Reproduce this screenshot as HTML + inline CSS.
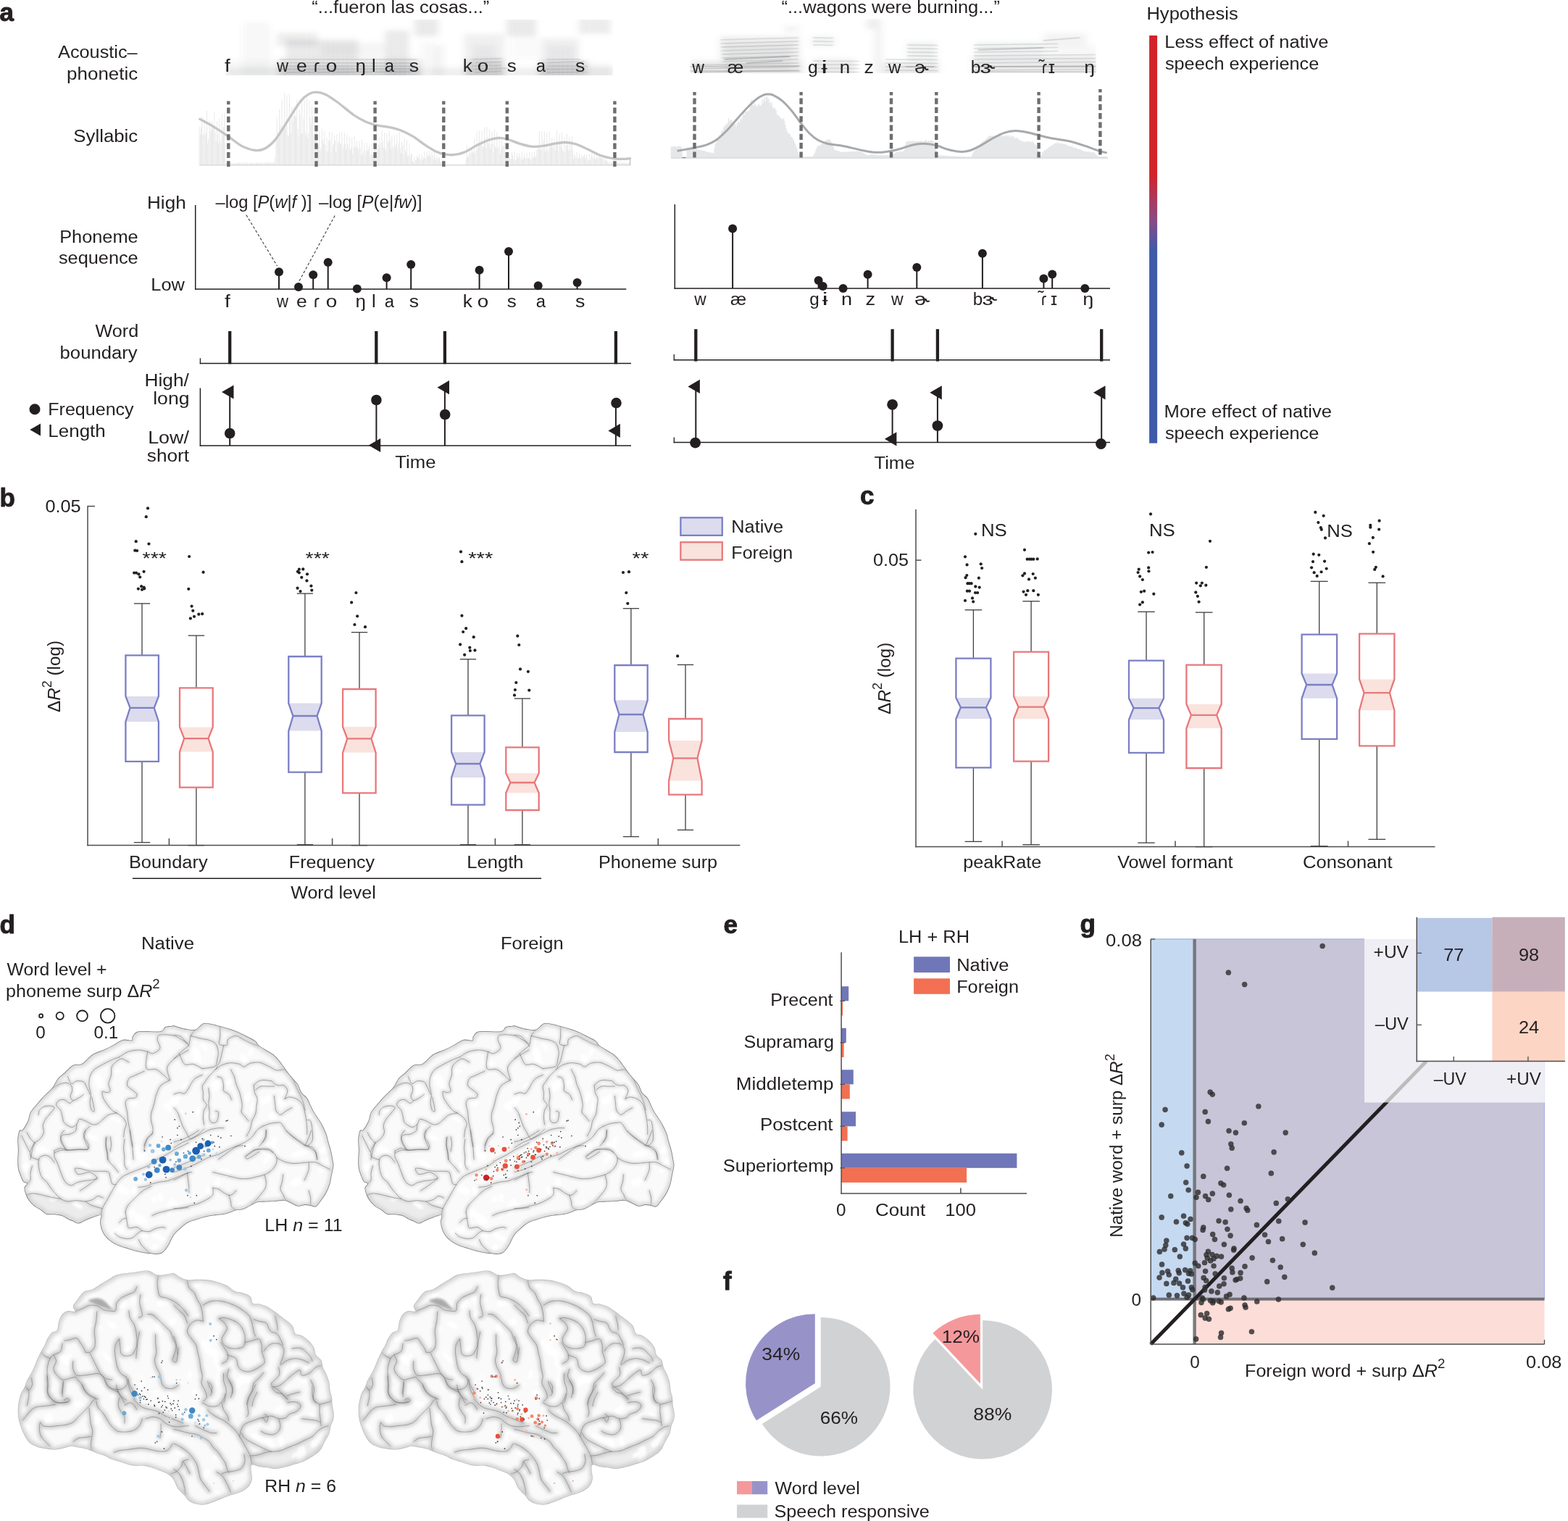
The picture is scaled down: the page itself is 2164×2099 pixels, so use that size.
<!DOCTYPE html>
<html lang="en"><head><meta charset="utf-8"><title>Figure</title>
<style>
html,body{margin:0;padding:0;background:#fff}
svg{display:block}
</style></head>
<body>
<svg width="2164" height="2099" viewBox="0 0 2164 2099" font-family="'Liberation Sans', sans-serif" font-size="24.25" fill="#231f20">
<defs>
<filter id="bl4" x="-20%" y="-20%" width="140%" height="140%"><feGaussianBlur stdDeviation="4.5 3"/></filter>
<filter id="bl1" x="-5%" y="-50%" width="110%" height="200%"><feGaussianBlur stdDeviation="1.2 0.7"/></filter>
<clipPath id="sp1"><rect x="311.4" y="27.5" width="534.1" height="76.1"/></clipPath>
<clipPath id="sp2"><rect x="952" y="26" width="561" height="75"/></clipPath>
<linearGradient id="hyp" x1="0" y1="0" x2="0" y2="1"><stop offset="0" stop-color="#d2232a"/><stop offset="0.34" stop-color="#d2232a"/><stop offset="0.45" stop-color="#8b4a82"/><stop offset="0.525" stop-color="#3f5aa9"/><stop offset="1" stop-color="#3f5aa9"/></linearGradient>
<filter id="bl05" x="-20%" y="-20%" width="140%" height="140%"><feGaussianBlur stdDeviation="0.5"/></filter>
<filter id="bl3" x="-20%" y="-20%" width="140%" height="140%"><feGaussianBlur stdDeviation="2.2"/></filter>
<filter id="bl2" x="-20%" y="-20%" width="140%" height="140%"><feGaussianBlur stdDeviation="1.6"/></filter>
<filter id="sulH" x="-10%" y="-10%" width="120%" height="120%" color-interpolation-filters="sRGB"><feMorphology in="SourceAlpha" operator="dilate" radius="1.7" result="w"/><feGaussianBlur in="w" stdDeviation="1.8" result="b"/><feColorMatrix in="b" type="matrix" values="0 0 0 0 0.6 0 0 0 0 0.6 0 0 0 0 0.6 0 0 0 0.55 0" result="c"/><feMerge><feMergeNode in="c"/><feMergeNode in="SourceGraphic"/></feMerge></filter>
<filter id="sulS" x="-10%" y="-10%" width="120%" height="120%" color-interpolation-filters="sRGB"><feMorphology in="SourceAlpha" operator="dilate" radius="2.3" result="w"/><feGaussianBlur in="w" stdDeviation="2.6" result="b"/><feColorMatrix in="b" type="matrix" values="0 0 0 0 0.52 0 0 0 0 0.52 0 0 0 0 0.52 0 0 0 0.85 0" result="c"/><feMerge><feMergeNode in="c"/><feMergeNode in="SourceGraphic"/></feMerge></filter>
<filter id="edgH" x="-10%" y="-10%" width="120%" height="120%" color-interpolation-filters="sRGB"><feMorphology in="SourceAlpha" operator="dilate" radius="2.5" result="w"/><feGaussianBlur in="w" stdDeviation="2.3" result="b"/><feColorMatrix in="b" type="matrix" values="0 0 0 0 0.77 0 0 0 0 0.77 0 0 0 0 0.77 0 0 0 0.55 0" result="c"/><feMerge><feMergeNode in="c"/><feMergeNode in="SourceGraphic"/></feMerge></filter>
<filter id="edgS" x="-10%" y="-10%" width="120%" height="120%" color-interpolation-filters="sRGB"><feMorphology in="SourceAlpha" operator="dilate" radius="3.0" result="w"/><feGaussianBlur in="w" stdDeviation="2.4" result="b"/><feColorMatrix in="b" type="matrix" values="0 0 0 0 0.74 0 0 0 0 0.74 0 0 0 0 0.74 0 0 0 0.6 0" result="c"/><feMerge><feMergeNode in="c"/><feMergeNode in="SourceGraphic"/></feMerge></filter>
<clipPath id="lhc"><path d="M240 1415.3C242.8 1416 249.8 1418.7 254.7 1419.6C259.6 1420.5 265.1 1422 269.4 1420.8C273.7 1419.6 276.7 1413.6 280.4 1412.2C284.1 1410.9 287.6 1412.2 291.4 1412.9C295.3 1413.5 299.6 1414.8 303.7 1415.9C307.8 1417 311.6 1418.2 315.9 1419.6C320.2 1421 325.1 1422.7 329.4 1424.5C333.7 1426.3 337.8 1428.6 341.6 1430.6C345.5 1432.7 350 1434.7 352.7 1436.7C355.3 1438.8 355.1 1440.8 357.6 1442.9C360 1444.9 364.1 1446.9 367.3 1449C370.6 1451 374.3 1452.9 377.1 1455.1C380 1457.3 382 1459.6 384.5 1462.4C386.9 1465.3 389.6 1469.2 391.8 1472.2C394.1 1475.3 395.9 1478.2 398 1480.8C400 1483.5 401.8 1485.5 404.1 1488.2C406.3 1490.8 409.4 1493.5 411.4 1496.7C413.5 1500 414.3 1504.7 416.3 1507.8C418.4 1510.8 421.6 1512.2 423.7 1515.1C425.7 1518 426.9 1521.6 428.6 1524.9C430.2 1528.2 431.4 1531.2 433.5 1534.7C435.5 1538.2 438.8 1542.4 440.8 1545.7C442.9 1549 444.1 1551 445.7 1554.3C447.3 1557.6 449.4 1561.8 450.6 1565.3C451.8 1568.8 452 1571.4 453.1 1575.1C454.1 1578.8 455.7 1583.2 456.7 1587.3C457.8 1591.5 458.6 1596.4 459.2 1600C459.8 1603.6 460.6 1605.4 460.4 1609C460.2 1612.5 458.8 1617.1 458 1621.2C457.1 1625.3 456.7 1629.4 455.5 1633.5C454.3 1637.6 452.7 1641.8 450.6 1645.7C448.6 1649.6 445.7 1653.5 443.3 1656.7C440.8 1660 438.4 1664.1 435.9 1665.3C433.5 1666.5 431 1664.5 428.6 1664.1C426.1 1663.7 424.1 1662.8 421.2 1662.9C418.4 1663 414.7 1665.1 411.4 1664.7C408.2 1664.3 404.9 1661.7 401.6 1660.4C398.4 1659.1 395.5 1657.1 391.8 1656.7C388.2 1656.3 383.7 1657.7 379.6 1658C375.5 1658.3 371.4 1658.4 367.3 1658.6C363.3 1658.8 358.8 1658.3 355.1 1659.2C351.4 1660.1 348.6 1662.4 345.3 1664.1C342 1665.7 338.8 1668 335.5 1669C332.2 1670 329 1669.4 325.7 1670.2C322.4 1671 319.2 1672.9 315.9 1673.9C312.7 1674.9 309.8 1675.7 306.1 1676.3C302.4 1676.9 298 1676.9 293.9 1677.6C289.8 1678.2 285.7 1679 281.6 1680C277.6 1681 273.1 1682.4 269.4 1683.7C265.7 1684.9 262.9 1685.5 259.6 1687.3C256.3 1689.2 253.1 1691.8 249.8 1694.7C246.5 1697.6 242.8 1700.6 240 1704.5C237.2 1708.4 235.4 1714.1 233.1 1718C230.7 1721.8 228.2 1725.6 225.7 1727.8C223.3 1729.9 221.2 1730.4 218.4 1730.8C215.5 1731.2 212 1730.5 208.6 1730.2C205.1 1729.9 201.2 1729.6 197.6 1729C193.9 1728.4 190 1727.4 186.5 1726.5C183.1 1725.6 180 1724.5 176.7 1723.5C173.5 1722.4 170 1721.5 166.9 1720.4C163.9 1719.3 161 1718.2 158.4 1716.7C155.7 1715.3 153.3 1713.7 151 1711.8C148.8 1710 146.5 1707.8 144.9 1705.7C143.3 1703.7 142.2 1701.8 141.2 1699.6C140.2 1697.3 139.3 1694.7 138.8 1692.2C138.3 1689.8 138.1 1687.3 138.2 1684.9C138.3 1682.4 140.1 1678.7 139.4 1677.6C138.7 1676.4 136.2 1677.6 133.9 1678.2C131.5 1678.8 128.2 1680.1 125.3 1681.2C122.4 1682.3 119.6 1683.7 116.7 1684.9C113.9 1686.1 110.8 1688.5 108.2 1688.6C105.5 1688.7 103.3 1686.5 100.8 1685.5C98.4 1684.5 95.9 1683.7 93.5 1682.4C91 1681.2 89.2 1679.2 86.1 1678.2C83.1 1677.1 78.8 1676.7 75.1 1676.3C71.4 1675.9 67.1 1676.7 64.1 1675.7C61 1674.7 59.4 1671.9 56.7 1670.2C54.1 1668.5 50.8 1667.3 48.2 1665.3C45.5 1663.3 42.9 1660.6 40.8 1658C38.8 1655.3 37.1 1652.4 35.9 1649.4C34.7 1646.3 33.3 1642.2 33.5 1639.6C33.7 1636.9 37.3 1634.9 37.1 1633.5C36.9 1632 33.7 1632.7 32.2 1631C30.8 1629.4 29.8 1626.7 28.6 1623.7C27.3 1620.6 25.6 1616.5 24.9 1612.7C24.2 1608.8 24.3 1604.7 24.3 1600.4C24.3 1596.1 24.9 1591.6 24.9 1586.9C24.9 1582.2 24 1576.7 24.3 1572.2C24.6 1567.8 25.6 1562.2 26.7 1560C27.9 1557.8 29.1 1561.4 31 1559.2C33 1557 36.5 1551 38.4 1546.9C40.2 1542.9 39.8 1538.8 42 1534.7C44.3 1530.6 48.8 1526.1 51.8 1522.4C54.9 1518.8 56.9 1516.3 60.4 1512.7C63.9 1509 69.4 1504.5 72.7 1500.4C75.9 1496.3 77.3 1491.4 80 1488.2C82.7 1484.9 85.1 1483.9 88.6 1480.8C92 1477.8 96.7 1471.9 100.8 1469.8C104.9 1467.7 108.6 1470.4 113.1 1468C117.6 1465.5 122.9 1458.3 127.8 1455.1C132.7 1451.9 138 1451 142.4 1449C146.9 1446.9 150.2 1445.2 154.7 1442.9C159.2 1440.5 164.9 1436.1 169.4 1434.9C173.9 1433.7 179.4 1436.2 181.6 1435.5C183.9 1434.8 181.2 1432.7 182.9 1430.6C184.5 1428.6 185.1 1424.5 191.4 1423.3C197.8 1422 214.7 1424.3 220.8 1423.3C226.9 1422.2 225.3 1418.4 228.2 1417.1C231 1415.9 236 1416 238 1415.7C239.9 1415.4 237.2 1414.7 240 1415.3Z"/></clipPath>
<clipPath id="rhc"><path d="M240 1757.1C242.4 1758.1 246.5 1761.7 249.8 1763.3C253.1 1764.8 255.9 1765.9 259.6 1766.3C263.3 1766.7 267.3 1765.7 271.8 1765.7C276.3 1765.7 281.6 1765.7 286.5 1766.3C291.4 1766.9 296.7 1768.1 301.2 1769.4C305.7 1770.7 309.8 1772.2 313.5 1774.3C317.1 1776.3 319.8 1780 323.3 1781.6C326.7 1783.3 330.6 1782.9 334.3 1784.1C338 1785.3 342.9 1786.5 345.3 1789C347.8 1791.4 346.9 1797 349 1798.8C351 1800.5 354.5 1798.8 357.6 1799.4C360.6 1800 364.1 1800.9 367.3 1802.4C370.6 1804 373.9 1806.3 377.1 1808.6C380.4 1810.8 383.7 1813.5 386.9 1815.9C390.2 1818.4 393.9 1820.8 396.7 1823.3C399.6 1825.7 402.2 1827.8 404.1 1830.6C405.9 1833.5 405.7 1838.4 407.8 1840.4C409.8 1842.4 413.3 1841.2 416.3 1842.9C419.4 1844.5 423.3 1847.3 426.1 1850.2C429 1853.1 431.8 1856.7 433.5 1860C435.1 1863.3 434.3 1866.9 435.9 1869.8C437.6 1872.7 441.6 1874.3 443.3 1877.1C444.9 1880 444.5 1883.7 445.7 1886.9C446.9 1890.2 449.2 1893.3 450.6 1896.7C452 1900.2 453.5 1904.1 454.3 1907.8C455.1 1911.4 454.9 1915.3 455.5 1918.8C456.1 1922.2 457.4 1925.1 458 1928.6C458.5 1932 458.2 1936.2 458.6 1939.4C459 1942.6 460.1 1944.9 460.4 1948C460.7 1951 461 1954.5 460.4 1957.8C459.8 1961 457.8 1964.1 456.7 1967.6C455.7 1971 455.7 1974.9 454.3 1978.6C452.9 1982.3 450 1986.1 448.2 1989.6C446.3 1993.1 445.3 1996.6 443.3 1999.4C441.2 2002.3 438.8 2004.5 435.9 2006.8C433.1 2009 429.4 2011 426.1 2012.9C422.9 2014.7 420 2016.3 416.3 2017.8C412.7 2019.2 408.2 2020.2 404.1 2021.4C400 2022.7 395.9 2024.2 391.8 2025.1C387.8 2026 383.7 2027 379.6 2027C375.5 2027 371 2025.6 367.3 2025.1C363.7 2024.6 360.8 2024.5 357.6 2023.9C354.3 2023.3 349.6 2020.6 347.8 2021.4C345.9 2022.3 346.5 2025.7 346.5 2028.8C346.5 2031.9 348 2036.6 347.8 2039.8C347.6 2043.1 346.9 2045.7 345.3 2048.4C343.7 2051 340.8 2053.7 338 2055.7C335.1 2057.8 331.8 2059.2 328.2 2060.6C324.5 2062.1 319.6 2063.1 315.9 2064.3C312.2 2065.5 309.8 2066.6 306.1 2068C302.4 2069.4 298 2071.4 293.9 2072.9C289.8 2074.3 285.7 2076.1 281.6 2076.6C277.6 2077 273 2076.3 269.4 2075.3C265.8 2074.3 262.4 2072.3 260 2070.4C257.6 2068.6 256.9 2066.3 255.1 2064.3C253.3 2062.3 250.8 2060.2 249 2058.2C247.1 2056.1 245.5 2054.5 244.1 2052.1C242.7 2049.6 241.8 2045.9 240.4 2043.5C239 2041 237.6 2039.2 235.5 2037.4C233.5 2035.5 231 2033.9 228.2 2032.5C225.3 2031 221.6 2030 218.4 2028.8C215.1 2027.6 211.8 2026.1 208.6 2025.1C205.3 2024.1 202 2023.1 198.8 2022.7C195.5 2022.3 192.4 2022.9 189 2022.7C185.5 2022.5 181.6 2022.3 178 2021.4C174.3 2020.6 170.8 2019 166.9 2017.8C163.1 2016.6 158.4 2015.5 154.7 2014.1C151 2012.7 148.2 2010.5 144.9 2009.2C141.6 2007.9 138.4 2007.4 135.1 2006.1C131.8 2004.9 128.6 2003.1 125.3 2001.9C122 2000.6 118.8 1999.6 115.5 1998.8C112.2 1998 108.6 1997.5 105.7 1997C102.9 1996.4 101.2 1995.5 98.4 1995.7C95.5 1995.9 92.2 1997.4 88.6 1998.2C84.9 1999 80.4 2000.4 76.3 2000.6C72.2 2000.8 68.2 2000 64.1 1999.4C60 1998.8 55.5 1998.2 51.8 1997C48.2 1995.7 44.7 1994.1 42 1992.1C39.4 1990 37.8 1987.6 35.9 1984.7C34.1 1981.9 32.4 1978.2 31 1974.9C29.6 1971.7 28.4 1968.8 27.3 1965.1C26.3 1961.4 25.3 1957 24.9 1952.9C24.5 1948.8 24.7 1943.9 24.9 1940.6C25.1 1937.4 25.5 1936.3 26.1 1933.5C26.7 1930.6 27.3 1926.7 28.6 1923.7C29.8 1920.6 32 1918.2 33.5 1915.1C34.9 1912 35.7 1908.4 37.1 1905.3C38.6 1902.2 40.4 1899.8 42 1896.7C43.7 1893.7 45.3 1890.6 46.9 1886.9C48.6 1883.3 50.2 1878.4 51.8 1874.7C53.5 1871 55.1 1868 56.7 1864.9C58.4 1861.8 60.2 1859.2 61.6 1856.3C63.1 1853.5 63.7 1850.6 65.3 1847.8C66.9 1844.9 69.2 1841.2 71.4 1839.2C73.7 1837.1 77.1 1838.2 78.8 1835.5C80.4 1832.9 80 1826.9 81.2 1823.3C82.4 1819.6 84.1 1815.8 86.1 1813.5C88.2 1811.1 90.6 1809.8 93.5 1809.2C96.3 1808.6 102 1810.9 103.3 1809.8C104.5 1808.7 100.4 1804.9 100.8 1802.4C101.2 1800 103.3 1798.4 105.7 1795.1C108.2 1791.8 111.8 1785.5 115.5 1782.9C119.2 1780.2 124.1 1780.8 127.8 1779.2C131.4 1777.6 133.9 1775.3 137.6 1773.1C141.2 1770.8 145.7 1768.1 149.8 1765.7C153.9 1763.4 156.3 1760.6 162 1759C167.8 1757.3 177.1 1756.8 184.1 1755.9C191 1755 198 1752.9 203.7 1753.5C209.4 1754.1 213.1 1758.9 218.4 1759.6C223.7 1760.2 231.9 1757.8 235.5 1757.4C239.1 1757 237.6 1756.2 240 1757.1Z"/></clipPath>
</defs>
<rect width="2164" height="2099" fill="#fff"/>
<g id="panel-a">
<text x="-0.5" y="29" font-size="35" font-weight="bold" stroke="#231f20" stroke-width="0.9" stroke-linejoin="round">a</text>
<text x="430.38" y="17.9" textLength="244.93" lengthAdjust="spacingAndGlyphs">“...fueron las cosas...”</text>
<text x="1078.48" y="17.9" textLength="301.43" lengthAdjust="spacingAndGlyphs">“...wagons were burning...”</text>
<text x="80.05" y="79.8" textLength="109.56" lengthAdjust="spacingAndGlyphs">Acoustic–</text>
<text x="92.09" y="109.9" textLength="98.17" lengthAdjust="spacingAndGlyphs">phonetic</text>
<text x="101.36" y="196" textLength="88.89" lengthAdjust="spacingAndGlyphs">Syllabic</text>
<text x="82.15" y="334.5" textLength="108.56" lengthAdjust="spacingAndGlyphs">Phoneme</text>
<text x="80.9" y="364.4" textLength="109.81" lengthAdjust="spacingAndGlyphs">sequence</text>
<text x="131.59" y="465.3" textLength="59.62" lengthAdjust="spacingAndGlyphs">Word</text>
<text x="82.59" y="495.3" textLength="107.06" lengthAdjust="spacingAndGlyphs">boundary</text>
<text x="203.05" y="288.4" textLength="53.57" lengthAdjust="spacingAndGlyphs">High</text>
<text x="208.35" y="400.7" textLength="46.59" lengthAdjust="spacingAndGlyphs">Low</text>
<text x="199.55" y="532.9" textLength="61.35" lengthAdjust="spacingAndGlyphs">High/</text>
<text x="211.22" y="557.8" textLength="50.2" lengthAdjust="spacingAndGlyphs">long</text>
<text x="204.15" y="611.9" textLength="56.75" lengthAdjust="spacingAndGlyphs">Low/</text>
<text x="202.8" y="636.8" textLength="58.28" lengthAdjust="spacingAndGlyphs">short</text>
<circle cx="48" cy="564.7" r="7.5" fill="#231f20"/>
<text x="66.25" y="573.3" textLength="118.4" lengthAdjust="spacingAndGlyphs">Frequency</text>
<path d="M41.3 593L56 584.6L56 601.4Z" fill="#231f20"/>
<text x="66.35" y="603.3" textLength="79.37" lengthAdjust="spacingAndGlyphs">Length</text>
<text x="545.34" y="646.4" textLength="56.17" lengthAdjust="spacingAndGlyphs">Time</text>
<text x="1206.44" y="646.5" textLength="55.97" lengthAdjust="spacingAndGlyphs">Time</text>
<g clip-path="url(#sp1)">
<g filter="url(#bl4)" fill="#6b6d71">
<rect x="310.46" y="93.37" width="535.33" height="14.01" opacity="0.11"/>
<rect x="335.36" y="31.12" width="37.35" height="71.58" opacity="0.05"/>
<rect x="310.46" y="84.03" width="71.58" height="21.79" opacity="0.05"/>
<rect x="382.04" y="45.13" width="56.02" height="18.67" opacity="0.12"/>
<rect x="394.49" y="54.47" width="99.6" height="28.01" opacity="0.14"/>
<rect x="444.29" y="59.13" width="87.15" height="18.67" opacity="0.07"/>
<rect x="382.04" y="81.54" width="199.19" height="25.83" opacity="0.18"/>
<rect x="388.27" y="89.64" width="99.6" height="16.18" opacity="0.14"/>
<rect x="487.86" y="91.81" width="93.37" height="15.56" opacity="0.08"/>
<rect x="531.44" y="42.02" width="32.68" height="63.8" opacity="0.14"/>
<rect x="571.9" y="24.9" width="32.68" height="24.9" opacity="0.15"/>
<rect x="596.8" y="62.25" width="15.56" height="43.57" opacity="0.08"/>
<rect x="581.24" y="56.02" width="15.56" height="37.35" opacity="0.04"/>
<rect x="640.37" y="46.69" width="56.02" height="59.13" opacity="0.1"/>
<rect x="643.48" y="82.48" width="51.35" height="24.9" opacity="0.21"/>
<rect x="652.82" y="62.25" width="31.12" height="24.9" opacity="0.07"/>
<rect x="699.51" y="24.9" width="40.46" height="24.9" opacity="0.15"/>
<rect x="705.73" y="49.8" width="37.35" height="31.12" opacity="0.03"/>
<rect x="746.19" y="52.91" width="52.91" height="52.91" opacity="0.1"/>
<rect x="743.08" y="84.03" width="68.47" height="23.34" opacity="0.21"/>
<rect x="755.53" y="62.25" width="37.35" height="21.79" opacity="0.07"/>
<rect x="799.1" y="24.9" width="43.57" height="21.79" opacity="0.13"/>
<rect x="811.55" y="88.7" width="34.24" height="18.67" opacity="0.08"/>
</g>
<g filter="url(#bl1)" stroke="#808285" opacity="0.25">
<line x1="386.86" y1="82" x2="575.47" y2="81.89" stroke-width="1.5"/>
<line x1="391.25" y1="86.5" x2="574.49" y2="87.3" stroke-width="1.5"/>
<line x1="384.16" y1="91" x2="571.95" y2="91.22" stroke-width="1.5"/>
<line x1="386.81" y1="95.5" x2="570.05" y2="95.09" stroke-width="1.5"/>
<line x1="394.04" y1="100" x2="576.28" y2="99.08" stroke-width="1.5"/>
<line x1="651.81" y1="82" x2="692.38" y2="80.4" stroke-width="1.5"/>
<line x1="656.28" y1="86.5" x2="691.1" y2="85.49" stroke-width="1.5"/>
<line x1="650.77" y1="91" x2="690.9" y2="90.23" stroke-width="1.5"/>
<line x1="653.62" y1="95.5" x2="699.63" y2="93.9" stroke-width="1.5"/>
<line x1="655.67" y1="100" x2="691.37" y2="98.36" stroke-width="1.5"/>
<line x1="754.57" y1="82" x2="800.95" y2="81.82" stroke-width="1.5"/>
<line x1="755.61" y1="86.5" x2="806.66" y2="84.69" stroke-width="1.5"/>
<line x1="756.55" y1="91" x2="810.83" y2="91.59" stroke-width="1.5"/>
<line x1="748.6" y1="95.5" x2="800.41" y2="95.19" stroke-width="1.5"/>
<line x1="753.52" y1="100" x2="808.39" y2="99.48" stroke-width="1.5"/>
</g>
<path d="M318 27.5V103.6M324.6 27.5V103.6M331.2 27.5V103.6M337.8 27.5V103.6M344.4 27.5V103.6M351 27.5V103.6M357.6 27.5V103.6M364.2 27.5V103.6M370.8 27.5V103.6M377.4 27.5V103.6M384 27.5V103.6M390.6 27.5V103.6M397.2 27.5V103.6M403.8 27.5V103.6M410.4 27.5V103.6M417 27.5V103.6M423.6 27.5V103.6M430.2 27.5V103.6M436.8 27.5V103.6M443.4 27.5V103.6M450 27.5V103.6M456.6 27.5V103.6M463.2 27.5V103.6M469.8 27.5V103.6M476.4 27.5V103.6M483 27.5V103.6M489.6 27.5V103.6M496.2 27.5V103.6M502.8 27.5V103.6M509.4 27.5V103.6M516 27.5V103.6M522.6 27.5V103.6M529.2 27.5V103.6M535.8 27.5V103.6M542.4 27.5V103.6M549 27.5V103.6M555.6 27.5V103.6M562.2 27.5V103.6M568.8 27.5V103.6M575.4 27.5V103.6M582 27.5V103.6M588.6 27.5V103.6M595.2 27.5V103.6M601.8 27.5V103.6M608.4 27.5V103.6M615 27.5V103.6M621.6 27.5V103.6M628.2 27.5V103.6M634.8 27.5V103.6M641.4 27.5V103.6M648 27.5V103.6M654.6 27.5V103.6M661.2 27.5V103.6M667.8 27.5V103.6M674.4 27.5V103.6M681 27.5V103.6M687.6 27.5V103.6M694.2 27.5V103.6M700.8 27.5V103.6M707.4 27.5V103.6M714 27.5V103.6M720.6 27.5V103.6M727.2 27.5V103.6M733.8 27.5V103.6M740.4 27.5V103.6M747 27.5V103.6M753.6 27.5V103.6M760.2 27.5V103.6M766.8 27.5V103.6M773.4 27.5V103.6M780 27.5V103.6M786.6 27.5V103.6M793.2 27.5V103.6M799.8 27.5V103.6M806.4 27.5V103.6M813 27.5V103.6M819.6 27.5V103.6M826.2 27.5V103.6M832.8 27.5V103.6M839.4 27.5V103.6" stroke="#fff" stroke-width="0.6" opacity="0.2" fill="none"/>
</g>
<g clip-path="url(#sp2)">
<g filter="url(#bl4)" fill="#6f7175">
<rect x="952" y="84" width="156" height="22" opacity="0.16"/>
<rect x="994" y="50" width="110" height="34" opacity="0.12"/>
<rect x="1000" y="60" width="92" height="40" opacity="0.08"/>
<rect x="1082" y="36" width="22" height="8" opacity="0.08"/>
<rect x="1120" y="50" width="32" height="14" opacity="0.1"/>
<rect x="1122" y="82" width="58" height="24" opacity="0.14"/>
<rect x="1196" y="26" width="20" height="14" opacity="0.12"/>
<rect x="1206" y="40" width="12" height="64" opacity="0.08"/>
<rect x="1218" y="86" width="78" height="20" opacity="0.14"/>
<rect x="1252" y="58" width="40" height="28" opacity="0.1"/>
<rect x="1342" y="78" width="171" height="28" opacity="0.14"/>
<rect x="1346" y="58" width="94" height="22" opacity="0.1"/>
<rect x="1440" y="46" width="60" height="18" opacity="0.08"/>
<rect x="1440" y="62" width="73" height="18" opacity="0.06"/>
</g>
<g filter="url(#bl1)" stroke="#77797d" fill="none">
<line x1="994" y1="55" x2="1102" y2="52" stroke-width="1.6" opacity="0.2"/>
<line x1="994.5" y1="60" x2="1102" y2="57" stroke-width="1.6" opacity="0.23"/>
<line x1="995" y1="65" x2="1102" y2="62" stroke-width="1.6" opacity="0.26"/>
<line x1="995.5" y1="70" x2="1102" y2="67" stroke-width="1.6" opacity="0.2"/>
<line x1="996" y1="75" x2="1102" y2="72" stroke-width="1.6" opacity="0.23"/>
<line x1="996.5" y1="80" x2="1102" y2="77" stroke-width="1.6" opacity="0.26"/>
<line x1="997" y1="85" x2="1102" y2="82" stroke-width="1.6" opacity="0.2"/>
<line x1="957.5" y1="90" x2="1102" y2="87" stroke-width="1.6" opacity="0.23"/>
<line x1="958" y1="95" x2="1102" y2="92" stroke-width="1.6" opacity="0.26"/>
<line x1="958.5" y1="100" x2="1102" y2="97" stroke-width="1.6" opacity="0.2"/>
<line x1="1000" y1="82" x2="1090" y2="78" stroke-width="1.8" opacity="0.4"/>
<line x1="1030" y1="87" x2="1080" y2="84" stroke-width="1.8" opacity="0.35"/>
<line x1="953" y1="92" x2="1104" y2="91" stroke-width="2" opacity="0.3"/>
<line x1="953" y1="98" x2="1104" y2="98" stroke-width="2" opacity="0.25"/>
<line x1="1122" y1="52" x2="1150" y2="52.5" stroke-width="1.6" opacity="0.2"/>
<line x1="1122" y1="57" x2="1150" y2="57.5" stroke-width="1.6" opacity="0.2"/>
<line x1="1122" y1="62" x2="1150" y2="62.5" stroke-width="1.6" opacity="0.2"/>
<line x1="1122" y1="84" x2="1186" y2="84.5" stroke-width="1.6" opacity="0.2"/>
<line x1="1122" y1="89" x2="1186" y2="89.5" stroke-width="1.6" opacity="0.2"/>
<line x1="1122" y1="94" x2="1186" y2="94.5" stroke-width="1.6" opacity="0.2"/>
<line x1="1122" y1="99" x2="1186" y2="99.5" stroke-width="1.6" opacity="0.2"/>
<line x1="1252" y1="62" x2="1294" y2="62.5" stroke-width="1.6" opacity="0.22"/>
<line x1="1252" y1="67" x2="1294" y2="67.5" stroke-width="1.6" opacity="0.22"/>
<line x1="1252" y1="72" x2="1294" y2="72.5" stroke-width="1.6" opacity="0.22"/>
<line x1="1252" y1="77" x2="1294" y2="77.5" stroke-width="1.6" opacity="0.22"/>
<line x1="1222" y1="82" x2="1294" y2="82.5" stroke-width="1.6" opacity="0.22"/>
<line x1="1222" y1="87" x2="1294" y2="87.5" stroke-width="1.6" opacity="0.22"/>
<line x1="1222" y1="92" x2="1294" y2="92.5" stroke-width="1.6" opacity="0.22"/>
<line x1="1222" y1="97" x2="1294" y2="97.5" stroke-width="1.6" opacity="0.22"/>
<line x1="1250" y1="92" x2="1290" y2="92" stroke-width="2" opacity="0.35"/>
<line x1="1344" y1="62" x2="1460" y2="60.5" stroke-width="1.6" opacity="0.22"/>
<line x1="1344" y1="67" x2="1460" y2="65.5" stroke-width="1.6" opacity="0.22"/>
<line x1="1344" y1="72" x2="1460" y2="70.5" stroke-width="1.6" opacity="0.22"/>
<line x1="1344" y1="77" x2="1512" y2="75.5" stroke-width="1.6" opacity="0.22"/>
<line x1="1344" y1="82" x2="1512" y2="80.5" stroke-width="1.6" opacity="0.22"/>
<line x1="1344" y1="87" x2="1512" y2="85.5" stroke-width="1.6" opacity="0.22"/>
<line x1="1344" y1="92" x2="1512" y2="90.5" stroke-width="1.6" opacity="0.22"/>
<line x1="1344" y1="97" x2="1512" y2="95.5" stroke-width="1.6" opacity="0.22"/>
<line x1="1350" y1="69" x2="1440" y2="66" stroke-width="1.8" opacity="0.3"/>
<line x1="1440" y1="56" x2="1490" y2="52" stroke-width="1.8" opacity="0.22"/>
<line x1="1344" y1="92" x2="1512" y2="92" stroke-width="2.2" opacity="0.35"/>
<line x1="1344" y1="99" x2="1512" y2="99" stroke-width="1.8" opacity="0.22"/>
</g>
</g>
<text x="309.95" y="98.8" textLength="7.82" lengthAdjust="spacingAndGlyphs" font-family="'Liberation Sans','DejaVu Sans',sans-serif">f</text>
<text x="382.04" y="98.8" textLength="16" lengthAdjust="spacingAndGlyphs" font-family="'Liberation Sans','DejaVu Sans',sans-serif">w</text>
<text x="408.94" y="98.8" textLength="14.77" lengthAdjust="spacingAndGlyphs" font-family="'Liberation Sans','DejaVu Sans',sans-serif">e</text>
<text x="432.77" y="98.8" textLength="8.15" lengthAdjust="spacingAndGlyphs" font-family="'Liberation Sans','DejaVu Sans',sans-serif">ɾ</text>
<text x="449.75" y="98.8" textLength="15.5" lengthAdjust="spacingAndGlyphs" font-family="'Liberation Sans','DejaVu Sans',sans-serif">o</text>
<text x="490.49" y="98.8" textLength="14.38" lengthAdjust="spacingAndGlyphs" font-family="'Liberation Sans','DejaVu Sans',sans-serif">ŋ</text>
<text x="513.02" y="98.8" textLength="5.66" lengthAdjust="spacingAndGlyphs" font-family="'Liberation Sans','DejaVu Sans',sans-serif">l</text>
<text x="530.64" y="98.8" textLength="13.26" lengthAdjust="spacingAndGlyphs" font-family="'Liberation Sans','DejaVu Sans',sans-serif">a</text>
<text x="564.7" y="98.8" textLength="13.3" lengthAdjust="spacingAndGlyphs" font-family="'Liberation Sans','DejaVu Sans',sans-serif">s</text>
<text x="638.72" y="98.8" textLength="13.15" lengthAdjust="spacingAndGlyphs" font-family="'Liberation Sans','DejaVu Sans',sans-serif">k</text>
<text x="658.65" y="98.8" textLength="15.5" lengthAdjust="spacingAndGlyphs" font-family="'Liberation Sans','DejaVu Sans',sans-serif">o</text>
<text x="699.8" y="98.8" textLength="13" lengthAdjust="spacingAndGlyphs" font-family="'Liberation Sans','DejaVu Sans',sans-serif">s</text>
<text x="739.74" y="98.8" textLength="13.26" lengthAdjust="spacingAndGlyphs" font-family="'Liberation Sans','DejaVu Sans',sans-serif">a</text>
<text x="793.9" y="98.8" textLength="13.4" lengthAdjust="spacingAndGlyphs" font-family="'Liberation Sans','DejaVu Sans',sans-serif">s</text>
<text x="309.95" y="424.3" textLength="7.82" lengthAdjust="spacingAndGlyphs" font-family="'Liberation Sans','DejaVu Sans',sans-serif">f</text>
<text x="382.04" y="424.3" textLength="16" lengthAdjust="spacingAndGlyphs" font-family="'Liberation Sans','DejaVu Sans',sans-serif">w</text>
<text x="408.94" y="424.3" textLength="14.77" lengthAdjust="spacingAndGlyphs" font-family="'Liberation Sans','DejaVu Sans',sans-serif">e</text>
<text x="432.77" y="424.3" textLength="8.15" lengthAdjust="spacingAndGlyphs" font-family="'Liberation Sans','DejaVu Sans',sans-serif">ɾ</text>
<text x="449.75" y="424.3" textLength="15.5" lengthAdjust="spacingAndGlyphs" font-family="'Liberation Sans','DejaVu Sans',sans-serif">o</text>
<text x="490.49" y="424.3" textLength="14.38" lengthAdjust="spacingAndGlyphs" font-family="'Liberation Sans','DejaVu Sans',sans-serif">ŋ</text>
<text x="513.02" y="424.3" textLength="5.66" lengthAdjust="spacingAndGlyphs" font-family="'Liberation Sans','DejaVu Sans',sans-serif">l</text>
<text x="530.64" y="424.3" textLength="13.26" lengthAdjust="spacingAndGlyphs" font-family="'Liberation Sans','DejaVu Sans',sans-serif">a</text>
<text x="564.7" y="424.3" textLength="13.3" lengthAdjust="spacingAndGlyphs" font-family="'Liberation Sans','DejaVu Sans',sans-serif">s</text>
<text x="638.72" y="424.3" textLength="13.15" lengthAdjust="spacingAndGlyphs" font-family="'Liberation Sans','DejaVu Sans',sans-serif">k</text>
<text x="658.65" y="424.3" textLength="15.5" lengthAdjust="spacingAndGlyphs" font-family="'Liberation Sans','DejaVu Sans',sans-serif">o</text>
<text x="699.8" y="424.3" textLength="13" lengthAdjust="spacingAndGlyphs" font-family="'Liberation Sans','DejaVu Sans',sans-serif">s</text>
<text x="739.74" y="424.3" textLength="13.26" lengthAdjust="spacingAndGlyphs" font-family="'Liberation Sans','DejaVu Sans',sans-serif">a</text>
<text x="793.9" y="424.3" textLength="13.4" lengthAdjust="spacingAndGlyphs" font-family="'Liberation Sans','DejaVu Sans',sans-serif">s</text>
<text x="955.14" y="101.2" textLength="16.7" lengthAdjust="spacingAndGlyphs" font-family="'Liberation Sans','DejaVu Sans',sans-serif">w</text>
<text x="1003.79" y="101.2" textLength="22.52" lengthAdjust="spacingAndGlyphs" font-family="'Liberation Sans','DejaVu Sans',sans-serif">æ</text>
<text x="1115.05" y="101.2" textLength="13.76" lengthAdjust="spacingAndGlyphs" font-family="'Liberation Sans','DejaVu Sans',sans-serif">g</text>
<text x="1133.21" y="101.2" textLength="8.79" lengthAdjust="spacingAndGlyphs" font-family="'Liberation Sans','DejaVu Sans',sans-serif">ɨ</text>
<text x="1158.74" y="101.2" textLength="14.38" lengthAdjust="spacingAndGlyphs" font-family="'Liberation Sans','DejaVu Sans',sans-serif">n</text>
<text x="1192.59" y="101.2" textLength="13.36" lengthAdjust="spacingAndGlyphs" font-family="'Liberation Sans','DejaVu Sans',sans-serif">z</text>
<text x="1226.04" y="101.2" textLength="17.3" lengthAdjust="spacingAndGlyphs" font-family="'Liberation Sans','DejaVu Sans',sans-serif">w</text>
<text x="1261.94" y="101.2" textLength="19.84" lengthAdjust="spacingAndGlyphs" font-family="'Liberation Sans','DejaVu Sans',sans-serif">ɚ</text>
<text x="1339.89" y="101.2" textLength="13.66" lengthAdjust="spacingAndGlyphs" font-family="'Liberation Sans','DejaVu Sans',sans-serif">b</text>
<text x="1352.65" y="101.2" textLength="20.82" lengthAdjust="spacingAndGlyphs" font-family="'Liberation Sans','DejaVu Sans',sans-serif">ɝ</text>
<text x="1437.77" y="101.2" textLength="7.15" lengthAdjust="spacingAndGlyphs" font-family="'Liberation Sans','DejaVu Sans',sans-serif">ɾ</text>
<text x="1446.87" y="101.2" textLength="9.25" lengthAdjust="spacingAndGlyphs" font-family="'Liberation Sans','DejaVu Sans',sans-serif">ɪ</text>
<text x="1496.29" y="101.2" textLength="14.68" lengthAdjust="spacingAndGlyphs" font-family="'Liberation Sans','DejaVu Sans',sans-serif">ŋ</text>
<text x="1433.5" y="98.7" font-family="'Liberation Sans','DejaVu Sans',sans-serif">˜</text>
<text x="958.24" y="420.8" textLength="16.4" lengthAdjust="spacingAndGlyphs" font-family="'Liberation Sans','DejaVu Sans',sans-serif">w</text>
<text x="1007.99" y="420.8" textLength="22.12" lengthAdjust="spacingAndGlyphs" font-family="'Liberation Sans','DejaVu Sans',sans-serif">æ</text>
<text x="1117.15" y="420.8" textLength="13.46" lengthAdjust="spacingAndGlyphs" font-family="'Liberation Sans','DejaVu Sans',sans-serif">g</text>
<text x="1134.41" y="420.8" textLength="8.29" lengthAdjust="spacingAndGlyphs" font-family="'Liberation Sans','DejaVu Sans',sans-serif">ɨ</text>
<text x="1160.94" y="420.8" textLength="15.08" lengthAdjust="spacingAndGlyphs" font-family="'Liberation Sans','DejaVu Sans',sans-serif">n</text>
<text x="1194.59" y="420.8" textLength="13.66" lengthAdjust="spacingAndGlyphs" font-family="'Liberation Sans','DejaVu Sans',sans-serif">z</text>
<text x="1230.04" y="420.8" textLength="16.7" lengthAdjust="spacingAndGlyphs" font-family="'Liberation Sans','DejaVu Sans',sans-serif">w</text>
<text x="1261.94" y="420.8" textLength="21.34" lengthAdjust="spacingAndGlyphs" font-family="'Liberation Sans','DejaVu Sans',sans-serif">ɚ</text>
<text x="1342.79" y="420.8" textLength="13.46" lengthAdjust="spacingAndGlyphs" font-family="'Liberation Sans','DejaVu Sans',sans-serif">b</text>
<text x="1355.55" y="420.8" textLength="20.92" lengthAdjust="spacingAndGlyphs" font-family="'Liberation Sans','DejaVu Sans',sans-serif">ɝ</text>
<text x="1436.77" y="420.8" textLength="7.45" lengthAdjust="spacingAndGlyphs" font-family="'Liberation Sans','DejaVu Sans',sans-serif">ɾ</text>
<text x="1449.97" y="420.8" textLength="9.05" lengthAdjust="spacingAndGlyphs" font-family="'Liberation Sans','DejaVu Sans',sans-serif">ɪ</text>
<text x="1494.29" y="420.8" textLength="14.98" lengthAdjust="spacingAndGlyphs" font-family="'Liberation Sans','DejaVu Sans',sans-serif">ŋ</text>
<text x="1432.5" y="418.3" font-family="'Liberation Sans','DejaVu Sans',sans-serif">˜</text>
<path d="M275.2 227.9v-53.43M276.35 227.9v-42.55M277.5 227.9v-52.58M278.65 227.9v-67.76M279.8 227.9v-41.35M280.95 227.9v-43.6M282.1 227.9v-62.59M283.25 227.9v-41.67M284.4 227.9v-45M285.55 227.9v-74.93M286.7 227.9v-30.31M287.85 227.9v-36.17M289 227.9v-61.37M290.15 227.9v-50.39M291.3 227.9v-47.24M292.45 227.9v-60.71M293.6 227.9v-55.48M294.75 227.9v-55.09M295.9 227.9v-73.3M297.05 227.9v-45.45M298.2 227.9v-32.62M299.35 227.9v-60.79M300.5 227.9v-43.21M301.65 227.9v-30.01M302.8 227.9v-64.64M303.95 227.9v-35.29M305.1 227.9v-29.32M306.25 227.9v-70.54M307.4 227.9v-41.14M308.55 227.9v-52.7M309.7 227.9v-72.02M310.85 227.9v-28.48M312 227.9v-3.1M313.15 227.9v-5.14M314.3 227.9v-2.72M315.45 227.9v-2.25M316.6 227.9v-4.75M317.75 227.9v-3.12M318.9 227.9v-2.69M320.05 227.9v-3.62M321.2 227.9v-1.8M322.35 227.9v-1.7M323.5 227.9v-3.26M324.65 227.9v-1.49M325.8 227.9v-2.47M326.95 227.9v-3.42M328.1 227.9v-2.61M329.25 227.9v-1.97M330.4 227.9v-4.03M331.55 227.9v-2.65M332.7 227.9v-1.44M333.85 227.9v-3.32M335 227.9v-2.78M336.15 227.9v-2.15M337.3 227.9v-4.17M338.45 227.9v-2.06M339.6 227.9v-1.59M340.75 227.9v-3.86M341.9 227.9v-2.66M343.05 227.9v-1.91M344.2 227.9v-3.33M345.35 227.9v-2.02M346.5 227.9v-2.99M347.65 227.9v-4.1M348.8 227.9v-1.72M349.95 227.9v-1.92M351.1 227.9v-3.43M352.25 227.9v-1.65M353.4 227.9v-2.81M354.55 227.9v-3.56M355.7 227.9v-2.46M356.85 227.9v-2.29M358 227.9v-3.62M359.15 227.9v-2.77M360.3 227.9v-1.81M361.45 227.9v-4.19M362.6 227.9v-1.81M363.75 227.9v-2.31M364.9 227.9v-3.74M366.05 227.9v-2.08M367.2 227.9v-3.24M368.35 227.9v-4.49M369.5 227.9v-2.16M370.65 227.9v-3.14M371.8 227.9v-3.84M372.95 227.9v-2.34M374.1 227.9v-3.13M375.25 227.9v-4.4M376.4 227.9v-1.87M377.55 227.9v-3.39M378.7 227.9v-3.93M379.85 227.9v-11.05M381 227.9v-32.51M382.15 227.9v-66.34M383.3 227.9v-45.33M384.45 227.9v-37.54M385.6 227.9v-77.21M386.75 227.9v-55.38M387.9 227.9v-43.5M389.05 227.9v-90.04M390.2 227.9v-48.03M391.35 227.9v-50.89M392.5 227.9v-99.06M393.65 227.9v-51.98M394.8 227.9v-55.18M395.95 227.9v-96.8M397.1 227.9v-41.47M398.25 227.9v-40.47M399.4 227.9v-97.92M400.55 227.9v-63.77M401.7 227.9v-43.84M402.85 227.9v-79.96M404 227.9v-61.06M405.15 227.9v-68.13M406.3 227.9v-80.19M407.45 227.9v-68.5M408.6 227.9v-66.13M409.75 227.9v-90.45M410.9 227.9v-49.96M412.05 227.9v-38.81M413.2 227.9v-76.32M414.35 227.9v-69.03M415.5 227.9v-43.57M416.65 227.9v-93.11M417.8 227.9v-44.24M418.95 227.9v-64.2M420.1 227.9v-90.45M421.25 227.9v-45.55M422.4 227.9v-41.4M423.55 227.9v-93.63M424.7 227.9v-37.66M425.85 227.9v-43.3M427 227.9v-89.63M428.15 227.9v-65.32M429.3 227.9v-56.94M430.45 227.9v-82.66M431.6 227.9v-67.66M432.75 227.9v-42.49M433.9 227.9v-76.06M435.05 227.9v-44.81M436.2 227.9v-49.82M437.35 227.9v-64.55M438.5 227.9v-28.93M439.65 227.9v-26.92M440.8 227.9v-46.25M441.95 227.9v-20.45M443.1 227.9v-24.55M444.25 227.9v-49.93M445.4 227.9v-35.48M446.55 227.9v-29.59M447.7 227.9v-46.95M448.85 227.9v-28.13M450 227.9v-20.18M451.15 227.9v-38.25M452.3 227.9v-17.91M453.45 227.9v-33.5M454.6 227.9v-46.22M455.75 227.9v-34.21M456.9 227.9v-17.75M458.05 227.9v-44.99M459.2 227.9v-25.6M460.35 227.9v-29.79M461.5 227.9v-40.68M462.65 227.9v-34.21M463.8 227.9v-18.34M464.95 227.9v-43.06M466.1 227.9v-29.44M467.25 227.9v-32.1M468.4 227.9v-44.95M469.55 227.9v-28.6M470.7 227.9v-29.91M471.85 227.9v-46.24M473 227.9v-22.16M474.15 227.9v-27.38M475.3 227.9v-44.87M476.45 227.9v-29.87M477.6 227.9v-22.42M478.75 227.9v-42.44M479.9 227.9v-28.95M481.05 227.9v-24.21M482.2 227.9v-39.48M483.35 227.9v-20.88M484.5 227.9v-23.68M485.65 227.9v-38.2M486.8 227.9v-15.85M487.95 227.9v-23.82M489.1 227.9v-41.04M490.25 227.9v-26.78M491.4 227.9v-24.37M492.55 227.9v-33.78M493.7 227.9v-23.97M494.85 227.9v-21.62M496 227.9v-33.25M497.15 227.9v-24.61M498.3 227.9v-14.35M499.45 227.9v-35.09M500.6 227.9v-13.34M501.75 227.9v-20.52M502.9 227.9v-31.5M504.05 227.9v-15.41M505.2 227.9v-21.03M506.35 227.9v-30.58M507.5 227.9v-19.53M508.65 227.9v-22.96M509.8 227.9v-27.47M510.95 227.9v-11.8M512.1 227.9v-15M513.25 227.9v-29.91M514.4 227.9v-13.52M515.55 227.9v-13.78M516.7 227.9v-36.46M517.85 227.9v-23.83M519 227.9v-22.56M520.15 227.9v-46.63M521.3 227.9v-22.34M522.45 227.9v-28.16M523.6 227.9v-38.76M524.75 227.9v-24.37M525.9 227.9v-30.87M527.05 227.9v-47.98M528.2 227.9v-32.39M529.35 227.9v-23.93M530.5 227.9v-44.41M531.65 227.9v-22.93M532.8 227.9v-19.86M533.95 227.9v-43.82M535.1 227.9v-32.35M536.25 227.9v-32.68M537.4 227.9v-47.02M538.55 227.9v-34.72M539.7 227.9v-22.81M540.85 227.9v-40.59M542 227.9v-26.11M543.15 227.9v-23.03M544.3 227.9v-41.61M545.45 227.9v-25.47M546.6 227.9v-28.66M547.75 227.9v-43.05M548.9 227.9v-22.18M550.05 227.9v-30.31M551.2 227.9v-45.79M552.35 227.9v-22.83M553.5 227.9v-16.48M554.65 227.9v-32.37M555.8 227.9v-27.28M556.95 227.9v-14.77M558.1 227.9v-36.55M559.25 227.9v-21.07M560.4 227.9v-17.06M561.55 227.9v-34.25M562.7 227.9v-12.5M563.85 227.9v-13.5M565 227.9v-28.37M566.15 227.9v-11.16M567.3 227.9v-16.06M568.45 227.9v-15.41M569.6 227.9v-5.19M570.75 227.9v-4.17M571.9 227.9v-11.01M573.05 227.9v-6.52M574.2 227.9v-7.78M575.35 227.9v-13.14M576.5 227.9v-9.57M577.65 227.9v-10.88M578.8 227.9v-15.31M579.95 227.9v-7.29M581.1 227.9v-9.35M582.25 227.9v-14.99M583.4 227.9v-6.94M584.55 227.9v-10.49M585.7 227.9v-19.6M586.85 227.9v-9.02M588 227.9v-10.06M589.15 227.9v-19.53M590.3 227.9v-14.09M591.45 227.9v-12.24M592.6 227.9v-20.13M593.75 227.9v-13.25M594.9 227.9v-10.16M596.05 227.9v-19.07M597.2 227.9v-12.94M598.35 227.9v-7.11M599.5 227.9v-17.66M600.65 227.9v-10.4M601.8 227.9v-6.54M602.95 227.9v-13.65M604.1 227.9v-8.58M605.25 227.9v-9.61M606.4 227.9v-10.64M607.55 227.9v-4.87M608.7 227.9v-3.37M609.85 227.9v-1.32M611 227.9v-0.61M613.3 227.9v-0.82M616.75 227.9v-0.86M620.2 227.9v-0.72M622.5 227.9v-0.62M623.65 227.9v-0.89M627.1 227.9v-0.75M628.25 227.9v-0.6M630.55 227.9v-0.75M634 227.9v-0.8M637.45 227.9v-0.68M640.9 227.9v-0.85M642.05 227.9v-0.67M643.2 227.9v-8.55M644.35 227.9v-28.15M645.5 227.9v-11.64M646.65 227.9v-11.49M647.8 227.9v-24.62M648.95 227.9v-16.54M650.1 227.9v-17.29M651.25 227.9v-24.23M652.4 227.9v-18.82M653.55 227.9v-17.04M654.7 227.9v-37.12M655.85 227.9v-16.19M657 227.9v-20.33M658.15 227.9v-45.79M659.3 227.9v-23.57M660.45 227.9v-31.73M661.6 227.9v-47.94M662.75 227.9v-28.22M663.9 227.9v-34.34M665.05 227.9v-47.58M666.2 227.9v-24.66M667.35 227.9v-26.09M668.5 227.9v-52.14M669.65 227.9v-36.25M670.8 227.9v-23.15M671.95 227.9v-52.95M673.1 227.9v-38.07M674.25 227.9v-29.61M675.4 227.9v-49.81M676.55 227.9v-23.29M677.7 227.9v-29.23M678.85 227.9v-46.71M680 227.9v-29.38M681.15 227.9v-18.44M682.3 227.9v-49.85M683.45 227.9v-26.1M684.6 227.9v-23.61M685.75 227.9v-44.78M686.9 227.9v-25.21M688.05 227.9v-23.51M689.2 227.9v-40.62M690.35 227.9v-16.04M691.5 227.9v-22.59M692.65 227.9v-34.92M693.8 227.9v-27.31M694.95 227.9v-26.15M696.1 227.9v-30.79M697.25 227.9v-18.09M698.4 227.9v-12.82M699.55 227.9v-25.68M700.7 227.9v-17.37M701.85 227.9v-16.46M703 227.9v-19.25M704.15 227.9v-9.17M705.3 227.9v-8.3M706.45 227.9v-18M707.6 227.9v-13.41M708.75 227.9v-7.87M709.9 227.9v-18.8M711.05 227.9v-7.12M712.2 227.9v-8.32M713.35 227.9v-16.06M714.5 227.9v-11.75M715.65 227.9v-9.21M716.8 227.9v-16.69M717.95 227.9v-11.28M719.1 227.9v-7.7M720.25 227.9v-18.56M721.4 227.9v-7.82M722.55 227.9v-10.52M723.7 227.9v-16.17M724.85 227.9v-8.34M726 227.9v-10.66M727.15 227.9v-17.1M728.3 227.9v-9.58M729.45 227.9v-9.84M730.6 227.9v-17.56M731.75 227.9v-8.08M732.9 227.9v-8.39M734.05 227.9v-18.07M735.2 227.9v-11.41M736.35 227.9v-10.65M737.5 227.9v-19.16M738.65 227.9v-11.23M739.8 227.9v-12.93M740.95 227.9v-21.46M742.1 227.9v-21.08M743.25 227.9v-27.03M744.4 227.9v-46.75M745.55 227.9v-22.09M746.7 227.9v-22.1M747.85 227.9v-47.15M749 227.9v-20.52M750.15 227.9v-33.7M751.3 227.9v-46.88M752.45 227.9v-19.16M753.6 227.9v-20.97M754.75 227.9v-45.08M755.9 227.9v-21.35M757.05 227.9v-18.62M758.2 227.9v-46.51M759.35 227.9v-24.18M760.5 227.9v-30.48M761.65 227.9v-38.06M762.8 227.9v-23.94M763.95 227.9v-28.79M765.1 227.9v-36.86M766.25 227.9v-20.56M767.4 227.9v-28.83M768.55 227.9v-47.93M769.7 227.9v-33.8M770.85 227.9v-19.18M772 227.9v-43.1M773.15 227.9v-30.29M774.3 227.9v-25.92M775.45 227.9v-45.45M776.6 227.9v-20.55M777.75 227.9v-18.52M778.9 227.9v-38.43M780.05 227.9v-17.99M781.2 227.9v-26.93M782.35 227.9v-43.62M783.5 227.9v-27.29M784.65 227.9v-19.96M785.8 227.9v-39.65M786.95 227.9v-21.01M788.1 227.9v-31.66M789.25 227.9v-40.43M790.4 227.9v-21.51M791.55 227.9v-8.92M792.7 227.9v-15.18M793.85 227.9v-13.46M795 227.9v-10.02M796.15 227.9v-18.32M797.3 227.9v-8.98M798.45 227.9v-9.87M799.6 227.9v-16.79M800.75 227.9v-9.5M801.9 227.9v-10.57M803.05 227.9v-14.11M804.2 227.9v-11.08M805.35 227.9v-11.94M806.5 227.9v-14.61M807.65 227.9v-9.29M808.8 227.9v-11.04M809.95 227.9v-15.33M811.1 227.9v-7.48M812.25 227.9v-7.25M813.4 227.9v-15.5M814.55 227.9v-6.23M815.7 227.9v-11.53M816.85 227.9v-16.43M818 227.9v-10.24M819.15 227.9v-11.1M820.3 227.9v-15.35M821.45 227.9v-8.26M822.6 227.9v-9.34M823.75 227.9v-14.51M824.9 227.9v-11.41M826.05 227.9v-10.31M827.2 227.9v-13.19M828.35 227.9v-10.75M829.5 227.9v-9.74M830.65 227.9v-14.4M831.8 227.9v-8.96M832.95 227.9v-6.37M834.1 227.9v-11.49M835.25 227.9v-7.01M836.4 227.9v-5.64M837.55 227.9v-7.86M838.7 227.9v-4.45M839.85 227.9v-2.98M841 227.9v-5.43M842.15 227.9v-2.16M843.3 227.9v-2.67M844.45 227.9v-4.86M845.6 227.9v-1.95M846.75 227.9v-2.59M847.9 227.9v-4.89M849.05 227.9v-3.01M850.2 227.9v-2.25M851.35 227.9v-5.07M852.5 227.9v-2.95M853.65 227.9v-2.34M854.8 227.9v-4.5M855.95 227.9v-2.66M857.1 227.9v-2.55M858.25 227.9v-3.97M859.4 227.9v-3.22M860.55 227.9v-2.6M861.7 227.9v-4.12M862.85 227.9v-2.7M864 227.9v-2.98M865.15 227.9v-3.19M866.3 227.9v-2.34M867.45 227.9v-2.48M868.6 227.9v-3.25M869.75 227.9v-1.92" stroke="#e6e7e8" stroke-width="0.9" fill="none"/>
<line x1="275.2" y1="227.9" x2="870.4" y2="227.9" stroke="#d4d5d7" stroke-width="1.4"/>
<path d="M275.8 164.4C278.62 165.95 286.12 169.7 292.7 173.7C299.28 177.7 308.5 183.78 315.3 188.4C322.1 193.02 327.35 198.22 333.5 201.4C339.65 204.58 346.77 206.95 352.2 207.5C357.63 208.05 361.33 207.35 366.1 204.7C370.87 202.05 375.35 198.4 380.8 191.6C386.25 184.8 393.08 172.6 398.8 163.9C404.52 155.2 410.48 145.12 415.1 139.4C419.72 133.68 422.83 131.65 426.5 129.6C430.17 127.55 433.28 126.97 437.1 127.1C440.92 127.23 444.63 128.08 449.4 130.4C454.17 132.72 459.17 136.23 465.7 141C472.23 145.77 482.07 154.5 488.6 159C495.13 163.5 500.07 165.77 504.9 168C509.73 170.23 512.15 171.13 517.6 172.4C523.05 173.67 531.55 174.3 537.6 175.6C543.65 176.9 548.47 178.07 553.9 180.2C559.33 182.33 564.8 185.13 570.2 188.4C575.6 191.67 580.88 196.27 586.3 199.8C591.72 203.33 598.37 207.48 602.7 209.6C607.03 211.72 608.5 211.82 612.3 212.5C616.1 213.18 620.85 214.05 625.5 213.7C630.15 213.35 634.75 212.58 640.2 210.4C645.65 208.22 652.48 203.45 658.2 200.6C663.92 197.75 669.6 194.98 674.5 193.3C679.4 191.62 683.38 190.72 687.6 190.5C691.82 190.28 694.92 190.72 699.8 192C704.68 193.28 711.32 196.5 716.9 198.2C722.48 199.9 727.85 201.67 733.3 202.2C738.75 202.73 744.17 202.07 749.6 201.4C755.03 200.73 760.73 199.02 765.9 198.2C771.07 197.38 775.7 196.37 780.6 196.5C785.5 196.63 790.13 197.37 795.3 199C800.47 200.63 805.62 203.58 811.6 206.3C817.58 209.02 825.07 213.17 831.2 215.3C837.33 217.43 843.5 218.42 848.4 219.1C853.3 219.78 857.07 219.48 860.6 219.4C864.13 219.32 868.1 218.73 869.6 218.6" fill="none" stroke="#c4c5c7" stroke-width="3.3" stroke-linecap="round"/>
<line x1="869.6" y1="218.6" x2="869.6" y2="228" stroke="#c4c5c7" stroke-width="1.5"/>
<line x1="315.3" y1="139.4" x2="315.3" y2="230" stroke="#6d6e70" stroke-width="4.4" stroke-dasharray="8.2 4.1" stroke-dashoffset="3.3"/>
<line x1="436.5" y1="139.4" x2="436.5" y2="230" stroke="#6d6e70" stroke-width="4.4" stroke-dasharray="8.2 4.1" stroke-dashoffset="3.3"/>
<line x1="517.6" y1="139.4" x2="517.6" y2="230" stroke="#6d6e70" stroke-width="4.4" stroke-dasharray="8.2 4.1" stroke-dashoffset="3.3"/>
<line x1="612.3" y1="139.4" x2="612.3" y2="230" stroke="#6d6e70" stroke-width="4.4" stroke-dasharray="8.2 4.1" stroke-dashoffset="3.3"/>
<line x1="699.8" y1="139.4" x2="699.8" y2="230" stroke="#6d6e70" stroke-width="4.4" stroke-dasharray="8.2 4.1" stroke-dashoffset="3.3"/>
<line x1="848.4" y1="139.4" x2="848.4" y2="230" stroke="#6d6e70" stroke-width="4.4" stroke-dasharray="8.2 4.1" stroke-dashoffset="3.3"/>
<path d="M926.3 218.1v-15.51M927.45 218.1v-15.78M928.6 218.1v-15.94M929.75 218.1v-16.26M930.9 218.1v-16M932.05 218.1v-16.38M933.2 218.1v-14.97M934.35 218.1v-15.77M935.5 218.1v-16.64M936.65 218.1v-16.22M937.8 218.1v-16.72M938.95 218.1v-15.46M940.1 218.1v-16.14M941.25 218.1v-8.41M942.4 218.1v-1.05M943.55 218.1v-1.05M944.7 218.1v-0.99M945.85 218.1v-1.01M947 218.1v-1.02M948.15 218.1v-14.87M949.3 218.1v-14.46M950.45 218.1v-13.4M951.6 218.1v-14.15M952.75 218.1v-13.03M953.9 218.1v-13.54M955.05 218.1v-12.68M956.2 218.1v-12.34M957.35 218.1v-13.35M958.5 218.1v-12.29M959.65 218.1v-12.12M960.8 218.1v-12.89M961.95 218.1v-12.47M963.1 218.1v-11.48M964.25 218.1v-12.03M965.4 218.1v-11.26M966.55 218.1v-11.16M967.7 218.1v-10.36M968.85 218.1v-10.91M970 218.1v-10.37M971.15 218.1v-10.39M972.3 218.1v-10.04M973.45 218.1v-9.18M974.6 218.1v-8.98M975.75 218.1v-8.54M976.9 218.1v-8.27M978.05 218.1v-7.95M979.2 218.1v-7.9M980.35 218.1v-7.89M981.5 218.1v-7.15M982.65 218.1v-7.42M983.8 218.1v-6.9M984.95 218.1v-6.62M986.1 218.1v-13.99M987.25 218.1v-19.53M988.4 218.1v-21.33M989.55 218.1v-23.89M990.7 218.1v-26.69M991.85 218.1v-26.99M993 218.1v-32.02M994.15 218.1v-31.04M995.3 218.1v-35.78M996.45 218.1v-38.4M997.6 218.1v-37.24M998.75 218.1v-42.67M999.9 218.1v-42.99M1001.05 218.1v-46.17M1002.2 218.1v-45.41M1003.35 218.1v-47.16M1004.5 218.1v-49.44M1005.65 218.1v-55.33M1006.8 218.1v-50.86M1007.95 218.1v-52.83M1009.1 218.1v-52.63M1010.25 218.1v-51.59M1011.4 218.1v-47.59M1012.55 218.1v-46.75M1013.7 218.1v-46.69M1014.85 218.1v-46.98M1016 218.1v-42.9M1017.15 218.1v-47.6M1018.3 218.1v-49.52M1019.45 218.1v-51.54M1020.6 218.1v-48.8M1021.75 218.1v-55.42M1022.9 218.1v-52.23M1024.05 218.1v-55.26M1025.2 218.1v-58.3M1026.35 218.1v-61.65M1027.5 218.1v-59.45M1028.65 218.1v-64.65M1029.8 218.1v-63.61M1030.95 218.1v-63.45M1032.1 218.1v-64.87M1033.25 218.1v-65.27M1034.4 218.1v-66.66M1035.55 218.1v-70.69M1036.7 218.1v-78.58M1037.85 218.1v-81.34M1039 218.1v-73.65M1040.15 218.1v-71.85M1041.3 218.1v-78.31M1042.45 218.1v-73.82M1043.6 218.1v-71.9M1044.75 218.1v-70.43M1045.9 218.1v-73.37M1047.05 218.1v-75.38M1048.2 218.1v-72.75M1049.35 218.1v-73.17M1050.5 218.1v-71.99M1051.65 218.1v-80.66M1052.8 218.1v-75.13M1053.95 218.1v-80.71M1055.1 218.1v-84M1056.25 218.1v-78.21M1057.4 218.1v-83.64M1058.55 218.1v-85.34M1059.7 218.1v-81.94M1060.85 218.1v-82.6M1062 218.1v-76.22M1063.15 218.1v-78.08M1064.3 218.1v-73.35M1065.45 218.1v-76.38M1066.6 218.1v-69.71M1067.75 218.1v-68.63M1068.9 218.1v-70.3M1070.05 218.1v-67M1071.2 218.1v-65.54M1072.35 218.1v-59.94M1073.5 218.1v-58.62M1074.65 218.1v-59.42M1075.8 218.1v-57.21M1076.95 218.1v-55.4M1078.1 218.1v-55.4M1079.25 218.1v-53.23M1080.4 218.1v-53.89M1081.55 218.1v-55.17M1082.7 218.1v-51.11M1083.85 218.1v-45.64M1085 218.1v-41.32M1086.15 218.1v-37.24M1087.3 218.1v-34.68M1088.45 218.1v-33.77M1089.6 218.1v-33.94M1090.75 218.1v-32.54M1091.9 218.1v-29.25M1093.05 218.1v-28.89M1094.2 218.1v-27.04M1095.35 218.1v-24.36M1096.5 218.1v-21.84M1097.65 218.1v-19.59M1098.8 218.1v-16.42M1099.95 218.1v-13.32M1101.1 218.1v-8.94M1102.25 218.1v-5.26M1103.4 218.1v-1.42M1104.55 218.1v-1.12M1105.7 218.1v-1.13M1106.85 218.1v-1.27M1108 218.1v-1.3M1109.15 218.1v-1.35M1110.3 218.1v-1.32M1111.45 218.1v-1.46M1112.6 218.1v-1.47M1113.75 218.1v-1.6M1114.9 218.1v-1.62M1116.05 218.1v-1.75M1117.2 218.1v-1.78M1118.35 218.1v-1.86M1119.5 218.1v-1.84M1120.65 218.1v-1.95M1121.8 218.1v-2.03M1122.95 218.1v-4.24M1124.1 218.1v-6.55M1125.25 218.1v-9.53M1126.4 218.1v-12.21M1127.55 218.1v-14.58M1128.7 218.1v-16.53M1129.85 218.1v-17.26M1131 218.1v-17.23M1132.15 218.1v-17.98M1133.3 218.1v-18M1134.45 218.1v-20.16M1135.6 218.1v-21.37M1136.75 218.1v-21.33M1137.9 218.1v-22.79M1139.05 218.1v-23.83M1140.2 218.1v-24.84M1141.35 218.1v-24.33M1142.5 218.1v-26.38M1143.65 218.1v-25.57M1144.8 218.1v-25.52M1145.95 218.1v-24.6M1147.1 218.1v-22.65M1148.25 218.1v-20.38M1149.4 218.1v-17.51M1150.55 218.1v-15.05M1151.7 218.1v-11.56M1152.85 218.1v-10.79M1154 218.1v-10.72M1155.15 218.1v-10.54M1156.3 218.1v-9.67M1157.45 218.1v-9.74M1158.6 218.1v-9.27M1159.75 218.1v-8.31M1160.9 218.1v-8.65M1162.05 218.1v-8.46M1163.2 218.1v-8.34M1164.35 218.1v-8.45M1165.5 218.1v-8.66M1166.65 218.1v-8.57M1167.8 218.1v-8.62M1168.95 218.1v-8.51M1170.1 218.1v-8.95M1171.25 218.1v-8.91M1172.4 218.1v-9.17M1173.55 218.1v-9.19M1174.7 218.1v-8.89M1175.85 218.1v-9.57M1177 218.1v-8.74M1178.15 218.1v-9.17M1179.3 218.1v-9.08M1180.45 218.1v-9.25M1181.6 218.1v-9M1182.75 218.1v-9.75M1183.9 218.1v-9.33M1185.05 218.1v-9.03M1186.2 218.1v-9.65M1187.35 218.1v-9.16M1188.5 218.1v-9.28M1189.65 218.1v-8.28M1190.8 218.1v-7.66M1191.95 218.1v-7.11M1193.1 218.1v-6.16M1194.25 218.1v-5.1M1195.4 218.1v-4.46M1196.55 218.1v-4.02M1197.7 218.1v-4.04M1198.85 218.1v-4.07M1200 218.1v-4.41M1201.15 218.1v-4.54M1202.3 218.1v-4.87M1203.45 218.1v-5.02M1204.6 218.1v-4.84M1205.75 218.1v-4.61M1206.9 218.1v-4.76M1208.05 218.1v-4.23M1209.2 218.1v-4.17M1210.35 218.1v-4.27M1211.5 218.1v-4.18M1212.65 218.1v-3.87M1213.8 218.1v-3.97M1214.95 218.1v-4.06M1216.1 218.1v-3.84M1217.25 218.1v-3.87M1218.4 218.1v-3.78M1219.55 218.1v-3.81M1220.7 218.1v-4.09M1221.85 218.1v-3.85M1223 218.1v-4.08M1224.15 218.1v-4.06M1225.3 218.1v-3.93M1226.45 218.1v-3.8M1227.6 218.1v-4.09M1228.75 218.1v-3.89M1229.9 218.1v-3.86M1231.05 218.1v-4.43M1232.2 218.1v-5.47M1233.35 218.1v-5.88M1234.5 218.1v-6.42M1235.65 218.1v-7.23M1236.8 218.1v-7.62M1237.95 218.1v-8.73M1239.1 218.1v-8.7M1240.25 218.1v-8.67M1241.4 218.1v-9.23M1242.55 218.1v-9.39M1243.7 218.1v-8.72M1244.85 218.1v-9.33M1246 218.1v-9.18M1247.15 218.1v-9.95M1248.3 218.1v-11.93M1249.45 218.1v-18.72M1250.6 218.1v-22.35M1251.75 218.1v-22.11M1252.9 218.1v-24.15M1254.05 218.1v-22.5M1255.2 218.1v-23.29M1256.35 218.1v-22.99M1257.5 218.1v-23.43M1258.65 218.1v-23.36M1259.8 218.1v-23.73M1260.95 218.1v-22.24M1262.1 218.1v-23.83M1263.25 218.1v-22.74M1264.4 218.1v-23.34M1265.55 218.1v-22.88M1266.7 218.1v-22.81M1267.85 218.1v-23.41M1269 218.1v-23.28M1270.15 218.1v-23.06M1271.3 218.1v-24.03M1272.45 218.1v-23.68M1273.6 218.1v-22.34M1274.75 218.1v-22.9M1275.9 218.1v-23.43M1277.05 218.1v-24.6M1278.2 218.1v-24.56M1279.35 218.1v-23.74M1280.5 218.1v-22.45M1281.65 218.1v-24.38M1282.8 218.1v-23.53M1283.95 218.1v-23.93M1285.1 218.1v-24.29M1286.25 218.1v-24.13M1287.4 218.1v-23.78M1288.55 218.1v-22.97M1289.7 218.1v-17.97M1290.85 218.1v-14.21M1292 218.1v-10.94M1293.15 218.1v-6.51M1294.3 218.1v-3.79M1295.45 218.1v-3.94M1296.6 218.1v-3.56M1297.75 218.1v-3.79M1298.9 218.1v-3.66M1300.05 218.1v-3.5M1301.2 218.1v-3.37M1302.35 218.1v-3.48M1303.5 218.1v-3.45M1304.65 218.1v-3.11M1305.8 218.1v-3.16M1306.95 218.1v-3.11M1308.1 218.1v-3.02M1309.25 218.1v-2.9M1310.4 218.1v-2.77M1311.55 218.1v-2.83M1312.7 218.1v-2.83M1313.85 218.1v-2.54M1315 218.1v-2.52M1316.15 218.1v-2.61M1317.3 218.1v-2.53M1318.45 218.1v-2.42M1319.6 218.1v-2.19M1320.75 218.1v-2.29M1321.9 218.1v-2.28M1323.05 218.1v-2.21M1324.2 218.1v-2.07M1325.35 218.1v-1.86M1326.5 218.1v-1.95M1327.65 218.1v-1.76M1328.8 218.1v-1.77M1329.95 218.1v-1.75M1331.1 218.1v-1.63M1332.25 218.1v-1.47M1333.4 218.1v-1.42M1334.55 218.1v-1.44M1335.7 218.1v-1.26M1336.85 218.1v-1.25M1338 218.1v-1.16M1339.15 218.1v-1.06M1340.3 218.1v-1.71M1341.45 218.1v-3.95M1342.6 218.1v-6.33M1343.75 218.1v-8.95M1344.9 218.1v-10.18M1346.05 218.1v-11.47M1347.2 218.1v-13.5M1348.35 218.1v-15.14M1349.5 218.1v-16.77M1350.65 218.1v-16.82M1351.8 218.1v-18.72M1352.95 218.1v-19.48M1354.1 218.1v-21.02M1355.25 218.1v-21.72M1356.4 218.1v-23.72M1357.55 218.1v-23.3M1358.7 218.1v-23.4M1359.85 218.1v-26.02M1361 218.1v-25.45M1362.15 218.1v-27.74M1363.3 218.1v-28.31M1364.45 218.1v-30.5M1365.6 218.1v-30.34M1366.75 218.1v-30.93M1367.9 218.1v-29.85M1369.05 218.1v-30.84M1370.2 218.1v-29.95M1371.35 218.1v-31.63M1372.5 218.1v-30.94M1373.65 218.1v-29.76M1374.8 218.1v-30.15M1375.95 218.1v-30.66M1377.1 218.1v-31.93M1378.25 218.1v-30.17M1379.4 218.1v-31.99M1380.55 218.1v-31.87M1381.7 218.1v-30.06M1382.85 218.1v-31.94M1384 218.1v-29.96M1385.15 218.1v-30M1386.3 218.1v-31.46M1387.45 218.1v-30.22M1388.6 218.1v-32.23M1389.75 218.1v-30.86M1390.9 218.1v-30.27M1392.05 218.1v-31.72M1393.2 218.1v-29.17M1394.35 218.1v-31.33M1395.5 218.1v-29.09M1396.65 218.1v-29.08M1397.8 218.1v-31.05M1398.95 218.1v-29.65M1400.1 218.1v-27.72M1401.25 218.1v-26.87M1402.4 218.1v-28.82M1403.55 218.1v-27.38M1404.7 218.1v-27.25M1405.85 218.1v-24.84M1407 218.1v-25.6M1408.15 218.1v-24.34M1409.3 218.1v-23.5M1410.45 218.1v-23.22M1411.6 218.1v-23.36M1412.75 218.1v-22.48M1413.9 218.1v-22.49M1415.05 218.1v-21.82M1416.2 218.1v-23.4M1417.35 218.1v-22.88M1418.5 218.1v-23.17M1419.65 218.1v-22.22M1420.8 218.1v-23.12M1421.95 218.1v-22.26M1423.1 218.1v-22.36M1424.25 218.1v-22.23M1425.4 218.1v-22.54M1426.55 218.1v-21.19M1427.7 218.1v-19.47M1428.85 218.1v-18.29M1430 218.1v-17.58M1431.15 218.1v-14.32M1432.3 218.1v-12.44M1433.45 218.1v-8.84M1434.6 218.1v-5.92M1435.75 218.1v-2.53M1436.9 218.1v-3.69M1438.05 218.1v-6.13M1439.2 218.1v-8.18M1440.35 218.1v-9.77M1441.5 218.1v-10.63M1442.65 218.1v-11M1443.8 218.1v-11.86M1444.95 218.1v-12.65M1446.1 218.1v-13.76M1447.25 218.1v-14.58M1448.4 218.1v-16.2M1449.55 218.1v-15.8M1450.7 218.1v-16.77M1451.85 218.1v-17.62M1453 218.1v-18.19M1454.15 218.1v-19.24M1455.3 218.1v-19.92M1456.45 218.1v-20.89M1457.6 218.1v-19.75M1458.75 218.1v-21.54M1459.9 218.1v-20.18M1461.05 218.1v-21.25M1462.2 218.1v-20.55M1463.35 218.1v-20.36M1464.5 218.1v-19.78M1465.65 218.1v-20.61M1466.8 218.1v-18.74M1467.95 218.1v-19.72M1469.1 218.1v-18.79M1470.25 218.1v-19.35M1471.4 218.1v-19.05M1472.55 218.1v-17.54M1473.7 218.1v-17.22M1474.85 218.1v-16.5M1476 218.1v-16.48M1477.15 218.1v-15.81M1478.3 218.1v-15.97M1479.45 218.1v-16.51M1480.6 218.1v-15.1M1481.75 218.1v-14.61M1482.9 218.1v-14.45M1484.05 218.1v-13.77M1485.2 218.1v-14.01M1486.35 218.1v-13.57M1487.5 218.1v-12.37M1488.65 218.1v-12.05M1489.8 218.1v-12.17M1490.95 218.1v-12.05M1492.1 218.1v-11.25M1493.25 218.1v-10.56M1494.4 218.1v-10.71M1495.55 218.1v-9.26M1496.7 218.1v-9.06M1497.85 218.1v-9.62M1499 218.1v-9.1M1500.15 218.1v-8.6M1501.3 218.1v-8.92M1502.45 218.1v-9.17M1503.6 218.1v-8.58M1504.75 218.1v-8.27M1505.9 218.1v-7.9M1507.05 218.1v-7.73M1508.2 218.1v-8.27M1509.35 218.1v-7.78M1510.5 218.1v-7.55M1511.65 218.1v-5.84M1512.8 218.1v-4.9M1513.95 218.1v-3.76M1515.1 218.1v-2.82M1516.25 218.1v-1.9M1517.4 218.1v-1.94M1518.55 218.1v-1.98M1519.7 218.1v-1.95M1520.85 218.1v-1.9M1522 218.1v-1.9M1523.15 218.1v-2.09M1524.3 218.1v-1.93M1525.45 218.1v-2M1526.6 218.1v-1.97M1527.75 218.1v-2" stroke="#e6e7e8" stroke-width="1.25" fill="none"/>
<line x1="926.3" y1="218.1" x2="1528.6" y2="218.1" stroke="#d4d5d7" stroke-width="1.4"/>
<rect x="926" y="216.4" width="602.6" height="2.3" fill="#e0e1e3"/>
<line x1="941.5" y1="217.6" x2="946.5" y2="217.6" stroke="#58595b" stroke-width="0.8"/>
<path d="M934.5 208.3C938.5 207.57 951.7 205.32 958.5 203.9C965.3 202.48 970.32 201.57 975.3 199.8C980.28 198.03 984.05 196.3 988.4 193.3C992.75 190.3 996.78 186.43 1001.4 181.8C1006.02 177.17 1011.2 170.93 1016.1 165.5C1021 160.07 1026.17 153.97 1030.8 149.2C1035.43 144.43 1040.08 139.9 1043.9 136.9C1047.72 133.9 1051.12 132.33 1053.7 131.2C1056.28 130.07 1057.23 130.1 1059.4 130.1C1061.57 130.1 1063.3 129.65 1066.7 131.2C1070.1 132.75 1075.43 135.72 1079.8 139.4C1084.17 143.08 1088.6 148.13 1092.9 153.3C1097.2 158.47 1101.53 165.23 1105.6 170.4C1109.67 175.57 1113.43 180.48 1117.3 184.3C1121.17 188.12 1124.72 190.98 1128.8 193.3C1132.88 195.62 1136.9 196.98 1141.8 198.2C1146.7 199.42 1152.75 199.65 1158.2 200.6C1163.65 201.55 1169.07 202.73 1174.5 203.9C1179.93 205.07 1185.9 206.6 1190.8 207.6C1195.7 208.6 1199.55 209.47 1203.9 209.9C1208.25 210.33 1212.55 210.47 1216.9 210.2C1221.25 209.93 1225.4 209.22 1230 208.3C1234.6 207.38 1239.37 206.12 1244.5 204.7C1249.63 203.28 1255.63 200.88 1260.8 199.8C1265.97 198.72 1270.25 198.07 1275.5 198.2C1280.75 198.33 1286.85 199.25 1292.3 200.6C1297.75 201.95 1302.83 204.85 1308.2 206.3C1313.57 207.75 1319.6 209.02 1324.5 209.3C1329.4 209.58 1332.7 209.45 1337.6 208C1342.5 206.55 1348.47 203.47 1353.9 200.6C1359.33 197.73 1364.77 193.72 1370.2 190.8C1375.63 187.88 1381.33 184.82 1386.5 183.1C1391.67 181.38 1396.3 180.65 1401.2 180.5C1406.1 180.35 1410.5 181.17 1415.9 182.2C1421.3 183.23 1428.15 185.35 1433.6 186.7C1439.05 188.05 1443.38 189.27 1448.6 190.3C1453.82 191.33 1459.47 191.92 1464.9 192.9C1470.33 193.88 1475.75 194.78 1481.2 196.2C1486.65 197.62 1491.4 199.3 1497.6 201.4C1503.8 203.5 1513.37 207.22 1518.4 208.8C1523.43 210.38 1526.23 210.55 1527.8 210.9" fill="none" stroke="#a7a9ac" stroke-width="3"/>
<line x1="958.5" y1="127.1" x2="958.5" y2="218.3" stroke="#6d6e70" stroke-width="4.4" stroke-dasharray="8.2 4.1" stroke-dashoffset="3.8"/>
<line x1="1105.6" y1="127.1" x2="1105.6" y2="218.3" stroke="#6d6e70" stroke-width="4.4" stroke-dasharray="8.2 4.1" stroke-dashoffset="3.8"/>
<line x1="1230" y1="127.1" x2="1230" y2="218.3" stroke="#6d6e70" stroke-width="4.4" stroke-dasharray="8.2 4.1" stroke-dashoffset="3.8"/>
<line x1="1292.3" y1="127.1" x2="1292.3" y2="218.3" stroke="#6d6e70" stroke-width="4.4" stroke-dasharray="8.2 4.1" stroke-dashoffset="3.8"/>
<line x1="1433.6" y1="127.1" x2="1433.6" y2="218.3" stroke="#6d6e70" stroke-width="4.4" stroke-dasharray="8.2 4.1" stroke-dashoffset="3.8"/>
<line x1="1518.4" y1="123" x2="1518.4" y2="213.7" stroke="#6d6e70" stroke-width="4.4" stroke-dasharray="8.2 4.1" stroke-dashoffset="3.8"/>
<line x1="269.7" y1="283" x2="269.7" y2="399.8" stroke="#231f20" stroke-width="1.5"/>
<line x1="269" y1="399" x2="864.3" y2="399" stroke="#231f20" stroke-width="1.5"/>
<line x1="385" y1="375.3" x2="385" y2="399" stroke="#231f20" stroke-width="2"/>
<circle cx="385" cy="375.3" r="6" fill="#231f20"/>
<line x1="412" y1="396" x2="412" y2="399" stroke="#231f20" stroke-width="2"/>
<circle cx="412" cy="396" r="6" fill="#231f20"/>
<line x1="432.2" y1="379.3" x2="432.2" y2="399" stroke="#231f20" stroke-width="2"/>
<circle cx="432.2" cy="379.3" r="6" fill="#231f20"/>
<line x1="452.7" y1="362" x2="452.7" y2="399" stroke="#231f20" stroke-width="2"/>
<circle cx="452.7" cy="362" r="6" fill="#231f20"/>
<line x1="492.8" y1="398.5" x2="492.8" y2="399" stroke="#231f20" stroke-width="2"/>
<circle cx="492.8" cy="398.5" r="6" fill="#231f20"/>
<line x1="533.6" y1="383.2" x2="533.6" y2="399" stroke="#231f20" stroke-width="2"/>
<circle cx="533.6" cy="383.2" r="6" fill="#231f20"/>
<line x1="567.2" y1="364.9" x2="567.2" y2="399" stroke="#231f20" stroke-width="2"/>
<circle cx="567.2" cy="364.9" r="6" fill="#231f20"/>
<line x1="661.6" y1="372.8" x2="661.6" y2="399" stroke="#231f20" stroke-width="2"/>
<circle cx="661.6" cy="372.8" r="6" fill="#231f20"/>
<line x1="702" y1="347.1" x2="702" y2="399" stroke="#231f20" stroke-width="2"/>
<circle cx="702" cy="347.1" r="6" fill="#231f20"/>
<line x1="742.7" y1="394.3" x2="742.7" y2="399" stroke="#231f20" stroke-width="2"/>
<circle cx="742.7" cy="394.3" r="6" fill="#231f20"/>
<line x1="796.6" y1="390" x2="796.6" y2="399" stroke="#231f20" stroke-width="2"/>
<circle cx="796.6" cy="390" r="6" fill="#231f20"/>
<path d="M339.8 296.6L382.6 367M462.2 297.5L412.6 388.5" stroke="#3a3a3c" stroke-width="1.1" stroke-dasharray="3.6 2.6" fill="none"/>
<text x="297.5" y="286.5" textLength="132.78" lengthAdjust="spacingAndGlyphs">–log [<tspan font-style="italic">P</tspan>(<tspan font-style="italic">w</tspan>|<tspan font-style="italic">f </tspan>)]</text>
<text x="440" y="286.5" textLength="142.48" lengthAdjust="spacingAndGlyphs">–log [<tspan font-style="italic">P</tspan>(e|<tspan font-style="italic">fw</tspan>)]</text>
<line x1="931.3" y1="282.1" x2="931.3" y2="398.7" stroke="#231f20" stroke-width="1.5"/>
<line x1="930.5" y1="397.9" x2="1532" y2="397.9" stroke="#231f20" stroke-width="1.5"/>
<line x1="1011.1" y1="315.4" x2="1011.1" y2="397.9" stroke="#231f20" stroke-width="2"/>
<circle cx="1011.1" cy="315.4" r="6" fill="#231f20"/>
<line x1="1129.6" y1="387.1" x2="1129.6" y2="397.9" stroke="#231f20" stroke-width="2"/>
<circle cx="1129.6" cy="387.1" r="6" fill="#231f20"/>
<line x1="1135.7" y1="394.9" x2="1135.7" y2="397.9" stroke="#231f20" stroke-width="2"/>
<circle cx="1135.7" cy="394.9" r="6" fill="#231f20"/>
<line x1="1163.6" y1="397.9" x2="1163.6" y2="397.9" stroke="#231f20" stroke-width="2"/>
<circle cx="1163.6" cy="397.9" r="6" fill="#231f20"/>
<line x1="1197.6" y1="378.7" x2="1197.6" y2="397.9" stroke="#231f20" stroke-width="2"/>
<circle cx="1197.6" cy="378.7" r="6" fill="#231f20"/>
<line x1="1265.3" y1="369" x2="1265.3" y2="397.9" stroke="#231f20" stroke-width="2"/>
<circle cx="1265.3" cy="369" r="6" fill="#231f20"/>
<line x1="1355.9" y1="349.8" x2="1355.9" y2="397.9" stroke="#231f20" stroke-width="2"/>
<circle cx="1355.9" cy="349.8" r="6" fill="#231f20"/>
<line x1="1440.4" y1="384.4" x2="1440.4" y2="397.9" stroke="#231f20" stroke-width="2"/>
<circle cx="1440.4" cy="384.4" r="6" fill="#231f20"/>
<line x1="1452.2" y1="378.4" x2="1452.2" y2="397.9" stroke="#231f20" stroke-width="2"/>
<circle cx="1452.2" cy="378.4" r="6" fill="#231f20"/>
<line x1="1497.3" y1="397.9" x2="1497.3" y2="397.9" stroke="#231f20" stroke-width="2"/>
<circle cx="1497.3" cy="397.9" r="6" fill="#231f20"/>
<line x1="276.4" y1="494.3" x2="276.4" y2="502.3" stroke="#231f20" stroke-width="1.3"/>
<line x1="275.8" y1="501.6" x2="871" y2="501.6" stroke="#231f20" stroke-width="1.5"/>
<line x1="317.2" y1="457" x2="317.2" y2="502.3" stroke="#231f20" stroke-width="4.3"/>
<line x1="519.3" y1="457" x2="519.3" y2="502.3" stroke="#231f20" stroke-width="4.3"/>
<line x1="613.9" y1="457" x2="613.9" y2="502.3" stroke="#231f20" stroke-width="4.3"/>
<line x1="849.9" y1="457" x2="849.9" y2="502.3" stroke="#231f20" stroke-width="4.3"/>
<line x1="930.3" y1="488.9" x2="930.3" y2="497.4" stroke="#231f20" stroke-width="1.3"/>
<line x1="929.7" y1="496.7" x2="1532" y2="496.7" stroke="#231f20" stroke-width="1.5"/>
<line x1="960.3" y1="454.2" x2="960.3" y2="498.6" stroke="#231f20" stroke-width="4.3"/>
<line x1="1231.6" y1="454.2" x2="1231.6" y2="498.6" stroke="#231f20" stroke-width="4.3"/>
<line x1="1293.9" y1="454.2" x2="1293.9" y2="498.6" stroke="#231f20" stroke-width="4.3"/>
<line x1="1520.2" y1="454.2" x2="1520.2" y2="498.6" stroke="#231f20" stroke-width="4.3"/>
<line x1="276.4" y1="535.6" x2="276.4" y2="615.7" stroke="#231f20" stroke-width="1.5"/>
<line x1="275.7" y1="615" x2="871" y2="615" stroke="#231f20" stroke-width="1.5"/>
<line x1="317.2" y1="541" x2="317.2" y2="615" stroke="#231f20" stroke-width="2"/>
<path d="M306 541L322.5 531.4L322.5 550.6Z" fill="#231f20"/>
<circle cx="317.2" cy="598" r="7.3" fill="#231f20"/>
<line x1="519.4" y1="552" x2="519.4" y2="615" stroke="#231f20" stroke-width="2"/>
<circle cx="519.4" cy="552" r="7.3" fill="#231f20"/>
<path d="M508.7 614.5L525.2 604.9L525.2 624.1Z" fill="#231f20"/>
<line x1="613.9" y1="535" x2="613.9" y2="615" stroke="#231f20" stroke-width="2"/>
<path d="M603.5 534.7L620 525.1L620 544.3Z" fill="#231f20"/>
<circle cx="614.2" cy="572" r="7.3" fill="#231f20"/>
<line x1="849.9" y1="556" x2="849.9" y2="615" stroke="#231f20" stroke-width="2"/>
<circle cx="850.5" cy="556.1" r="7.3" fill="#231f20"/>
<path d="M839.4 594.4L855.9 584.8L855.9 604Z" fill="#231f20"/>
<line x1="930.3" y1="603.4" x2="930.3" y2="611.2" stroke="#231f20" stroke-width="1.3"/>
<line x1="929.7" y1="610.5" x2="1532" y2="610.5" stroke="#231f20" stroke-width="1.5"/>
<line x1="960.3" y1="533.4" x2="960.3" y2="610.5" stroke="#231f20" stroke-width="2"/>
<path d="M949.4 533.4L965.9 523.8L965.9 543Z" fill="#231f20"/>
<circle cx="959.6" cy="611.1" r="7.4" fill="#231f20"/>
<line x1="1231.6" y1="558.3" x2="1231.6" y2="610.5" stroke="#231f20" stroke-width="2"/>
<circle cx="1231.6" cy="558.3" r="7.4" fill="#231f20"/>
<path d="M1220.9 605.8L1237.4 596.2L1237.4 615.4Z" fill="#231f20"/>
<line x1="1293.9" y1="541.8" x2="1293.9" y2="610.5" stroke="#231f20" stroke-width="2"/>
<path d="M1283.3 541.8L1299.8 532.2L1299.8 551.4Z" fill="#231f20"/>
<circle cx="1293.9" cy="587.6" r="7.4" fill="#231f20"/>
<line x1="1520.2" y1="541.8" x2="1520.2" y2="610.5" stroke="#231f20" stroke-width="2"/>
<path d="M1509 541.8L1525.5 532.2L1525.5 551.4Z" fill="#231f20"/>
<circle cx="1519.5" cy="612.5" r="7.4" fill="#231f20"/>
<text x="1582.45" y="27.2" textLength="126.25" lengthAdjust="spacingAndGlyphs">Hypothesis</text>
<rect x="1586.1" y="49" width="11" height="562.6" fill="url(#hyp)"/>
<text x="1607.25" y="65.8" textLength="226.06" lengthAdjust="spacingAndGlyphs">Less effect of native</text>
<text x="1607.9" y="96.1" textLength="212.41" lengthAdjust="spacingAndGlyphs">speech experience</text>
<text x="1606.55" y="576.1" textLength="231.56" lengthAdjust="spacingAndGlyphs">More effect of native</text>
<text x="1607.9" y="605.5" textLength="212.41" lengthAdjust="spacingAndGlyphs">speech experience</text>
</g>
<g id="panel-bc">
<text x="-0.5" y="698.6" font-size="35" font-weight="bold" stroke="#231f20" stroke-width="0.9" stroke-linejoin="round">b</text>
<text x="62.42" y="706.6" textLength="49.23" lengthAdjust="spacingAndGlyphs">0.05</text>
<line x1="121" y1="698" x2="121" y2="1167.3" stroke="#4d4d4f" stroke-width="1.5"/>
<line x1="121" y1="698.6" x2="131" y2="698.6" stroke="#4d4d4f" stroke-width="1.5"/>
<line x1="120.3" y1="1166.6" x2="1021.4" y2="1166.6" stroke="#4d4d4f" stroke-width="1.5"/>
<line x1="233.4" y1="1157" x2="233.4" y2="1166.6" stroke="#4d4d4f" stroke-width="1.5"/>
<line x1="458.6" y1="1157" x2="458.6" y2="1166.6" stroke="#4d4d4f" stroke-width="1.5"/>
<line x1="683.4" y1="1157" x2="683.4" y2="1166.6" stroke="#4d4d4f" stroke-width="1.5"/>
<line x1="908.3" y1="1157" x2="908.3" y2="1166.6" stroke="#4d4d4f" stroke-width="1.5"/>
<text transform="translate(82.6 933.5) rotate(-90)" text-anchor="middle"><tspan>Δ</tspan><tspan font-style="italic">R</tspan><tspan font-size="18" dy="-11.5">2</tspan><tspan dy="11.5"> (log)</tspan></text>
<line x1="196" y1="832.9" x2="196" y2="904.3" stroke="#3f3f41" stroke-width="1.3"/>
<line x1="196" y1="1050.9" x2="196" y2="1162.6" stroke="#3f3f41" stroke-width="1.3"/>
<line x1="184.85" y1="832.9" x2="207.15" y2="832.9" stroke="#3f3f41" stroke-width="1.3"/>
<line x1="184.85" y1="1162.6" x2="207.15" y2="1162.6" stroke="#3f3f41" stroke-width="1.3"/>
<path d="M173.4 960.9L218.9 960.9L212.76 976.9L218.9 996L173.4 996L179.54 976.9Z" fill="#dcdcee"/>
<path d="M173.4 904.3L218.9 904.3L218.9 960.9L212.76 976.9L218.9 996L218.9 1050.9L173.4 1050.9L173.4 996L179.54 976.9L173.4 960.9ZM179.54 976.9L212.76 976.9" fill="none" stroke="#7b7fc4" stroke-width="2.3" stroke-linejoin="miter"/>
<line x1="270.9" y1="877.1" x2="270.9" y2="949.4" stroke="#3f3f41" stroke-width="1.3"/>
<line x1="270.9" y1="1086.6" x2="270.9" y2="1166.6" stroke="#3f3f41" stroke-width="1.3"/>
<line x1="259.7" y1="877.1" x2="282.1" y2="877.1" stroke="#3f3f41" stroke-width="1.3"/>
<line x1="259.7" y1="1166.6" x2="282.1" y2="1166.6" stroke="#3f3f41" stroke-width="1.3"/>
<path d="M248 1003.4L293.7 1003.4L287.53 1019.1L293.7 1037.4L248 1037.4L254.17 1019.1Z" fill="#fae3dd"/>
<path d="M248 949.4L293.7 949.4L293.7 1003.4L287.53 1019.1L293.7 1037.4L293.7 1086.6L248 1086.6L248 1037.4L254.17 1019.1L248 1003.4ZM254.17 1019.1L287.53 1019.1" fill="none" stroke="#e8787c" stroke-width="2.3" stroke-linejoin="miter"/>
<line x1="420.9" y1="819.1" x2="420.9" y2="906" stroke="#3f3f41" stroke-width="1.3"/>
<line x1="420.9" y1="1065.7" x2="420.9" y2="1165.7" stroke="#3f3f41" stroke-width="1.3"/>
<line x1="409.78" y1="819.1" x2="432.02" y2="819.1" stroke="#3f3f41" stroke-width="1.3"/>
<line x1="409.78" y1="1165.7" x2="432.02" y2="1165.7" stroke="#3f3f41" stroke-width="1.3"/>
<path d="M398.3 970.6L443.7 970.6L437.57 988L443.7 1008.6L398.3 1008.6L404.43 988Z" fill="#dcdcee"/>
<path d="M398.3 906L443.7 906L443.7 970.6L437.57 988L443.7 1008.6L443.7 1065.7L398.3 1065.7L398.3 1008.6L404.43 988L398.3 970.6ZM404.43 988L437.57 988" fill="none" stroke="#7b7fc4" stroke-width="2.3" stroke-linejoin="miter"/>
<line x1="496" y1="872.6" x2="496" y2="951" stroke="#3f3f41" stroke-width="1.3"/>
<line x1="496" y1="1094.3" x2="496" y2="1166.6" stroke="#3f3f41" stroke-width="1.3"/>
<line x1="484.85" y1="872.6" x2="507.15" y2="872.6" stroke="#3f3f41" stroke-width="1.3"/>
<line x1="484.85" y1="1166.6" x2="507.15" y2="1166.6" stroke="#3f3f41" stroke-width="1.3"/>
<path d="M473.1 1003.1L518.6 1003.1L512.46 1019.4L518.6 1038.6L473.1 1038.6L479.24 1019.4Z" fill="#fae3dd"/>
<path d="M473.1 951L518.6 951L518.6 1003.1L512.46 1019.4L518.6 1038.6L518.6 1094.3L473.1 1094.3L473.1 1038.6L479.24 1019.4L473.1 1003.1ZM479.24 1019.4L512.46 1019.4" fill="none" stroke="#e8787c" stroke-width="2.3" stroke-linejoin="miter"/>
<line x1="646" y1="909.7" x2="646" y2="987.4" stroke="#3f3f41" stroke-width="1.3"/>
<line x1="646" y1="1110.6" x2="646" y2="1165.7" stroke="#3f3f41" stroke-width="1.3"/>
<line x1="634.85" y1="909.7" x2="657.15" y2="909.7" stroke="#3f3f41" stroke-width="1.3"/>
<line x1="634.85" y1="1165.7" x2="657.15" y2="1165.7" stroke="#3f3f41" stroke-width="1.3"/>
<path d="M623.1 1038L668.6 1038L662.46 1054L668.6 1072.9L623.1 1072.9L629.24 1054Z" fill="#dcdcee"/>
<path d="M623.1 987.4L668.6 987.4L668.6 1038L662.46 1054L668.6 1072.9L668.6 1110.6L623.1 1110.6L623.1 1072.9L629.24 1054L623.1 1038ZM629.24 1054L662.46 1054" fill="none" stroke="#7b7fc4" stroke-width="2.3" stroke-linejoin="miter"/>
<line x1="720.9" y1="964" x2="720.9" y2="1031.4" stroke="#3f3f41" stroke-width="1.3"/>
<line x1="720.9" y1="1118" x2="720.9" y2="1165.7" stroke="#3f3f41" stroke-width="1.3"/>
<line x1="709.78" y1="964" x2="732.02" y2="964" stroke="#3f3f41" stroke-width="1.3"/>
<line x1="709.78" y1="1165.7" x2="732.02" y2="1165.7" stroke="#3f3f41" stroke-width="1.3"/>
<path d="M698.3 1067.1L743.7 1067.1L737.57 1080L743.7 1094.3L698.3 1094.3L704.43 1080Z" fill="#fae3dd"/>
<path d="M698.3 1031.4L743.7 1031.4L743.7 1067.1L737.57 1080L743.7 1094.3L743.7 1118L698.3 1118L698.3 1094.3L704.43 1080L698.3 1067.1ZM704.43 1080L737.57 1080" fill="none" stroke="#e8787c" stroke-width="2.3" stroke-linejoin="miter"/>
<line x1="870.9" y1="839.7" x2="870.9" y2="918" stroke="#3f3f41" stroke-width="1.3"/>
<line x1="870.9" y1="1038" x2="870.9" y2="1154.6" stroke="#3f3f41" stroke-width="1.3"/>
<line x1="859.78" y1="839.7" x2="882.02" y2="839.7" stroke="#3f3f41" stroke-width="1.3"/>
<line x1="859.78" y1="1154.6" x2="882.02" y2="1154.6" stroke="#3f3f41" stroke-width="1.3"/>
<path d="M848.3 966.3L893.7 966.3L887.57 986L893.7 1010L848.3 1010L854.43 986Z" fill="#dcdcee"/>
<path d="M848.3 918L893.7 918L893.7 966.3L887.57 986L893.7 1010L893.7 1038L848.3 1038L848.3 1010L854.43 986L848.3 966.3ZM854.43 986L887.57 986" fill="none" stroke="#7b7fc4" stroke-width="2.3" stroke-linejoin="miter"/>
<line x1="946" y1="917.4" x2="946" y2="992" stroke="#3f3f41" stroke-width="1.3"/>
<line x1="946" y1="1096.6" x2="946" y2="1145.4" stroke="#3f3f41" stroke-width="1.3"/>
<line x1="934.85" y1="917.4" x2="957.15" y2="917.4" stroke="#3f3f41" stroke-width="1.3"/>
<line x1="934.85" y1="1145.4" x2="957.15" y2="1145.4" stroke="#3f3f41" stroke-width="1.3"/>
<path d="M923.1 1022L968.6 1022L962.46 1046.3L968.6 1077.4L923.1 1077.4L929.24 1046.3Z" fill="#fae3dd"/>
<path d="M923.1 992L968.6 992L968.6 1022L962.46 1046.3L968.6 1077.4L968.6 1096.6L923.1 1096.6L923.1 1077.4L929.24 1046.3L923.1 1022ZM929.24 1046.3L962.46 1046.3" fill="none" stroke="#e8787c" stroke-width="2.3" stroke-linejoin="miter"/>
<g fill="#231f20"><circle cx="204" cy="701.43" r="2.1"/><circle cx="201.71" cy="713.14" r="2.1"/><circle cx="187.71" cy="747.14" r="2.1"/><circle cx="205.43" cy="750.57" r="2.1"/><circle cx="186.29" cy="759.71" r="2.1"/><circle cx="189.14" cy="760" r="2.1"/><circle cx="185.14" cy="790.57" r="2.1"/><circle cx="188" cy="790.57" r="2.1"/><circle cx="191.43" cy="792.29" r="2.1"/><circle cx="198.57" cy="788.86" r="2.1"/><circle cx="193.14" cy="796.29" r="2.1"/><circle cx="195.14" cy="809.14" r="2.1"/><circle cx="198.57" cy="810.57" r="2.1"/><circle cx="190.86" cy="812.57" r="2.1"/><circle cx="196" cy="813.71" r="2.1"/><circle cx="199.14" cy="812.29" r="2.1"/><circle cx="261.14" cy="768" r="2.1"/><circle cx="280.57" cy="789.71" r="2.1"/><circle cx="260.29" cy="812.86" r="2.1"/><circle cx="264.57" cy="836.57" r="2.1"/><circle cx="266.29" cy="842.86" r="2.1"/><circle cx="268" cy="850.86" r="2.1"/><circle cx="262.86" cy="853.43" r="2.1"/><circle cx="274.29" cy="847.71" r="2.1"/><circle cx="279.14" cy="847.14" r="2.1"/><circle cx="412.86" cy="785.71" r="2.1"/><circle cx="418.29" cy="785.43" r="2.1"/><circle cx="410.86" cy="788.86" r="2.1"/><circle cx="412.86" cy="790.29" r="2.1"/><circle cx="416.29" cy="796.86" r="2.1"/><circle cx="424" cy="792.29" r="2.1"/><circle cx="423.43" cy="801.43" r="2.1"/><circle cx="410.57" cy="811.71" r="2.1"/><circle cx="429.43" cy="808.57" r="2.1"/><circle cx="414.57" cy="816" r="2.1"/><circle cx="430.29" cy="814.57" r="2.1"/><circle cx="491.43" cy="818" r="2.1"/><circle cx="485.14" cy="831.43" r="2.1"/><circle cx="493.14" cy="850.29" r="2.1"/><circle cx="489.43" cy="862" r="2.1"/><circle cx="504" cy="865.14" r="2.1"/></g>
<g fill="#231f20"><circle cx="636" cy="761.43" r="2.1"/><circle cx="637.43" cy="775.14" r="2.1"/><circle cx="637.43" cy="849.71" r="2.1"/><circle cx="643.14" cy="867.14" r="2.1"/><circle cx="639.14" cy="872" r="2.1"/><circle cx="653.71" cy="879.14" r="2.1"/><circle cx="635.14" cy="889.43" r="2.1"/><circle cx="648.29" cy="893.71" r="2.1"/><circle cx="648.86" cy="898" r="2.1"/><circle cx="655.43" cy="897.43" r="2.1"/><circle cx="641.14" cy="903.71" r="2.1"/><circle cx="714.29" cy="877.71" r="2.1"/><circle cx="716.29" cy="890" r="2.1"/><circle cx="718" cy="923.43" r="2.1"/><circle cx="728.86" cy="926.86" r="2.1"/><circle cx="712.29" cy="942" r="2.1"/><circle cx="710.86" cy="952" r="2.1"/><circle cx="730.29" cy="952.57" r="2.1"/><circle cx="710" cy="959.43" r="2.1"/><circle cx="860" cy="790" r="2.1"/><circle cx="868" cy="789.14" r="2.1"/><circle cx="864.29" cy="818" r="2.1"/><circle cx="866.29" cy="832.86" r="2.1"/><circle cx="935.14" cy="905.43" r="2.1"/></g>
<text x="177.95" y="1198.2" textLength="108.7" lengthAdjust="spacingAndGlyphs">Boundary</text>
<text x="398.85" y="1198.2" textLength="118.3" lengthAdjust="spacingAndGlyphs">Frequency</text>
<text x="644.25" y="1198.2" textLength="78.27" lengthAdjust="spacingAndGlyphs">Length</text>
<text x="825.95" y="1198.2" textLength="164.2" lengthAdjust="spacingAndGlyphs">Phoneme surp</text>
<line x1="182.9" y1="1212.3" x2="747.1" y2="1212.3" stroke="#231f20" stroke-width="1.5"/>
<text x="401.29" y="1239.5" textLength="117.48" lengthAdjust="spacingAndGlyphs">Word level</text>
<text x="196.6" y="778.7" textLength="33.19" lengthAdjust="spacingAndGlyphs">***</text>
<text x="421.6" y="778.7" textLength="33.19" lengthAdjust="spacingAndGlyphs">***</text>
<text x="646.2" y="778.7" textLength="34.19" lengthAdjust="spacingAndGlyphs">***</text>
<text x="872.5" y="778.7" textLength="22.99" lengthAdjust="spacingAndGlyphs">**</text>
<rect x="939.35" y="714.35" width="57.4" height="24.5" fill="#dcdcee" stroke="#7b7fc4" stroke-width="2.3"/>
<rect x="939.35" y="748.25" width="57.4" height="24.4" fill="#fae3dd" stroke="#e8787c" stroke-width="2.3"/>
<text x="1009.35" y="734.7" textLength="71.76" lengthAdjust="spacingAndGlyphs">Native</text>
<text x="1009.35" y="771.3" textLength="84.87" lengthAdjust="spacingAndGlyphs">Foreign</text>
<text x="1187" y="695.7" font-size="35" font-weight="bold" stroke="#231f20" stroke-width="0.9" stroke-linejoin="round">c</text>
<text x="1205.02" y="781" textLength="48.93" lengthAdjust="spacingAndGlyphs">0.05</text>
<line x1="1264" y1="702.9" x2="1264" y2="1169.3" stroke="#4d4d4f" stroke-width="1.5"/>
<line x1="1264" y1="773.1" x2="1271.4" y2="773.1" stroke="#4d4d4f" stroke-width="1.5"/>
<line x1="1263.3" y1="1168.6" x2="1980.5" y2="1168.6" stroke="#4d4d4f" stroke-width="1.5"/>
<line x1="1383.1" y1="1160.5" x2="1383.1" y2="1168.6" stroke="#4d4d4f" stroke-width="1.5"/>
<line x1="1622" y1="1160.5" x2="1622" y2="1168.6" stroke="#4d4d4f" stroke-width="1.5"/>
<line x1="1860.5" y1="1160.5" x2="1860.5" y2="1168.6" stroke="#4d4d4f" stroke-width="1.5"/>
<text transform="translate(1228.9 936.2) rotate(-90)" text-anchor="middle"><tspan>Δ</tspan><tspan font-style="italic">R</tspan><tspan font-size="18" dy="-11.5">2</tspan><tspan dy="11.5"> (log)</tspan></text>
<line x1="1343.4" y1="841.7" x2="1343.4" y2="908.6" stroke="#3f3f41" stroke-width="1.3"/>
<line x1="1343.4" y1="1059.4" x2="1343.4" y2="1161.4" stroke="#3f3f41" stroke-width="1.3"/>
<line x1="1331.64" y1="841.7" x2="1355.16" y2="841.7" stroke="#3f3f41" stroke-width="1.3"/>
<line x1="1331.64" y1="1161.4" x2="1355.16" y2="1161.4" stroke="#3f3f41" stroke-width="1.3"/>
<path d="M1319.4 962.9L1367.4 962.9L1360.92 976.3L1367.4 992L1319.4 992L1325.88 976.3Z" fill="#dcdcee"/>
<path d="M1319.4 908.6L1367.4 908.6L1367.4 962.9L1360.92 976.3L1367.4 992L1367.4 1059.4L1319.4 1059.4L1319.4 992L1325.88 976.3L1319.4 962.9ZM1325.88 976.3L1360.92 976.3" fill="none" stroke="#7b7fc4" stroke-width="2.3" stroke-linejoin="miter"/>
<line x1="1423.1" y1="829.7" x2="1423.1" y2="899.7" stroke="#3f3f41" stroke-width="1.3"/>
<line x1="1423.1" y1="1050.6" x2="1423.1" y2="1165.7" stroke="#3f3f41" stroke-width="1.3"/>
<line x1="1411.34" y1="829.7" x2="1434.86" y2="829.7" stroke="#3f3f41" stroke-width="1.3"/>
<line x1="1411.34" y1="1165.7" x2="1434.86" y2="1165.7" stroke="#3f3f41" stroke-width="1.3"/>
<path d="M1399.1 961.1L1447.1 961.1L1440.62 975.7L1447.1 992L1399.1 992L1405.58 975.7Z" fill="#fae3dd"/>
<path d="M1399.1 899.7L1447.1 899.7L1447.1 961.1L1440.62 975.7L1447.1 992L1447.1 1050.6L1399.1 1050.6L1399.1 992L1405.58 975.7L1399.1 961.1ZM1405.58 975.7L1440.62 975.7" fill="none" stroke="#e8787c" stroke-width="2.3" stroke-linejoin="miter"/>
<line x1="1582" y1="844.3" x2="1582" y2="911.7" stroke="#3f3f41" stroke-width="1.3"/>
<line x1="1582" y1="1038.9" x2="1582" y2="1163.1" stroke="#3f3f41" stroke-width="1.3"/>
<line x1="1570.24" y1="844.3" x2="1593.76" y2="844.3" stroke="#3f3f41" stroke-width="1.3"/>
<line x1="1570.24" y1="1163.1" x2="1593.76" y2="1163.1" stroke="#3f3f41" stroke-width="1.3"/>
<path d="M1558 963.7L1606 963.7L1599.52 977.1L1606 993.1L1558 993.1L1564.48 977.1Z" fill="#dcdcee"/>
<path d="M1558 911.7L1606 911.7L1606 963.7L1599.52 977.1L1606 993.1L1606 1038.9L1558 1038.9L1558 993.1L1564.48 977.1L1558 963.7ZM1564.48 977.1L1599.52 977.1" fill="none" stroke="#7b7fc4" stroke-width="2.3" stroke-linejoin="miter"/>
<line x1="1661.7" y1="845.1" x2="1661.7" y2="917.7" stroke="#3f3f41" stroke-width="1.3"/>
<line x1="1661.7" y1="1060" x2="1661.7" y2="1168.6" stroke="#3f3f41" stroke-width="1.3"/>
<line x1="1649.87" y1="845.1" x2="1673.53" y2="845.1" stroke="#3f3f41" stroke-width="1.3"/>
<line x1="1649.87" y1="1168.6" x2="1673.53" y2="1168.6" stroke="#3f3f41" stroke-width="1.3"/>
<path d="M1637.4 971.7L1685.7 971.7L1679.18 986.9L1685.7 1004.9L1637.4 1004.9L1643.92 986.9Z" fill="#fae3dd"/>
<path d="M1637.4 917.7L1685.7 917.7L1685.7 971.7L1679.18 986.9L1685.7 1004.9L1685.7 1060L1637.4 1060L1637.4 1004.9L1643.92 986.9L1637.4 971.7ZM1643.92 986.9L1679.18 986.9" fill="none" stroke="#e8787c" stroke-width="2.3" stroke-linejoin="miter"/>
<line x1="1820.7" y1="802.3" x2="1820.7" y2="875.7" stroke="#3f3f41" stroke-width="1.3"/>
<line x1="1820.7" y1="1019.8" x2="1820.7" y2="1167.7" stroke="#3f3f41" stroke-width="1.3"/>
<line x1="1808.82" y1="802.3" x2="1832.58" y2="802.3" stroke="#3f3f41" stroke-width="1.3"/>
<line x1="1808.82" y1="1167.7" x2="1832.58" y2="1167.7" stroke="#3f3f41" stroke-width="1.3"/>
<path d="M1796.6 929.4L1845.1 929.4L1838.55 945L1845.1 963.7L1796.6 963.7L1803.15 945Z" fill="#dcdcee"/>
<path d="M1796.6 875.7L1845.1 875.7L1845.1 929.4L1838.55 945L1845.1 963.7L1845.1 1019.8L1796.6 1019.8L1796.6 963.7L1803.15 945L1796.6 929.4ZM1803.15 945L1838.55 945" fill="none" stroke="#7b7fc4" stroke-width="2.3" stroke-linejoin="miter"/>
<line x1="1900.3" y1="804.2" x2="1900.3" y2="874.7" stroke="#3f3f41" stroke-width="1.3"/>
<line x1="1900.3" y1="1029.3" x2="1900.3" y2="1158.3" stroke="#3f3f41" stroke-width="1.3"/>
<line x1="1888.47" y1="804.2" x2="1912.13" y2="804.2" stroke="#3f3f41" stroke-width="1.3"/>
<line x1="1888.47" y1="1158.3" x2="1912.13" y2="1158.3" stroke="#3f3f41" stroke-width="1.3"/>
<path d="M1876.1 937.5L1924.4 937.5L1917.88 956.1L1924.4 980.2L1876.1 980.2L1882.62 956.1Z" fill="#fae3dd"/>
<path d="M1876.1 874.7L1924.4 874.7L1924.4 937.5L1917.88 956.1L1924.4 980.2L1924.4 1029.3L1876.1 1029.3L1876.1 980.2L1882.62 956.1L1876.1 937.5ZM1882.62 956.1L1917.88 956.1" fill="none" stroke="#e8787c" stroke-width="2.3" stroke-linejoin="miter"/>
<g fill="#231f20"><circle cx="1346.29" cy="736.86" r="2.1"/><circle cx="1332" cy="768.29" r="2.1"/><circle cx="1334.57" cy="779.43" r="2.1"/><circle cx="1353.71" cy="778.29" r="2.1"/><circle cx="1355.14" cy="784" r="2.1"/><circle cx="1334.29" cy="794" r="2.1"/><circle cx="1332.57" cy="797.14" r="2.1"/><circle cx="1350.86" cy="797.71" r="2.1"/><circle cx="1335.43" cy="805.14" r="2.1"/><circle cx="1337.71" cy="805.14" r="2.1"/><circle cx="1340.57" cy="805.14" r="2.1"/><circle cx="1334.86" cy="815.71" r="2.1"/><circle cx="1338" cy="815.71" r="2.1"/><circle cx="1346.29" cy="809.43" r="2.1"/><circle cx="1351.71" cy="810.57" r="2.1"/><circle cx="1346" cy="818" r="2.1"/><circle cx="1349.14" cy="818" r="2.1"/><circle cx="1332" cy="828.86" r="2.1"/><circle cx="1342" cy="825.43" r="2.1"/><circle cx="1343.14" cy="830.29" r="2.1"/><circle cx="1414" cy="758.86" r="2.1"/><circle cx="1417.71" cy="771.71" r="2.1"/><circle cx="1420.86" cy="771.71" r="2.1"/><circle cx="1423.43" cy="771.71" r="2.1"/><circle cx="1426.29" cy="771.71" r="2.1"/><circle cx="1431.71" cy="771.43" r="2.1"/><circle cx="1414" cy="791.43" r="2.1"/><circle cx="1411.43" cy="794.29" r="2.1"/><circle cx="1425.71" cy="792" r="2.1"/><circle cx="1428.86" cy="797.71" r="2.1"/><circle cx="1420" cy="799.43" r="2.1"/><circle cx="1412.57" cy="816.57" r="2.1"/><circle cx="1418.29" cy="815.14" r="2.1"/><circle cx="1426.29" cy="815.14" r="2.1"/><circle cx="1416" cy="820.86" r="2.1"/><circle cx="1432.86" cy="820.86" r="2.1"/><circle cx="1588" cy="709.43" r="2.1"/><circle cx="1585.14" cy="762.57" r="2.1"/><circle cx="1590.57" cy="762" r="2.1"/><circle cx="1571.71" cy="785.71" r="2.1"/><circle cx="1585.14" cy="783.43" r="2.1"/><circle cx="1570.57" cy="790" r="2.1"/><circle cx="1585.43" cy="788.29" r="2.1"/><circle cx="1573.14" cy="795.43" r="2.1"/><circle cx="1576.86" cy="800" r="2.1"/><circle cx="1574.86" cy="816.86" r="2.1"/><circle cx="1579.14" cy="815.71" r="2.1"/><circle cx="1592.29" cy="819.71" r="2.1"/><circle cx="1576.86" cy="831.14" r="2.1"/><circle cx="1573.14" cy="834.29" r="2.1"/><circle cx="1670" cy="746.86" r="2.1"/><circle cx="1664.86" cy="782.86" r="2.1"/><circle cx="1651.14" cy="804.57" r="2.1"/><circle cx="1658.86" cy="804.57" r="2.1"/><circle cx="1656.86" cy="808.29" r="2.1"/><circle cx="1664.29" cy="807.71" r="2.1"/><circle cx="1650.29" cy="817.43" r="2.1"/><circle cx="1652.86" cy="822.86" r="2.1"/><circle cx="1654.57" cy="830.57" r="2.1"/></g>
<g fill="#231f20"><circle cx="1815.29" cy="706.88" r="2.1"/><circle cx="1826.66" cy="711.85" r="2.1"/><circle cx="1819.32" cy="721.08" r="2.1"/><circle cx="1822.87" cy="728.18" r="2.1"/><circle cx="1823.82" cy="730.79" r="2.1"/><circle cx="1829.02" cy="742.39" r="2.1"/><circle cx="1812.69" cy="764.64" r="2.1"/><circle cx="1820.27" cy="765.82" r="2.1"/><circle cx="1811.98" cy="775.06" r="2.1"/><circle cx="1828.08" cy="774.58" r="2.1"/><circle cx="1810.09" cy="783.34" r="2.1"/><circle cx="1830.68" cy="784.76" r="2.1"/><circle cx="1813.64" cy="790.21" r="2.1"/><circle cx="1823.58" cy="789.26" r="2.1"/><circle cx="1817.66" cy="794.94" r="2.1"/><circle cx="1903.6" cy="718.71" r="2.1"/><circle cx="1891.29" cy="724.87" r="2.1"/><circle cx="1891.29" cy="727.71" r="2.1"/><circle cx="1903.12" cy="730.55" r="2.1"/><circle cx="1894.84" cy="741.91" r="2.1"/><circle cx="1889.87" cy="750.2" r="2.1"/><circle cx="1895.08" cy="761.8" r="2.1"/><circle cx="1898.86" cy="782.87" r="2.1"/><circle cx="1897.21" cy="785.95" r="2.1"/><circle cx="1908.57" cy="795.42" r="2.1"/></g>
<text x="1353.95" y="740.3" textLength="35.8" lengthAdjust="spacingAndGlyphs">NS</text>
<text x="1585.95" y="740.3" textLength="35.8" lengthAdjust="spacingAndGlyphs">NS</text>
<text x="1831.25" y="740.6" textLength="35.6" lengthAdjust="spacingAndGlyphs">NS</text>
<text x="1329.29" y="1198.2" textLength="108.12" lengthAdjust="spacingAndGlyphs">peakRate</text>
<text x="1542.19" y="1198.2" textLength="159.39" lengthAdjust="spacingAndGlyphs">Vowel formant</text>
<text x="1798.13" y="1198.2" textLength="123.45" lengthAdjust="spacingAndGlyphs">Consonant</text>
</g>
<g id="panel-d">
<text x="-0.5" y="1287.8" font-size="35" font-weight="bold" stroke="#231f20" stroke-width="0.9" stroke-linejoin="round">d</text>
<text x="194.95" y="1310" textLength="73.16" lengthAdjust="spacingAndGlyphs">Native</text>
<text x="690.95" y="1310" textLength="86.67" lengthAdjust="spacingAndGlyphs">Foreign</text>
<text x="9.59" y="1345.7" textLength="137.84" lengthAdjust="spacingAndGlyphs">Word level +</text>
<text x="8.09" y="1375.8" textLength="212.57" lengthAdjust="spacingAndGlyphs">phoneme surp Δ<tspan font-style="italic">R</tspan><tspan font-size="18" dy="-11.5">2</tspan></text>
<circle cx="56.6" cy="1401.9" r="2.5" fill="#fff" stroke="#231f20" stroke-width="1.8"/>
<circle cx="82.7" cy="1401.9" r="5.1" fill="#fff" stroke="#231f20" stroke-width="1.8"/>
<circle cx="113.5" cy="1401.9" r="7.4" fill="#fff" stroke="#231f20" stroke-width="1.8"/>
<circle cx="148.7" cy="1401.9" r="9.7" fill="#fff" stroke="#231f20" stroke-width="1.8"/>
<text x="55.9" y="1432.9" text-anchor="middle">0</text>
<text x="129.62" y="1432.9" textLength="33.6" lengthAdjust="spacingAndGlyphs">0.1</text>
<g><g clip-path="url(#lhc)"><rect x="22.3" y="1410.2" width="440.1" height="322.6" fill="#fafafa"/><path d="M35.9 1649.4C39 1647.6 58.5 1651.8 69 1653.1C79.4 1654.3 94.9 1655.8 105.7 1658C116.6 1660.2 136.2 1664.8 141.2 1667.8C146.3 1670.7 144.3 1674.4 139.4 1677.6C134.4 1680.7 117.8 1688.8 108.2 1688.6C98.5 1688.4 84.1 1679.8 75.1 1676.3C66.1 1672.8 54 1669.3 48.2 1665.3C42.3 1661.3 32.8 1651.2 35.9 1649.4Z" fill="#bdbdbd" opacity="0.22" filter="url(#bl3)"/><g fill="#ffffff" opacity="0.9" filter="url(#bl2)"><ellipse cx="357.4" cy="1493.5" rx="9" ry="4.3" transform="rotate(17 357.4 1493.5)"/><ellipse cx="213" cy="1655.1" rx="5" ry="4.3" transform="rotate(-22 213 1655.1)"/><ellipse cx="282.1" cy="1444.8" rx="7.5" ry="3.1" transform="rotate(58 282.1 1444.8)"/><ellipse cx="340.8" cy="1580.3" rx="11.1" ry="5.8" transform="rotate(61 340.8 1580.3)"/><ellipse cx="125.9" cy="1485.8" rx="6.8" ry="4.4" transform="rotate(-6 125.9 1485.8)"/><ellipse cx="428.4" cy="1544.8" rx="12.3" ry="5.8" transform="rotate(-55 428.4 1544.8)"/><ellipse cx="169.4" cy="1642.1" rx="10.7" ry="5.8" transform="rotate(28 169.4 1642.1)"/><ellipse cx="107.1" cy="1502.8" rx="12.8" ry="4.5" transform="rotate(49 107.1 1502.8)"/><ellipse cx="195.8" cy="1684.1" rx="8.8" ry="5.2" transform="rotate(23 195.8 1684.1)"/><ellipse cx="205" cy="1467.4" rx="9.4" ry="5.1" transform="rotate(15 205 1467.4)"/><ellipse cx="62" cy="1623.7" rx="5.9" ry="3.5" transform="rotate(20 62 1623.7)"/><ellipse cx="185.9" cy="1645.7" rx="8.8" ry="3.9" transform="rotate(77 185.9 1645.7)"/><ellipse cx="283" cy="1537.6" rx="6.4" ry="4.5" transform="rotate(-77 283 1537.6)"/><ellipse cx="360.3" cy="1584.2" rx="11.9" ry="3.7" transform="rotate(51 360.3 1584.2)"/><ellipse cx="174.2" cy="1682.2" rx="7.8" ry="5.7" transform="rotate(60 174.2 1682.2)"/><ellipse cx="289.9" cy="1644.6" rx="8.1" ry="5.6" transform="rotate(51 289.9 1644.6)"/><ellipse cx="377.2" cy="1577.5" rx="9.5" ry="4.3" transform="rotate(-66 377.2 1577.5)"/><ellipse cx="234.1" cy="1528.4" rx="9.4" ry="5.8" transform="rotate(25 234.1 1528.4)"/><ellipse cx="235.8" cy="1525.9" rx="7.8" ry="4.6" transform="rotate(79 235.8 1525.9)"/><ellipse cx="367.3" cy="1517.7" rx="9.8" ry="5.4" transform="rotate(-35 367.3 1517.7)"/><ellipse cx="264.5" cy="1469.8" rx="5.7" ry="4.7" transform="rotate(-15 264.5 1469.8)"/><ellipse cx="221.8" cy="1652.5" rx="7.2" ry="3.8" transform="rotate(79 221.8 1652.5)"/><ellipse cx="104.8" cy="1504.7" rx="6.3" ry="3.8" transform="rotate(-37 104.8 1504.7)"/><ellipse cx="310.7" cy="1618.7" rx="7.4" ry="5.1" transform="rotate(47 310.7 1618.7)"/><ellipse cx="230.9" cy="1419.8" rx="8.1" ry="4.3" transform="rotate(-32 230.9 1419.8)"/><ellipse cx="137" cy="1493" rx="10.8" ry="5.9" transform="rotate(75 137 1493)"/><ellipse cx="212.5" cy="1723" rx="6.8" ry="4.2" transform="rotate(-71 212.5 1723)"/><ellipse cx="337.8" cy="1463.3" rx="10.6" ry="5" transform="rotate(59 337.8 1463.3)"/><ellipse cx="299.4" cy="1633.7" rx="8.6" ry="4.6" transform="rotate(-73 299.4 1633.7)"/><ellipse cx="196.5" cy="1595.7" rx="7.6" ry="4.9" transform="rotate(-65 196.5 1595.7)"/><ellipse cx="345.9" cy="1452.3" rx="6.7" ry="3.1" transform="rotate(-62 345.9 1452.3)"/><ellipse cx="398.7" cy="1511.1" rx="12.5" ry="5.2" transform="rotate(26 398.7 1511.1)"/><ellipse cx="270.7" cy="1453.8" rx="9.5" ry="5.6" transform="rotate(71 270.7 1453.8)"/><ellipse cx="273" cy="1466.9" rx="11.9" ry="5.9" transform="rotate(79 273 1466.9)"/><ellipse cx="246.2" cy="1532.7" rx="7.8" ry="3.6" transform="rotate(30 246.2 1532.7)"/><ellipse cx="282.2" cy="1569.1" rx="12.5" ry="4.2" transform="rotate(49 282.2 1569.1)"/><ellipse cx="242.3" cy="1515.9" rx="12" ry="5.7" transform="rotate(-76 242.3 1515.9)"/><ellipse cx="378" cy="1591.7" rx="6.1" ry="4.3" transform="rotate(-12 378 1591.7)"/><ellipse cx="409.1" cy="1631.1" rx="8.9" ry="6" transform="rotate(-20 409.1 1631.1)"/><ellipse cx="259" cy="1497.6" rx="7.7" ry="4.5" transform="rotate(-15 259 1497.6)"/><ellipse cx="184.8" cy="1520.7" rx="7.3" ry="5.6" transform="rotate(74 184.8 1520.7)"/><ellipse cx="364.3" cy="1640.1" rx="8.9" ry="4.7" transform="rotate(-54 364.3 1640.1)"/><ellipse cx="164.2" cy="1541.8" rx="8" ry="6" transform="rotate(-43 164.2 1541.8)"/><ellipse cx="385.6" cy="1520.8" rx="9.9" ry="5.3" transform="rotate(16 385.6 1520.8)"/><ellipse cx="57.7" cy="1587.5" rx="9.5" ry="5.9" transform="rotate(13 57.7 1587.5)"/><ellipse cx="412.8" cy="1592.1" rx="12.4" ry="4.4" transform="rotate(-10 412.8 1592.1)"/><ellipse cx="153.3" cy="1607.7" rx="5.1" ry="4.2" transform="rotate(-70 153.3 1607.7)"/><ellipse cx="106.2" cy="1662.5" rx="9.7" ry="3.5" transform="rotate(35 106.2 1662.5)"/><ellipse cx="97.3" cy="1489.2" rx="11" ry="3.3" transform="rotate(16 97.3 1489.2)"/><ellipse cx="376" cy="1585.2" rx="11.5" ry="4.7" transform="rotate(42 376 1585.2)"/><ellipse cx="161.4" cy="1478.4" rx="7.5" ry="3.1" transform="rotate(-5 161.4 1478.4)"/><ellipse cx="341.1" cy="1514.3" rx="8.1" ry="4.2" transform="rotate(-64 341.1 1514.3)"/><ellipse cx="118.1" cy="1609.1" rx="12.8" ry="4.6" transform="rotate(40 118.1 1609.1)"/><ellipse cx="312.9" cy="1494.8" rx="9.3" ry="3.9" transform="rotate(-17 312.9 1494.8)"/><ellipse cx="181.5" cy="1673.5" rx="5.7" ry="5.3" transform="rotate(-57 181.5 1673.5)"/><ellipse cx="308.6" cy="1617.2" rx="12.5" ry="4.2" transform="rotate(-2 308.6 1617.2)"/><ellipse cx="370" cy="1596.7" rx="12.4" ry="3.7" transform="rotate(-55 370 1596.7)"/><ellipse cx="261.6" cy="1596.7" rx="9.8" ry="3.7" transform="rotate(-75 261.6 1596.7)"/><ellipse cx="376.8" cy="1540.2" rx="7.1" ry="5.6" transform="rotate(-61 376.8 1540.2)"/><ellipse cx="351.7" cy="1526.7" rx="8.8" ry="5.6" transform="rotate(-55 351.7 1526.7)"/><ellipse cx="243" cy="1665.5" rx="5.6" ry="5.8" transform="rotate(-36 243 1665.5)"/><ellipse cx="157.6" cy="1638.2" rx="11.7" ry="4.8" transform="rotate(-48 157.6 1638.2)"/><ellipse cx="162.1" cy="1699.9" rx="11.4" ry="5.7" transform="rotate(-28 162.1 1699.9)"/><ellipse cx="102" cy="1550.1" rx="6.3" ry="5.1" transform="rotate(-17 102 1550.1)"/><ellipse cx="263.8" cy="1584.7" rx="11.8" ry="4.4" transform="rotate(21 263.8 1584.7)"/><ellipse cx="236.1" cy="1664.9" rx="12.5" ry="5.9" transform="rotate(-76 236.1 1664.9)"/><ellipse cx="51.5" cy="1525.3" rx="6.1" ry="3.4" transform="rotate(-14 51.5 1525.3)"/><ellipse cx="270.3" cy="1467.1" rx="5.7" ry="4.5" transform="rotate(-35 270.3 1467.1)"/><ellipse cx="254.9" cy="1571.8" rx="10.2" ry="4.3" transform="rotate(-23 254.9 1571.8)"/><ellipse cx="128.2" cy="1570" rx="8.8" ry="3.7" transform="rotate(25 128.2 1570)"/><ellipse cx="171.2" cy="1607" rx="10.8" ry="5" transform="rotate(-24 171.2 1607)"/><ellipse cx="247.4" cy="1691.8" rx="6.3" ry="5.3" transform="rotate(-28 247.4 1691.8)"/><ellipse cx="160.3" cy="1632.9" rx="11.8" ry="4.1" transform="rotate(38 160.3 1632.9)"/><ellipse cx="273.4" cy="1468.4" rx="7" ry="3.7" transform="rotate(65 273.4 1468.4)"/><ellipse cx="338.1" cy="1661.5" rx="9" ry="4.2" transform="rotate(9 338.1 1661.5)"/><ellipse cx="191.7" cy="1681.6" rx="9.4" ry="6" transform="rotate(54 191.7 1681.6)"/><ellipse cx="298.4" cy="1497.5" rx="12.3" ry="5.9" transform="rotate(-45 298.4 1497.5)"/><ellipse cx="447" cy="1608.8" rx="12.7" ry="5.1" transform="rotate(-60 447 1608.8)"/><ellipse cx="218.4" cy="1706.7" rx="12.8" ry="4.1" transform="rotate(30 218.4 1706.7)"/><ellipse cx="197.5" cy="1702.2" rx="8.5" ry="4.9" transform="rotate(44 197.5 1702.2)"/><ellipse cx="286.3" cy="1542.3" rx="5.9" ry="3.9" transform="rotate(-17 286.3 1542.3)"/><ellipse cx="189.5" cy="1590.4" rx="12.7" ry="4.6" transform="rotate(68 189.5 1590.4)"/><ellipse cx="33.5" cy="1612.2" rx="9.8" ry="5.5" transform="rotate(-28 33.5 1612.2)"/><ellipse cx="111.7" cy="1511.4" rx="11.1" ry="5.5" transform="rotate(34 111.7 1511.4)"/><ellipse cx="448.9" cy="1586" rx="8.9" ry="5.6" transform="rotate(-27 448.9 1586)"/><ellipse cx="273.1" cy="1534.3" rx="7.3" ry="3.3" transform="rotate(-74 273.1 1534.3)"/><ellipse cx="75.8" cy="1650.3" rx="9.4" ry="5.9" transform="rotate(-46 75.8 1650.3)"/><ellipse cx="57.1" cy="1531.3" rx="11.4" ry="4.3" transform="rotate(11 57.1 1531.3)"/><ellipse cx="355.1" cy="1515.4" rx="6" ry="5.2" transform="rotate(9 355.1 1515.4)"/><ellipse cx="157.2" cy="1539.5" rx="11.3" ry="5.1" transform="rotate(46 157.2 1539.5)"/></g><path d="M260 1440.4C257.1 1438.8 246.3 1431.2 240.4 1429.4C234.5 1427.6 224.3 1427.4 220.8 1428.2C217.3 1428.9 217.1 1431.5 217.1 1434.3C217.1 1437 221.7 1443.6 220.8 1446.5C219.9 1449.5 213.6 1453.1 211 1453.9C208.4 1454.6 206.6 1452.2 203.7 1451.4C200.7 1450.7 195.5 1449 191.4 1449C187.4 1449 180.8 1450 176.7 1451.4C172.7 1452.9 166.3 1457.7 164.5 1458.8M164.5 1458.8C163 1459.3 158 1461 154.7 1462.4C151.4 1463.9 146.1 1466.6 142.4 1468.6C138.8 1470.6 133 1473.3 130.2 1475.9C127.4 1478.5 125.2 1482.4 124.1 1485.7C123 1489 122.7 1494.3 122.9 1498C123 1501.6 125.1 1506.5 125.3 1510.2C125.5 1513.9 123.9 1519.1 124.1 1522.4C124.3 1525.8 125.6 1530.6 126.5 1532.2C127.4 1533.9 129.8 1534.6 130.2 1533.5C130.6 1532.4 129.5 1527.8 129 1524.9C128.4 1522 126.9 1515.5 126.5 1513.9M203.7 1451.4C203.3 1454 201.2 1464.9 201.2 1468.6C201.2 1472.2 201.5 1474.8 203.7 1475.9C205.9 1477 212.2 1474.4 215.9 1475.9C219.6 1477.4 225.4 1483.5 228.2 1485.7C230.9 1487.9 233.9 1492.4 234.3 1490.6C234.7 1488.8 229.7 1477.9 230.6 1473.5C231.5 1469.1 236 1464.9 240.4 1461.2C244.8 1457.6 257.1 1450.8 260 1449M178 1466.1C176.3 1465.4 170.4 1460.5 166.9 1461.2C163.4 1462 156.7 1467.7 154.7 1471C152.7 1474.3 154.2 1479.6 153.5 1483.3C152.7 1486.9 150 1492.2 149.8 1495.5C149.6 1498.8 152.6 1503.5 152.2 1505.3C151.9 1507.1 149 1507.6 147.3 1507.8C145.7 1507.9 142 1505.4 141.2 1506.5C140.5 1507.6 141.3 1512.3 142.4 1515.1C143.6 1517.9 146.7 1522.3 148.6 1524.9C150.4 1527.5 152.9 1530.6 154.7 1532.2C156.5 1533.9 159.9 1535.4 160.8 1535.9M234.3 1490.6C232.4 1491.7 224.8 1495 222 1498C219.3 1500.9 217.4 1506.2 215.9 1510.2C214.4 1514.2 213.3 1520.9 212.2 1524.9C211.1 1528.9 209.1 1533.8 208.6 1537.1C208 1540.4 208.2 1544 208.6 1546.9C208.9 1549.9 210.8 1554 211 1556.7C211.2 1559.5 210.9 1563.1 209.8 1565.3C208.7 1567.5 205.3 1569 203.7 1571.4C202 1573.8 199.5 1579.8 198.8 1581.2M198.8 1478.4C196.8 1479.3 188.4 1483 185.3 1484.5C182.2 1486 179.4 1486.1 178 1488.2C176.5 1490.2 174.6 1495.4 175.5 1498C176.4 1500.5 182.1 1503.5 184.1 1505.3C186.1 1507.1 188.6 1508.7 189 1510.2C189.3 1511.7 188.4 1514.2 186.5 1515.1C184.7 1516 178.8 1515.2 176.7 1516.3C174.7 1517.4 173.2 1519.7 173.1 1522.4C172.9 1525.2 175 1531 175.5 1534.7C176.1 1538.4 176.2 1543.3 176.7 1546.9C177.3 1550.6 178.4 1555.5 179.2 1559.2C179.9 1562.9 181.1 1567.8 181.6 1571.4C182.2 1575.1 182.5 1579.4 182.9 1583.7C183.2 1588 183.9 1597.5 184.1 1600M93.5 1485.7C94.2 1487.2 96.5 1494.6 98.4 1495.5C100.2 1496.4 103.1 1492.2 105.7 1491.8C108.3 1491.5 113.3 1491.6 115.5 1493.1C117.7 1494.5 119.1 1499.1 120.4 1501.6C121.7 1504.2 123.5 1508.9 124.1 1510.2M72.7 1501.6C73.9 1500.9 78.5 1497.8 81.2 1496.7C84 1495.6 88.4 1494.1 91 1494.3C93.6 1494.5 97.1 1496.3 98.4 1498C99.7 1499.6 99.8 1503.1 99.6 1505.3C99.4 1507.5 97 1510.6 97.1 1512.7C97.3 1514.7 98.8 1518.6 100.8 1518.8C102.8 1519 108.4 1515.2 110.6 1513.9C112.8 1512.6 114.8 1510.8 115.5 1510.2M100.8 1518.8C100.1 1519.3 97.8 1522.6 95.9 1522.4C94.1 1522.3 90.8 1518.1 88.6 1517.6C86.4 1517 82.9 1517.7 81.2 1518.8C79.6 1519.9 77.2 1522.9 77.6 1524.9C77.9 1526.9 82.4 1529.9 83.7 1532.2C85 1534.6 85.4 1538.2 86.1 1540.8C86.9 1543.4 86.7 1547.2 88.6 1549.4C90.4 1551.6 95.8 1555.1 98.4 1555.5C100.9 1555.9 104.1 1553.5 105.7 1551.8C107.4 1550.2 107.6 1545.2 109.4 1544.5C111.2 1543.8 115.2 1545.8 118 1546.9C120.7 1548 125.2 1551.3 127.8 1551.8C130.3 1552.4 132.9 1551.7 135.1 1550.6C137.3 1549.5 140.2 1546.3 142.4 1544.5C144.7 1542.7 147 1539.7 149.8 1538.4C152.6 1537.1 159.2 1536.3 160.8 1535.9M53.1 1538.4C53.2 1537.4 53.2 1533.9 54.3 1532.2C55.4 1530.6 58.2 1528.3 60.4 1527.3C62.6 1526.4 66.8 1525.9 69 1526.1C71.2 1526.3 75.1 1526.9 75.1 1528.6C75.1 1530.2 70.8 1534.8 69 1537.1C67.1 1539.5 64.3 1542.1 62.9 1544.5C61.4 1546.9 59.6 1550.3 59.2 1553.1C58.8 1555.8 61 1560.1 60.4 1562.9C59.9 1565.6 57.3 1569.2 55.5 1571.4C53.7 1573.6 49.8 1575.2 48.2 1577.6C46.5 1579.9 45.4 1584 44.5 1587.3C43.6 1590.7 42.4 1598.1 42 1600M105.7 1551.8C105.5 1553.1 106 1558.4 104.5 1560.4C103 1562.4 98.7 1564.4 95.9 1565.3C93.2 1566.2 88 1565.2 86.1 1566.5C84.3 1567.8 83.3 1571.3 83.7 1573.9C84 1576.4 87.1 1581.7 88.6 1583.7C90 1585.7 90.2 1587 93.5 1587.3C96.8 1587.7 106.4 1586.3 110.6 1586.1C114.8 1585.9 120.3 1587.2 121.6 1586.1C122.9 1585 120.1 1581.3 119.2 1578.8C118.3 1576.2 115.9 1571.6 115.5 1569C115.1 1566.4 115.4 1563.8 116.7 1561.6C118 1559.4 123 1555.4 124.1 1554.3M160.8 1535.9C162.1 1536.8 167.4 1539.8 169.4 1542C171.4 1544.2 173.9 1548 174.3 1550.6C174.7 1553.2 172.4 1556.4 171.8 1559.2C171.3 1561.9 170.8 1567.5 170.6 1569M147.3 1569C147.2 1570.4 146.1 1575.8 146.1 1578.8C146.1 1581.7 147 1585.4 147.3 1588.6C147.7 1591.7 148.4 1598.3 148.6 1600M152.2 1569C152.4 1570.4 153.5 1575.8 153.5 1578.8C153.5 1581.7 152.4 1587.1 152.2 1588.6M75.1 1591C76.4 1590.5 80.9 1587.9 83.7 1587.3C86.4 1586.8 92 1587.3 93.5 1587.3M37.1 1562.9C37.9 1564.1 40.4 1569.2 42 1571.4C43.7 1573.6 47.2 1576.6 48.2 1577.6M269.4 1420.8C268.5 1422.1 264.6 1426.3 263.3 1429.4C262 1432.5 261.9 1439.1 260.8 1441.6C259.7 1444.2 257.9 1444.7 255.9 1446.5C253.9 1448.4 249.7 1451.7 247.3 1453.9C245 1456.1 241.1 1460.1 240 1461.2M263.3 1429.4C265.3 1429.9 272.9 1432.1 276.7 1433.1C280.6 1434 285.9 1434.4 289 1435.5C292.1 1436.6 295.7 1438 297.6 1440.4C299.4 1442.8 300.9 1448.3 301.2 1451.4C301.6 1454.6 300.6 1458.3 300 1461.2C299.4 1464.2 299.2 1469.2 297.6 1471C295.9 1472.9 291.7 1472.9 289 1473.5C286.2 1474 280.7 1474.5 279.2 1474.7M240 1428.2C241.5 1428.5 247.2 1429 249.8 1430.6C252.4 1432.3 255.5 1437.2 257.1 1439.2C258.8 1441.2 260.3 1443.3 260.8 1444.1M303.7 1415.9C303.7 1418.1 303.9 1426.9 303.7 1430.6C303.5 1434.3 301.7 1438.6 302.4 1440.4C303.2 1442.2 306.9 1442.7 308.6 1442.9C310.2 1443 312.6 1442.9 313.5 1441.6C314.4 1440.3 312.9 1436.1 314.7 1434.3C316.5 1432.4 322.6 1429.4 325.7 1429.4C328.8 1429.4 332.2 1432.6 335.5 1434.3C338.8 1435.9 344.6 1439.1 347.8 1440.4C350.9 1441.7 355 1442.5 356.3 1442.9M308.6 1442.9C308.2 1444.5 306.9 1450.8 306.1 1453.9C305.4 1457 304.6 1461.1 303.7 1463.7C302.8 1466.2 300.9 1469.2 300 1471C299.1 1472.9 299.2 1473.9 297.6 1475.9C295.9 1477.9 291.2 1481.9 289 1484.5C286.8 1487.1 284.3 1490.9 282.9 1493.1C281.4 1495.3 279.6 1497 279.2 1499.2C278.8 1501.4 280.2 1505 280.4 1507.8C280.6 1510.5 279.7 1515 280.4 1517.6C281.1 1520.1 285.1 1522.7 285.3 1524.9C285.5 1527.1 282.4 1529.7 281.6 1532.2C280.9 1534.8 280.4 1539.1 280.4 1542C280.4 1545 281.4 1550.4 281.6 1551.8M297.6 1475.9C298.8 1475 303 1471.2 306.1 1469.8C309.2 1468.4 314.7 1466.9 318.4 1466.7C322 1466.6 327.9 1467.7 330.6 1468.6C333.4 1469.4 334.5 1472.4 336.7 1472.2C338.9 1472.1 342.2 1468.3 345.3 1467.3C348.4 1466.4 354.2 1465.8 357.6 1466.1C360.9 1466.5 364.8 1468.7 367.3 1469.8C369.9 1470.9 372.5 1472.4 374.7 1473.5C376.9 1474.6 379.5 1476.8 382 1477.1C384.6 1477.5 389.6 1475.7 391.8 1475.9C394 1476.1 396 1478 396.7 1478.4M318.4 1475.9C319.1 1477.4 322.2 1482.8 323.3 1485.7C324.4 1488.7 324.6 1492.2 325.7 1495.5C326.8 1498.8 329.5 1504.4 330.6 1507.8C331.7 1511.1 332.5 1514.8 333.1 1517.6C333.6 1520.3 334.3 1523.6 334.3 1526.1C334.3 1528.7 332.5 1532.5 333.1 1534.7C333.6 1536.9 336.5 1539 338 1540.8C339.4 1542.7 342.1 1546 342.9 1546.9M300 1485.7C300.9 1486.1 304.8 1486.3 306.1 1488.2C307.4 1490 308.2 1495.4 308.6 1498C308.9 1500.5 307.5 1503.5 308.6 1505.3C309.7 1507.1 314.3 1508.4 315.9 1510.2C317.6 1512 319 1516.4 319.6 1517.6M287.8 1501.6C287.9 1503.3 289 1509.5 289 1512.7C289 1515.8 287.8 1519.3 287.8 1522.4C287.8 1525.6 288.8 1530.2 289 1533.5C289.2 1536.8 288.4 1542.1 289 1544.5C289.5 1546.9 291.2 1548.8 292.7 1549.4C294.1 1549.9 297.5 1549.4 298.8 1548.2C300.1 1546.9 300.9 1542.8 301.2 1540.8C301.6 1538.8 301.8 1535.8 301.2 1534.7C300.7 1533.6 298.1 1533.7 297.6 1533.5M350.2 1498C350.9 1497.2 353.3 1494.2 355.1 1493.1C356.9 1492 359.5 1490.8 362.4 1490.6C365.4 1490.4 372.3 1491.1 374.7 1491.8C377.1 1492.6 376.9 1494.6 378.4 1495.5C379.8 1496.4 382.5 1497.6 384.5 1498C386.5 1498.3 390 1497 391.8 1498C393.7 1498.9 396.2 1502.2 396.7 1504.1C397.3 1505.9 396.1 1508.4 395.5 1510.2C395 1512 393.4 1515.4 393.1 1516.3M350.2 1498C350.4 1499.4 350.7 1505 351.4 1507.8C352.2 1510.5 354.7 1513.4 355.1 1516.3C355.5 1519.3 354.2 1524.2 353.9 1527.3C353.5 1530.5 353.6 1534.2 352.7 1537.1C351.7 1540.1 348.9 1543.8 347.8 1546.9C346.7 1550.1 346.4 1554.8 345.3 1558C344.2 1561.1 341.1 1566.3 340.4 1567.8M352.7 1504.1C353.8 1503.3 357.4 1499.9 360 1499.2C362.6 1498.4 367 1499.2 369.8 1499.2C372.6 1499.2 377.1 1499.2 378.4 1499.2M378.4 1512.7C378.6 1514.1 379.2 1519.5 379.6 1522.4C380 1525.4 379.7 1529.9 380.8 1532.2C381.9 1534.6 384.9 1538.2 386.9 1538.4C389 1538.6 391.9 1534.9 394.3 1533.5C396.7 1532 401.6 1529.3 402.9 1528.6M393.1 1516.3C394 1516 396.8 1513.9 399.2 1513.9C401.6 1513.9 406.4 1515 409 1516.3C411.6 1517.6 414.7 1520.1 416.3 1522.4C418 1524.8 419.1 1528.9 420 1532.2C420.9 1535.6 421.9 1540.8 422.4 1544.5C423 1548.2 423.5 1553.6 423.7 1556.7C423.9 1559.9 423.7 1564 423.7 1565.3M362.4 1554.3C363.9 1553.7 369.5 1551.3 372.2 1550.6C375 1549.9 378.6 1549.6 380.8 1549.4C383 1549.2 385.3 1548.5 386.9 1549.4C388.6 1550.3 390.4 1553.5 391.8 1555.5C393.3 1557.5 394.5 1560.7 396.7 1562.9C398.9 1565.1 403.6 1568.2 406.5 1570.2C409.5 1572.2 413.8 1574.7 416.3 1576.3C418.9 1578 421.5 1581.6 423.7 1581.2C425.9 1580.9 429.9 1577.2 431 1573.9C432.1 1570.6 431.4 1563.2 431 1559.2C430.7 1555.1 429.7 1549 428.6 1546.9C427.5 1544.9 424.4 1545.9 423.7 1545.7M240 1510.2C241.1 1509.8 245.1 1507.9 247.3 1507.8C249.6 1507.6 252.9 1509.7 254.7 1509C256.5 1508.2 258.1 1505.1 259.6 1502.9C261.1 1500.7 263 1496.5 264.5 1494.3C266 1492.1 267.2 1489.8 269.4 1488.2C271.6 1486.5 277.7 1484 279.2 1483.3M240 1528.6C240.7 1529.5 243.6 1532.3 244.9 1534.7C246.2 1537.1 247.5 1541.6 248.6 1544.5C249.7 1547.4 251 1551.5 252.2 1554.3C253.5 1557 255.7 1560.3 257.1 1562.9C258.6 1565.4 260.4 1570.5 262 1571.4C263.7 1572.3 266 1570.3 268.2 1569C270.4 1567.7 274.7 1564.5 276.7 1562.9C278.8 1561.2 280.9 1558.7 281.6 1558M240 1583.7C241.8 1582.6 248.6 1578.2 252.2 1576.3C255.9 1574.5 260.8 1573.1 264.5 1571.4C268.2 1569.8 273.1 1567.1 276.7 1565.3C280.4 1563.5 285.3 1560.5 289 1559.2C292.7 1557.9 298.3 1557.1 301.2 1556.7C304.2 1556.4 307.5 1556.7 308.6 1556.7M301.2 1600C303.1 1598.6 309.8 1593.6 313.5 1591C317.1 1588.4 322 1584.7 325.7 1582.4C329.4 1580.2 334.7 1578.3 338 1576.3C341.3 1574.3 345.2 1571.6 347.8 1569C350.3 1566.4 352.9 1561.4 355.1 1559.2C357.3 1557 361.3 1555 362.4 1554.3M338 1595.9C339.8 1594.6 346.5 1589 350.2 1587.3C353.9 1585.7 359.1 1585.1 362.4 1584.9C365.8 1584.7 370 1585.2 372.2 1586.1C374.4 1587 376.4 1590.3 377.1 1591M367.3 1559.2C367.3 1560.7 368.1 1566.4 367.3 1569C366.6 1571.6 363.2 1575.2 362.4 1576.3M423.7 1581.2C424.8 1582 429.2 1584.7 431 1586.1C432.9 1587.6 434.8 1588.9 435.9 1591C437 1593.1 438 1598.6 438.4 1600M404.1 1488.2C404.8 1490 407.5 1497.1 409 1500.4C410.4 1503.7 412.4 1506.9 413.9 1510.2C415.3 1513.5 417.7 1519.1 418.8 1522.4C419.9 1525.8 420.9 1530.8 421.2 1532.2M247.3 1453.9C248.4 1456.1 251.8 1466.4 254.7 1468.6C257.6 1470.8 263.3 1467.7 266.9 1468.6C270.6 1469.5 277.3 1473.8 279.2 1474.7M139.4 1677.6C139.7 1676.1 140 1670.9 141.2 1667.8C142.4 1664.6 145.5 1660 147.3 1656.7C149.2 1653.4 151.8 1648.7 153.5 1645.7C155.1 1642.8 156.9 1639.5 158.4 1637.1C159.8 1634.8 161.6 1631.8 163.3 1629.8C164.9 1627.8 167 1625.3 169.4 1623.7C171.8 1622 175.9 1620.2 179.2 1618.8C182.5 1617.3 187.8 1615.3 191.4 1613.9C195.1 1612.4 200 1611 203.7 1609C207.3 1607 212.2 1602.6 215.9 1600.4C219.6 1598.2 224.5 1596.3 228.2 1594.3C231.8 1592.3 236.7 1589 240.4 1586.9C244.1 1584.9 249.7 1582.3 252.7 1580.8C255.6 1579.3 258.9 1577.7 260 1577.1M191.4 1638.4C192.9 1638.2 198.3 1637.9 201.2 1637.1C204.2 1636.4 208.1 1634.4 211 1633.5C214 1632.6 217.9 1631.6 220.8 1631C223.8 1630.5 227.7 1630.5 230.6 1629.8C233.6 1629.1 237.1 1627.4 240.4 1626.1C243.7 1624.8 249.7 1622.3 252.7 1621.2C255.6 1620.1 258.9 1619.1 260 1618.8M173.1 1672.7C173.2 1671.9 173.6 1669.4 174.3 1667.8C175 1666.1 176.5 1663.5 178 1661.6C179.4 1659.8 182.1 1657.5 184.1 1655.5C186.1 1653.5 189.2 1650.2 191.4 1648.2C193.6 1646.1 196.2 1643.7 198.8 1642C201.3 1640.4 207.1 1637.9 208.6 1637.1M173.1 1672.7C173.2 1673.8 173.9 1677.8 174.3 1680C174.7 1682.2 175 1685.1 175.5 1687.3C176.1 1689.6 175.9 1693.8 178 1694.7C180 1695.6 186.2 1692.9 189 1693.5C191.7 1694 193.8 1697.4 196.3 1698.4C198.9 1699.3 203.6 1700 206.1 1699.6C208.7 1699.2 210.9 1696.8 213.5 1695.9C216 1695 221.1 1693.7 223.3 1693.5C225.5 1693.3 227.4 1694.5 228.2 1694.7M209.8 1677.6C211.1 1677 215.6 1674.8 218.4 1673.9C221.1 1673 225.2 1672.2 228.2 1671.4C231.1 1670.7 235 1669.5 238 1669C240.9 1668.4 244.4 1668.1 247.8 1667.8C251.1 1667.4 258.2 1666.7 260 1666.5M158.4 1702C159.3 1702.8 162.1 1705.8 164.5 1706.9C166.9 1708 171.5 1709.2 174.3 1709.4C177 1709.6 180.3 1709.4 182.9 1708.2C185.4 1706.9 189.4 1702.3 191.4 1700.8C193.4 1699.3 195.6 1698.7 196.3 1698.4M191.4 1710.6C192 1711.7 193.6 1715.9 195.1 1718C196.6 1720 199.6 1722.4 201.2 1724.1C202.9 1725.7 205.4 1728.2 206.1 1729M164.5 1687.3C165.2 1686.6 167.9 1683.4 169.4 1682.4C170.9 1681.5 173.6 1681.4 174.3 1681.2M75.1 1588.2C76.4 1587.6 80.9 1584.7 83.7 1584.5C86.4 1584.3 90.2 1586.7 93.5 1586.9C96.8 1587.2 102 1586.4 105.7 1586.3C109.4 1586.2 115.4 1586.8 118 1586.3C120.5 1585.9 122.5 1584.8 122.9 1583.3C123.2 1581.7 121.3 1577.9 120.4 1575.9C119.5 1573.9 117.1 1572.2 116.7 1569.8C116.4 1567.4 117.8 1561.5 118 1560M75.1 1588.2C75.1 1589.4 74.6 1594.3 75.1 1596.7C75.7 1599.1 77.7 1601.5 78.8 1604.1C79.9 1606.7 81.3 1610.9 82.4 1613.9C83.6 1616.8 84.8 1620.9 86.1 1623.7C87.4 1626.4 89.2 1630.4 91 1632.2C92.9 1634.1 96.2 1635.9 98.4 1635.9C100.6 1635.9 103.1 1633.2 105.7 1632.2C108.3 1631.3 112.6 1630.3 115.5 1629.8C118.4 1629.2 122.6 1629.1 125.3 1628.6C128.1 1628 133.1 1627.2 133.9 1626.1C134.6 1625 131.9 1622.5 130.2 1621.2C128.6 1619.9 125.4 1617.7 122.9 1617.6C120.3 1617.4 115.4 1619.6 113.1 1620C110.7 1620.4 108.4 1621.1 106.9 1620C105.5 1618.9 102.7 1613.8 103.3 1612.7C103.8 1611.6 108 1612.3 110.6 1612.7C113.2 1613 117.5 1614.6 120.4 1615.1C123.3 1615.7 126.9 1616.1 130.2 1616.3C133.5 1616.5 139.5 1616.1 142.4 1616.3C145.4 1616.5 148.3 1616.3 149.8 1617.6C151.3 1618.8 151.5 1622.5 152.2 1624.9C153 1627.3 153.6 1632 154.7 1633.5C155.8 1634.9 158.9 1634.5 159.6 1634.7M53.1 1606.5C53.2 1605.2 53 1599.8 54.3 1598C55.6 1596.1 59.4 1594.5 61.6 1594.3C63.8 1594.1 67 1595.3 69 1596.7C71 1598.2 74.2 1603 75.1 1604.1M53.1 1606.5C53.2 1607.8 53.6 1612.3 54.3 1615.1C55 1617.9 56.3 1622.3 58 1624.9C59.6 1627.5 63.5 1630 65.3 1632.2C67.1 1634.4 68.7 1637.6 70.2 1639.6C71.7 1641.6 73.1 1643.5 75.1 1645.7C77.1 1647.9 80.9 1652.4 83.7 1654.3C86.4 1656.1 90.2 1657.6 93.5 1658C96.8 1658.3 102 1656.7 105.7 1656.7C109.4 1656.7 114.7 1658.1 118 1658C121.3 1657.8 125.2 1656.6 127.8 1655.5C130.3 1654.4 132.9 1651 135.1 1650.6C137.3 1650.2 141.3 1652.7 142.4 1653.1M44.5 1609C44.1 1610.4 42.4 1615.8 42 1618.8C41.7 1621.7 42.8 1626.4 42 1628.6C41.3 1630.8 37.9 1632.7 37.1 1633.5M35.9 1649.4C37.2 1649 41.7 1647.1 44.5 1646.9C47.2 1646.8 51.3 1647.6 54.3 1648.2C57.2 1648.7 61 1649.9 64.1 1650.6C67.2 1651.3 72.2 1652.5 75.1 1653.1C78 1653.6 82.4 1654.1 83.7 1654.3M118 1658C119.1 1658.7 123.1 1661.8 125.3 1662.9C127.5 1664 130.3 1664.6 132.7 1665.3C135 1666 139.9 1667.4 141.2 1667.8M110.6 1643.3C111.7 1642.5 115.6 1640 118 1638.4C120.3 1636.7 124.1 1634.1 126.5 1632.2C128.9 1630.4 132.8 1627 133.9 1626.1M48.2 1575.9C47.2 1577.8 42.8 1585 42 1588.2C41.3 1591.3 41.6 1594.9 43.3 1596.7C44.9 1598.6 51.6 1599.9 53.1 1600.4M146.1 1569.8C146.1 1571.6 145.8 1578.7 146.1 1582C146.5 1585.3 148 1588.9 148.6 1591.8C149.1 1594.8 148.3 1598.7 149.8 1601.6C151.3 1604.6 156.3 1609 158.4 1611.4C160.4 1613.8 162.5 1616.6 163.3 1617.6M171.8 1572.2C171.7 1574.1 170.6 1580.8 170.6 1584.5C170.6 1588.2 171.7 1593.2 171.8 1596.7C172 1600.2 171.3 1605.2 171.8 1607.8C172.4 1610.3 175 1613 175.5 1613.9M179.2 1560C179.4 1561.8 179.9 1568.9 180.4 1572.2C181 1575.6 182.5 1580.6 182.9 1582M211 1563.7C209.9 1564.6 205.3 1567.4 203.7 1569.8C202 1572.2 200.7 1576.8 200 1579.6C199.3 1582.3 199 1586.9 198.8 1588.2M88.6 1560C87.8 1561.1 84 1564.8 83.7 1567.3C83.3 1569.9 85 1574.4 86.1 1577.1C87.2 1579.9 90.3 1584.4 91 1585.7M40.8 1589.4C39.7 1587.2 35.1 1578 33.5 1574.7C31.8 1571.4 30.3 1568.4 29.8 1567.3M240 1575.9C241.8 1575.4 248.6 1573.7 252.2 1572.2C255.9 1570.8 261.2 1568 264.5 1566.1C267.8 1564.3 272.8 1560.9 274.3 1560M240 1617.6C241.8 1617 248.6 1615.2 252.2 1613.9C255.9 1612.6 260.8 1610.6 264.5 1609C268.2 1607.3 273.1 1604.7 276.7 1602.9C280.4 1601 285.3 1598.2 289 1596.7C292.7 1595.3 297.6 1594.5 301.2 1593.1C304.9 1591.6 309.8 1588.6 313.5 1586.9C317.1 1585.3 322.4 1583 325.7 1582C329 1581.1 334 1581 335.5 1580.8M293.9 1617.6C295.3 1617.9 300.7 1619.3 303.7 1620C306.6 1620.7 310.5 1621.7 313.5 1622.4C316.4 1623.2 320.3 1624.3 323.3 1624.9C326.2 1625.5 329.8 1626.6 333.1 1626.7C336.4 1626.9 342 1626.6 345.3 1626.1C348.6 1625.7 352.2 1624.4 355.1 1623.7C358 1622.9 362 1622.5 364.9 1621.2C367.8 1619.9 372.3 1617.3 374.7 1615.1C377.1 1612.9 379.7 1609.1 380.8 1606.5C381.9 1604 382.6 1600.3 382 1598C381.5 1595.6 379 1592.3 377.1 1590.6C375.3 1589 372.4 1587.6 369.8 1586.9C367.2 1586.3 362.6 1586.3 360 1586.3C357.4 1586.3 354.9 1586.1 352.7 1586.9C350.4 1587.8 347.3 1590.4 345.3 1591.8C343.3 1593.3 339.7 1595.6 339.2 1596.7C338.6 1597.8 340 1599.6 341.6 1599.2C343.3 1598.8 347.8 1595.8 350.2 1594.3C352.6 1592.8 356.4 1590.1 357.6 1589.4M364.9 1621.2C365.3 1622.7 367.2 1628.3 367.3 1631C367.5 1633.8 367.2 1637 366.1 1639.6C365 1642.2 362 1645.6 360 1648.2C358 1650.7 354.9 1654.3 352.7 1656.7C350.4 1659.1 346.4 1663 345.3 1664.1M293.9 1639.6C295 1639.8 299 1639.9 301.2 1640.8C303.4 1641.7 306.4 1644.4 308.6 1645.7C310.8 1647 314.1 1649 315.9 1649.4C317.8 1649.8 319.3 1649.1 320.8 1648.2C322.3 1647.2 325 1644 325.7 1643.3M315.9 1649.4C316.3 1650.7 317.8 1655.6 318.4 1658C318.9 1660.3 318.5 1663.5 319.6 1665.3C320.7 1667.1 324.8 1669.5 325.7 1670.2M293.9 1639.6C293.9 1640.9 294.6 1646.1 293.9 1648.2C293.1 1650.2 291 1651.6 289 1653.1C287 1654.5 283 1656.7 280.4 1658C277.8 1659.2 274.6 1660.7 271.8 1661.6C269.1 1662.6 265 1663.3 262 1664.1C259.1 1664.8 255.6 1666 252.2 1666.5C248.9 1667.1 241.8 1667.6 240 1667.8M258.4 1618.8C258.6 1620.2 259.2 1625.6 259.6 1628.6C260 1631.5 260.6 1635.8 260.8 1638.4C261 1640.9 260.8 1644.6 260.8 1645.7M382 1598C383.5 1598.7 388.9 1601.8 391.8 1602.9C394.8 1604 398.7 1604.9 401.6 1605.3C404.6 1605.7 408.1 1605.5 411.4 1605.3C414.7 1605.1 420 1604.3 423.7 1604.1C427.3 1603.9 432.6 1603.3 435.9 1604.1C439.2 1604.8 442.8 1607.5 445.7 1609C448.7 1610.4 454 1613.1 455.5 1613.9M426.1 1604.1C426.1 1605.6 426.7 1610.9 426.1 1613.9C425.6 1616.8 423.4 1621.5 422.4 1623.7C421.5 1625.9 420.4 1627.8 420 1628.6M390.6 1621.2C390.4 1622.7 389.9 1628.1 389.4 1631C388.8 1634 386.8 1638.2 386.9 1640.8C387.1 1643.4 389.5 1646 390.6 1648.2C391.7 1650.4 392.6 1653.7 394.3 1655.5C395.9 1657.3 400.5 1659.7 401.6 1660.4M395.5 1560C396.6 1561.1 400.5 1565.1 402.9 1567.3C405.2 1569.6 408.7 1572.7 411.4 1574.7C414.2 1576.7 418.3 1579.5 421.2 1580.8C424.2 1582.1 428.8 1581.8 431 1583.3C433.2 1584.7 435 1588 435.9 1590.6C436.8 1593.2 437 1598.9 437.1 1600.4M367.3 1560C367 1561.8 366.4 1568.9 364.9 1572.2C363.4 1575.6 358.7 1580.6 357.6 1582M429.8 1560C429.2 1561.5 427.4 1566.7 426.1 1569.8C424.8 1572.9 422 1579.2 421.2 1580.8M426.1 1643.3C426.5 1644.7 428.2 1650.1 428.6 1653.1C428.9 1656 428.6 1661.4 428.6 1662.9M240 1628.6C241.5 1627.8 247 1625.1 249.8 1623.7C252.6 1622.2 256.2 1619.7 258.4 1618.8C260.6 1617.9 263.6 1617.7 264.5 1617.6M240 1611.4C241.1 1611.1 245 1609.9 247.3 1609C249.7 1608.1 253.3 1606.4 255.9 1605.3C258.5 1604.2 261.9 1602.9 264.5 1601.6C267.1 1600.3 270.5 1597.8 273.1 1596.7C275.6 1595.6 280.3 1594.7 281.6 1594.3" fill="none" stroke="#555" stroke-width="0.6" stroke-opacity="0.8" stroke-linecap="round" stroke-linejoin="round" filter="url(#sulH)"/><path d="M240 1415.3C242.8 1416 249.8 1418.7 254.7 1419.6C259.6 1420.5 265.1 1422 269.4 1420.8C273.7 1419.6 276.7 1413.6 280.4 1412.2C284.1 1410.9 287.6 1412.2 291.4 1412.9C295.3 1413.5 299.6 1414.8 303.7 1415.9C307.8 1417 311.6 1418.2 315.9 1419.6C320.2 1421 325.1 1422.7 329.4 1424.5C333.7 1426.3 337.8 1428.6 341.6 1430.6C345.5 1432.7 350 1434.7 352.7 1436.7C355.3 1438.8 355.1 1440.8 357.6 1442.9C360 1444.9 364.1 1446.9 367.3 1449C370.6 1451 374.3 1452.9 377.1 1455.1C380 1457.3 382 1459.6 384.5 1462.4C386.9 1465.3 389.6 1469.2 391.8 1472.2C394.1 1475.3 395.9 1478.2 398 1480.8C400 1483.5 401.8 1485.5 404.1 1488.2C406.3 1490.8 409.4 1493.5 411.4 1496.7C413.5 1500 414.3 1504.7 416.3 1507.8C418.4 1510.8 421.6 1512.2 423.7 1515.1C425.7 1518 426.9 1521.6 428.6 1524.9C430.2 1528.2 431.4 1531.2 433.5 1534.7C435.5 1538.2 438.8 1542.4 440.8 1545.7C442.9 1549 444.1 1551 445.7 1554.3C447.3 1557.6 449.4 1561.8 450.6 1565.3C451.8 1568.8 452 1571.4 453.1 1575.1C454.1 1578.8 455.7 1583.2 456.7 1587.3C457.8 1591.5 458.6 1596.4 459.2 1600C459.8 1603.6 460.6 1605.4 460.4 1609C460.2 1612.5 458.8 1617.1 458 1621.2C457.1 1625.3 456.7 1629.4 455.5 1633.5C454.3 1637.6 452.7 1641.8 450.6 1645.7C448.6 1649.6 445.7 1653.5 443.3 1656.7C440.8 1660 438.4 1664.1 435.9 1665.3C433.5 1666.5 431 1664.5 428.6 1664.1C426.1 1663.7 424.1 1662.8 421.2 1662.9C418.4 1663 414.7 1665.1 411.4 1664.7C408.2 1664.3 404.9 1661.7 401.6 1660.4C398.4 1659.1 395.5 1657.1 391.8 1656.7C388.2 1656.3 383.7 1657.7 379.6 1658C375.5 1658.3 371.4 1658.4 367.3 1658.6C363.3 1658.8 358.8 1658.3 355.1 1659.2C351.4 1660.1 348.6 1662.4 345.3 1664.1C342 1665.7 338.8 1668 335.5 1669C332.2 1670 329 1669.4 325.7 1670.2C322.4 1671 319.2 1672.9 315.9 1673.9C312.7 1674.9 309.8 1675.7 306.1 1676.3C302.4 1676.9 298 1676.9 293.9 1677.6C289.8 1678.2 285.7 1679 281.6 1680C277.6 1681 273.1 1682.4 269.4 1683.7C265.7 1684.9 262.9 1685.5 259.6 1687.3C256.3 1689.2 253.1 1691.8 249.8 1694.7C246.5 1697.6 242.8 1700.6 240 1704.5C237.2 1708.4 235.4 1714.1 233.1 1718C230.7 1721.8 228.2 1725.6 225.7 1727.8C223.3 1729.9 221.2 1730.4 218.4 1730.8C215.5 1731.2 212 1730.5 208.6 1730.2C205.1 1729.9 201.2 1729.6 197.6 1729C193.9 1728.4 190 1727.4 186.5 1726.5C183.1 1725.6 180 1724.5 176.7 1723.5C173.5 1722.4 170 1721.5 166.9 1720.4C163.9 1719.3 161 1718.2 158.4 1716.7C155.7 1715.3 153.3 1713.7 151 1711.8C148.8 1710 146.5 1707.8 144.9 1705.7C143.3 1703.7 142.2 1701.8 141.2 1699.6C140.2 1697.3 139.3 1694.7 138.8 1692.2C138.3 1689.8 138.1 1687.3 138.2 1684.9C138.3 1682.4 140.1 1678.7 139.4 1677.6C138.7 1676.4 136.2 1677.6 133.9 1678.2C131.5 1678.8 128.2 1680.1 125.3 1681.2C122.4 1682.3 119.6 1683.7 116.7 1684.9C113.9 1686.1 110.8 1688.5 108.2 1688.6C105.5 1688.7 103.3 1686.5 100.8 1685.5C98.4 1684.5 95.9 1683.7 93.5 1682.4C91 1681.2 89.2 1679.2 86.1 1678.2C83.1 1677.1 78.8 1676.7 75.1 1676.3C71.4 1675.9 67.1 1676.7 64.1 1675.7C61 1674.7 59.4 1671.9 56.7 1670.2C54.1 1668.5 50.8 1667.3 48.2 1665.3C45.5 1663.3 42.9 1660.6 40.8 1658C38.8 1655.3 37.1 1652.4 35.9 1649.4C34.7 1646.3 33.3 1642.2 33.5 1639.6C33.7 1636.9 37.3 1634.9 37.1 1633.5C36.9 1632 33.7 1632.7 32.2 1631C30.8 1629.4 29.8 1626.7 28.6 1623.7C27.3 1620.6 25.6 1616.5 24.9 1612.7C24.2 1608.8 24.3 1604.7 24.3 1600.4C24.3 1596.1 24.9 1591.6 24.9 1586.9C24.9 1582.2 24 1576.7 24.3 1572.2C24.6 1567.8 25.6 1562.2 26.7 1560C27.9 1557.8 29.1 1561.4 31 1559.2C33 1557 36.5 1551 38.4 1546.9C40.2 1542.9 39.8 1538.8 42 1534.7C44.3 1530.6 48.8 1526.1 51.8 1522.4C54.9 1518.8 56.9 1516.3 60.4 1512.7C63.9 1509 69.4 1504.5 72.7 1500.4C75.9 1496.3 77.3 1491.4 80 1488.2C82.7 1484.9 85.1 1483.9 88.6 1480.8C92 1477.8 96.7 1471.9 100.8 1469.8C104.9 1467.7 108.6 1470.4 113.1 1468C117.6 1465.5 122.9 1458.3 127.8 1455.1C132.7 1451.9 138 1451 142.4 1449C146.9 1446.9 150.2 1445.2 154.7 1442.9C159.2 1440.5 164.9 1436.1 169.4 1434.9C173.9 1433.7 179.4 1436.2 181.6 1435.5C183.9 1434.8 181.2 1432.7 182.9 1430.6C184.5 1428.6 185.1 1424.5 191.4 1423.3C197.8 1422 214.7 1424.3 220.8 1423.3C226.9 1422.2 225.3 1418.4 228.2 1417.1C231 1415.9 236 1416 238 1415.7C239.9 1415.4 237.2 1414.7 240 1415.3Z" fill="none" stroke="#7d7d7d" stroke-width="1.6" filter="url(#edgH)"/></g></g><g transform="translate(470 0)"><g clip-path="url(#lhc)"><rect x="22.3" y="1410.2" width="440.1" height="322.6" fill="#fafafa"/><path d="M35.9 1649.4C39 1647.6 58.5 1651.8 69 1653.1C79.4 1654.3 94.9 1655.8 105.7 1658C116.6 1660.2 136.2 1664.8 141.2 1667.8C146.3 1670.7 144.3 1674.4 139.4 1677.6C134.4 1680.7 117.8 1688.8 108.2 1688.6C98.5 1688.4 84.1 1679.8 75.1 1676.3C66.1 1672.8 54 1669.3 48.2 1665.3C42.3 1661.3 32.8 1651.2 35.9 1649.4Z" fill="#bdbdbd" opacity="0.22" filter="url(#bl3)"/><g fill="#ffffff" opacity="0.9" filter="url(#bl2)"><ellipse cx="357.4" cy="1493.5" rx="9" ry="4.3" transform="rotate(17 357.4 1493.5)"/><ellipse cx="213" cy="1655.1" rx="5" ry="4.3" transform="rotate(-22 213 1655.1)"/><ellipse cx="282.1" cy="1444.8" rx="7.5" ry="3.1" transform="rotate(58 282.1 1444.8)"/><ellipse cx="340.8" cy="1580.3" rx="11.1" ry="5.8" transform="rotate(61 340.8 1580.3)"/><ellipse cx="125.9" cy="1485.8" rx="6.8" ry="4.4" transform="rotate(-6 125.9 1485.8)"/><ellipse cx="428.4" cy="1544.8" rx="12.3" ry="5.8" transform="rotate(-55 428.4 1544.8)"/><ellipse cx="169.4" cy="1642.1" rx="10.7" ry="5.8" transform="rotate(28 169.4 1642.1)"/><ellipse cx="107.1" cy="1502.8" rx="12.8" ry="4.5" transform="rotate(49 107.1 1502.8)"/><ellipse cx="195.8" cy="1684.1" rx="8.8" ry="5.2" transform="rotate(23 195.8 1684.1)"/><ellipse cx="205" cy="1467.4" rx="9.4" ry="5.1" transform="rotate(15 205 1467.4)"/><ellipse cx="62" cy="1623.7" rx="5.9" ry="3.5" transform="rotate(20 62 1623.7)"/><ellipse cx="185.9" cy="1645.7" rx="8.8" ry="3.9" transform="rotate(77 185.9 1645.7)"/><ellipse cx="283" cy="1537.6" rx="6.4" ry="4.5" transform="rotate(-77 283 1537.6)"/><ellipse cx="360.3" cy="1584.2" rx="11.9" ry="3.7" transform="rotate(51 360.3 1584.2)"/><ellipse cx="174.2" cy="1682.2" rx="7.8" ry="5.7" transform="rotate(60 174.2 1682.2)"/><ellipse cx="289.9" cy="1644.6" rx="8.1" ry="5.6" transform="rotate(51 289.9 1644.6)"/><ellipse cx="377.2" cy="1577.5" rx="9.5" ry="4.3" transform="rotate(-66 377.2 1577.5)"/><ellipse cx="234.1" cy="1528.4" rx="9.4" ry="5.8" transform="rotate(25 234.1 1528.4)"/><ellipse cx="235.8" cy="1525.9" rx="7.8" ry="4.6" transform="rotate(79 235.8 1525.9)"/><ellipse cx="367.3" cy="1517.7" rx="9.8" ry="5.4" transform="rotate(-35 367.3 1517.7)"/><ellipse cx="264.5" cy="1469.8" rx="5.7" ry="4.7" transform="rotate(-15 264.5 1469.8)"/><ellipse cx="221.8" cy="1652.5" rx="7.2" ry="3.8" transform="rotate(79 221.8 1652.5)"/><ellipse cx="104.8" cy="1504.7" rx="6.3" ry="3.8" transform="rotate(-37 104.8 1504.7)"/><ellipse cx="310.7" cy="1618.7" rx="7.4" ry="5.1" transform="rotate(47 310.7 1618.7)"/><ellipse cx="230.9" cy="1419.8" rx="8.1" ry="4.3" transform="rotate(-32 230.9 1419.8)"/><ellipse cx="137" cy="1493" rx="10.8" ry="5.9" transform="rotate(75 137 1493)"/><ellipse cx="212.5" cy="1723" rx="6.8" ry="4.2" transform="rotate(-71 212.5 1723)"/><ellipse cx="337.8" cy="1463.3" rx="10.6" ry="5" transform="rotate(59 337.8 1463.3)"/><ellipse cx="299.4" cy="1633.7" rx="8.6" ry="4.6" transform="rotate(-73 299.4 1633.7)"/><ellipse cx="196.5" cy="1595.7" rx="7.6" ry="4.9" transform="rotate(-65 196.5 1595.7)"/><ellipse cx="345.9" cy="1452.3" rx="6.7" ry="3.1" transform="rotate(-62 345.9 1452.3)"/><ellipse cx="398.7" cy="1511.1" rx="12.5" ry="5.2" transform="rotate(26 398.7 1511.1)"/><ellipse cx="270.7" cy="1453.8" rx="9.5" ry="5.6" transform="rotate(71 270.7 1453.8)"/><ellipse cx="273" cy="1466.9" rx="11.9" ry="5.9" transform="rotate(79 273 1466.9)"/><ellipse cx="246.2" cy="1532.7" rx="7.8" ry="3.6" transform="rotate(30 246.2 1532.7)"/><ellipse cx="282.2" cy="1569.1" rx="12.5" ry="4.2" transform="rotate(49 282.2 1569.1)"/><ellipse cx="242.3" cy="1515.9" rx="12" ry="5.7" transform="rotate(-76 242.3 1515.9)"/><ellipse cx="378" cy="1591.7" rx="6.1" ry="4.3" transform="rotate(-12 378 1591.7)"/><ellipse cx="409.1" cy="1631.1" rx="8.9" ry="6" transform="rotate(-20 409.1 1631.1)"/><ellipse cx="259" cy="1497.6" rx="7.7" ry="4.5" transform="rotate(-15 259 1497.6)"/><ellipse cx="184.8" cy="1520.7" rx="7.3" ry="5.6" transform="rotate(74 184.8 1520.7)"/><ellipse cx="364.3" cy="1640.1" rx="8.9" ry="4.7" transform="rotate(-54 364.3 1640.1)"/><ellipse cx="164.2" cy="1541.8" rx="8" ry="6" transform="rotate(-43 164.2 1541.8)"/><ellipse cx="385.6" cy="1520.8" rx="9.9" ry="5.3" transform="rotate(16 385.6 1520.8)"/><ellipse cx="57.7" cy="1587.5" rx="9.5" ry="5.9" transform="rotate(13 57.7 1587.5)"/><ellipse cx="412.8" cy="1592.1" rx="12.4" ry="4.4" transform="rotate(-10 412.8 1592.1)"/><ellipse cx="153.3" cy="1607.7" rx="5.1" ry="4.2" transform="rotate(-70 153.3 1607.7)"/><ellipse cx="106.2" cy="1662.5" rx="9.7" ry="3.5" transform="rotate(35 106.2 1662.5)"/><ellipse cx="97.3" cy="1489.2" rx="11" ry="3.3" transform="rotate(16 97.3 1489.2)"/><ellipse cx="376" cy="1585.2" rx="11.5" ry="4.7" transform="rotate(42 376 1585.2)"/><ellipse cx="161.4" cy="1478.4" rx="7.5" ry="3.1" transform="rotate(-5 161.4 1478.4)"/><ellipse cx="341.1" cy="1514.3" rx="8.1" ry="4.2" transform="rotate(-64 341.1 1514.3)"/><ellipse cx="118.1" cy="1609.1" rx="12.8" ry="4.6" transform="rotate(40 118.1 1609.1)"/><ellipse cx="312.9" cy="1494.8" rx="9.3" ry="3.9" transform="rotate(-17 312.9 1494.8)"/><ellipse cx="181.5" cy="1673.5" rx="5.7" ry="5.3" transform="rotate(-57 181.5 1673.5)"/><ellipse cx="308.6" cy="1617.2" rx="12.5" ry="4.2" transform="rotate(-2 308.6 1617.2)"/><ellipse cx="370" cy="1596.7" rx="12.4" ry="3.7" transform="rotate(-55 370 1596.7)"/><ellipse cx="261.6" cy="1596.7" rx="9.8" ry="3.7" transform="rotate(-75 261.6 1596.7)"/><ellipse cx="376.8" cy="1540.2" rx="7.1" ry="5.6" transform="rotate(-61 376.8 1540.2)"/><ellipse cx="351.7" cy="1526.7" rx="8.8" ry="5.6" transform="rotate(-55 351.7 1526.7)"/><ellipse cx="243" cy="1665.5" rx="5.6" ry="5.8" transform="rotate(-36 243 1665.5)"/><ellipse cx="157.6" cy="1638.2" rx="11.7" ry="4.8" transform="rotate(-48 157.6 1638.2)"/><ellipse cx="162.1" cy="1699.9" rx="11.4" ry="5.7" transform="rotate(-28 162.1 1699.9)"/><ellipse cx="102" cy="1550.1" rx="6.3" ry="5.1" transform="rotate(-17 102 1550.1)"/><ellipse cx="263.8" cy="1584.7" rx="11.8" ry="4.4" transform="rotate(21 263.8 1584.7)"/><ellipse cx="236.1" cy="1664.9" rx="12.5" ry="5.9" transform="rotate(-76 236.1 1664.9)"/><ellipse cx="51.5" cy="1525.3" rx="6.1" ry="3.4" transform="rotate(-14 51.5 1525.3)"/><ellipse cx="270.3" cy="1467.1" rx="5.7" ry="4.5" transform="rotate(-35 270.3 1467.1)"/><ellipse cx="254.9" cy="1571.8" rx="10.2" ry="4.3" transform="rotate(-23 254.9 1571.8)"/><ellipse cx="128.2" cy="1570" rx="8.8" ry="3.7" transform="rotate(25 128.2 1570)"/><ellipse cx="171.2" cy="1607" rx="10.8" ry="5" transform="rotate(-24 171.2 1607)"/><ellipse cx="247.4" cy="1691.8" rx="6.3" ry="5.3" transform="rotate(-28 247.4 1691.8)"/><ellipse cx="160.3" cy="1632.9" rx="11.8" ry="4.1" transform="rotate(38 160.3 1632.9)"/><ellipse cx="273.4" cy="1468.4" rx="7" ry="3.7" transform="rotate(65 273.4 1468.4)"/><ellipse cx="338.1" cy="1661.5" rx="9" ry="4.2" transform="rotate(9 338.1 1661.5)"/><ellipse cx="191.7" cy="1681.6" rx="9.4" ry="6" transform="rotate(54 191.7 1681.6)"/><ellipse cx="298.4" cy="1497.5" rx="12.3" ry="5.9" transform="rotate(-45 298.4 1497.5)"/><ellipse cx="447" cy="1608.8" rx="12.7" ry="5.1" transform="rotate(-60 447 1608.8)"/><ellipse cx="218.4" cy="1706.7" rx="12.8" ry="4.1" transform="rotate(30 218.4 1706.7)"/><ellipse cx="197.5" cy="1702.2" rx="8.5" ry="4.9" transform="rotate(44 197.5 1702.2)"/><ellipse cx="286.3" cy="1542.3" rx="5.9" ry="3.9" transform="rotate(-17 286.3 1542.3)"/><ellipse cx="189.5" cy="1590.4" rx="12.7" ry="4.6" transform="rotate(68 189.5 1590.4)"/><ellipse cx="33.5" cy="1612.2" rx="9.8" ry="5.5" transform="rotate(-28 33.5 1612.2)"/><ellipse cx="111.7" cy="1511.4" rx="11.1" ry="5.5" transform="rotate(34 111.7 1511.4)"/><ellipse cx="448.9" cy="1586" rx="8.9" ry="5.6" transform="rotate(-27 448.9 1586)"/><ellipse cx="273.1" cy="1534.3" rx="7.3" ry="3.3" transform="rotate(-74 273.1 1534.3)"/><ellipse cx="75.8" cy="1650.3" rx="9.4" ry="5.9" transform="rotate(-46 75.8 1650.3)"/><ellipse cx="57.1" cy="1531.3" rx="11.4" ry="4.3" transform="rotate(11 57.1 1531.3)"/><ellipse cx="355.1" cy="1515.4" rx="6" ry="5.2" transform="rotate(9 355.1 1515.4)"/><ellipse cx="157.2" cy="1539.5" rx="11.3" ry="5.1" transform="rotate(46 157.2 1539.5)"/></g><path d="M260 1440.4C257.1 1438.8 246.3 1431.2 240.4 1429.4C234.5 1427.6 224.3 1427.4 220.8 1428.2C217.3 1428.9 217.1 1431.5 217.1 1434.3C217.1 1437 221.7 1443.6 220.8 1446.5C219.9 1449.5 213.6 1453.1 211 1453.9C208.4 1454.6 206.6 1452.2 203.7 1451.4C200.7 1450.7 195.5 1449 191.4 1449C187.4 1449 180.8 1450 176.7 1451.4C172.7 1452.9 166.3 1457.7 164.5 1458.8M164.5 1458.8C163 1459.3 158 1461 154.7 1462.4C151.4 1463.9 146.1 1466.6 142.4 1468.6C138.8 1470.6 133 1473.3 130.2 1475.9C127.4 1478.5 125.2 1482.4 124.1 1485.7C123 1489 122.7 1494.3 122.9 1498C123 1501.6 125.1 1506.5 125.3 1510.2C125.5 1513.9 123.9 1519.1 124.1 1522.4C124.3 1525.8 125.6 1530.6 126.5 1532.2C127.4 1533.9 129.8 1534.6 130.2 1533.5C130.6 1532.4 129.5 1527.8 129 1524.9C128.4 1522 126.9 1515.5 126.5 1513.9M203.7 1451.4C203.3 1454 201.2 1464.9 201.2 1468.6C201.2 1472.2 201.5 1474.8 203.7 1475.9C205.9 1477 212.2 1474.4 215.9 1475.9C219.6 1477.4 225.4 1483.5 228.2 1485.7C230.9 1487.9 233.9 1492.4 234.3 1490.6C234.7 1488.8 229.7 1477.9 230.6 1473.5C231.5 1469.1 236 1464.9 240.4 1461.2C244.8 1457.6 257.1 1450.8 260 1449M178 1466.1C176.3 1465.4 170.4 1460.5 166.9 1461.2C163.4 1462 156.7 1467.7 154.7 1471C152.7 1474.3 154.2 1479.6 153.5 1483.3C152.7 1486.9 150 1492.2 149.8 1495.5C149.6 1498.8 152.6 1503.5 152.2 1505.3C151.9 1507.1 149 1507.6 147.3 1507.8C145.7 1507.9 142 1505.4 141.2 1506.5C140.5 1507.6 141.3 1512.3 142.4 1515.1C143.6 1517.9 146.7 1522.3 148.6 1524.9C150.4 1527.5 152.9 1530.6 154.7 1532.2C156.5 1533.9 159.9 1535.4 160.8 1535.9M234.3 1490.6C232.4 1491.7 224.8 1495 222 1498C219.3 1500.9 217.4 1506.2 215.9 1510.2C214.4 1514.2 213.3 1520.9 212.2 1524.9C211.1 1528.9 209.1 1533.8 208.6 1537.1C208 1540.4 208.2 1544 208.6 1546.9C208.9 1549.9 210.8 1554 211 1556.7C211.2 1559.5 210.9 1563.1 209.8 1565.3C208.7 1567.5 205.3 1569 203.7 1571.4C202 1573.8 199.5 1579.8 198.8 1581.2M198.8 1478.4C196.8 1479.3 188.4 1483 185.3 1484.5C182.2 1486 179.4 1486.1 178 1488.2C176.5 1490.2 174.6 1495.4 175.5 1498C176.4 1500.5 182.1 1503.5 184.1 1505.3C186.1 1507.1 188.6 1508.7 189 1510.2C189.3 1511.7 188.4 1514.2 186.5 1515.1C184.7 1516 178.8 1515.2 176.7 1516.3C174.7 1517.4 173.2 1519.7 173.1 1522.4C172.9 1525.2 175 1531 175.5 1534.7C176.1 1538.4 176.2 1543.3 176.7 1546.9C177.3 1550.6 178.4 1555.5 179.2 1559.2C179.9 1562.9 181.1 1567.8 181.6 1571.4C182.2 1575.1 182.5 1579.4 182.9 1583.7C183.2 1588 183.9 1597.5 184.1 1600M93.5 1485.7C94.2 1487.2 96.5 1494.6 98.4 1495.5C100.2 1496.4 103.1 1492.2 105.7 1491.8C108.3 1491.5 113.3 1491.6 115.5 1493.1C117.7 1494.5 119.1 1499.1 120.4 1501.6C121.7 1504.2 123.5 1508.9 124.1 1510.2M72.7 1501.6C73.9 1500.9 78.5 1497.8 81.2 1496.7C84 1495.6 88.4 1494.1 91 1494.3C93.6 1494.5 97.1 1496.3 98.4 1498C99.7 1499.6 99.8 1503.1 99.6 1505.3C99.4 1507.5 97 1510.6 97.1 1512.7C97.3 1514.7 98.8 1518.6 100.8 1518.8C102.8 1519 108.4 1515.2 110.6 1513.9C112.8 1512.6 114.8 1510.8 115.5 1510.2M100.8 1518.8C100.1 1519.3 97.8 1522.6 95.9 1522.4C94.1 1522.3 90.8 1518.1 88.6 1517.6C86.4 1517 82.9 1517.7 81.2 1518.8C79.6 1519.9 77.2 1522.9 77.6 1524.9C77.9 1526.9 82.4 1529.9 83.7 1532.2C85 1534.6 85.4 1538.2 86.1 1540.8C86.9 1543.4 86.7 1547.2 88.6 1549.4C90.4 1551.6 95.8 1555.1 98.4 1555.5C100.9 1555.9 104.1 1553.5 105.7 1551.8C107.4 1550.2 107.6 1545.2 109.4 1544.5C111.2 1543.8 115.2 1545.8 118 1546.9C120.7 1548 125.2 1551.3 127.8 1551.8C130.3 1552.4 132.9 1551.7 135.1 1550.6C137.3 1549.5 140.2 1546.3 142.4 1544.5C144.7 1542.7 147 1539.7 149.8 1538.4C152.6 1537.1 159.2 1536.3 160.8 1535.9M53.1 1538.4C53.2 1537.4 53.2 1533.9 54.3 1532.2C55.4 1530.6 58.2 1528.3 60.4 1527.3C62.6 1526.4 66.8 1525.9 69 1526.1C71.2 1526.3 75.1 1526.9 75.1 1528.6C75.1 1530.2 70.8 1534.8 69 1537.1C67.1 1539.5 64.3 1542.1 62.9 1544.5C61.4 1546.9 59.6 1550.3 59.2 1553.1C58.8 1555.8 61 1560.1 60.4 1562.9C59.9 1565.6 57.3 1569.2 55.5 1571.4C53.7 1573.6 49.8 1575.2 48.2 1577.6C46.5 1579.9 45.4 1584 44.5 1587.3C43.6 1590.7 42.4 1598.1 42 1600M105.7 1551.8C105.5 1553.1 106 1558.4 104.5 1560.4C103 1562.4 98.7 1564.4 95.9 1565.3C93.2 1566.2 88 1565.2 86.1 1566.5C84.3 1567.8 83.3 1571.3 83.7 1573.9C84 1576.4 87.1 1581.7 88.6 1583.7C90 1585.7 90.2 1587 93.5 1587.3C96.8 1587.7 106.4 1586.3 110.6 1586.1C114.8 1585.9 120.3 1587.2 121.6 1586.1C122.9 1585 120.1 1581.3 119.2 1578.8C118.3 1576.2 115.9 1571.6 115.5 1569C115.1 1566.4 115.4 1563.8 116.7 1561.6C118 1559.4 123 1555.4 124.1 1554.3M160.8 1535.9C162.1 1536.8 167.4 1539.8 169.4 1542C171.4 1544.2 173.9 1548 174.3 1550.6C174.7 1553.2 172.4 1556.4 171.8 1559.2C171.3 1561.9 170.8 1567.5 170.6 1569M147.3 1569C147.2 1570.4 146.1 1575.8 146.1 1578.8C146.1 1581.7 147 1585.4 147.3 1588.6C147.7 1591.7 148.4 1598.3 148.6 1600M152.2 1569C152.4 1570.4 153.5 1575.8 153.5 1578.8C153.5 1581.7 152.4 1587.1 152.2 1588.6M75.1 1591C76.4 1590.5 80.9 1587.9 83.7 1587.3C86.4 1586.8 92 1587.3 93.5 1587.3M37.1 1562.9C37.9 1564.1 40.4 1569.2 42 1571.4C43.7 1573.6 47.2 1576.6 48.2 1577.6M269.4 1420.8C268.5 1422.1 264.6 1426.3 263.3 1429.4C262 1432.5 261.9 1439.1 260.8 1441.6C259.7 1444.2 257.9 1444.7 255.9 1446.5C253.9 1448.4 249.7 1451.7 247.3 1453.9C245 1456.1 241.1 1460.1 240 1461.2M263.3 1429.4C265.3 1429.9 272.9 1432.1 276.7 1433.1C280.6 1434 285.9 1434.4 289 1435.5C292.1 1436.6 295.7 1438 297.6 1440.4C299.4 1442.8 300.9 1448.3 301.2 1451.4C301.6 1454.6 300.6 1458.3 300 1461.2C299.4 1464.2 299.2 1469.2 297.6 1471C295.9 1472.9 291.7 1472.9 289 1473.5C286.2 1474 280.7 1474.5 279.2 1474.7M240 1428.2C241.5 1428.5 247.2 1429 249.8 1430.6C252.4 1432.3 255.5 1437.2 257.1 1439.2C258.8 1441.2 260.3 1443.3 260.8 1444.1M303.7 1415.9C303.7 1418.1 303.9 1426.9 303.7 1430.6C303.5 1434.3 301.7 1438.6 302.4 1440.4C303.2 1442.2 306.9 1442.7 308.6 1442.9C310.2 1443 312.6 1442.9 313.5 1441.6C314.4 1440.3 312.9 1436.1 314.7 1434.3C316.5 1432.4 322.6 1429.4 325.7 1429.4C328.8 1429.4 332.2 1432.6 335.5 1434.3C338.8 1435.9 344.6 1439.1 347.8 1440.4C350.9 1441.7 355 1442.5 356.3 1442.9M308.6 1442.9C308.2 1444.5 306.9 1450.8 306.1 1453.9C305.4 1457 304.6 1461.1 303.7 1463.7C302.8 1466.2 300.9 1469.2 300 1471C299.1 1472.9 299.2 1473.9 297.6 1475.9C295.9 1477.9 291.2 1481.9 289 1484.5C286.8 1487.1 284.3 1490.9 282.9 1493.1C281.4 1495.3 279.6 1497 279.2 1499.2C278.8 1501.4 280.2 1505 280.4 1507.8C280.6 1510.5 279.7 1515 280.4 1517.6C281.1 1520.1 285.1 1522.7 285.3 1524.9C285.5 1527.1 282.4 1529.7 281.6 1532.2C280.9 1534.8 280.4 1539.1 280.4 1542C280.4 1545 281.4 1550.4 281.6 1551.8M297.6 1475.9C298.8 1475 303 1471.2 306.1 1469.8C309.2 1468.4 314.7 1466.9 318.4 1466.7C322 1466.6 327.9 1467.7 330.6 1468.6C333.4 1469.4 334.5 1472.4 336.7 1472.2C338.9 1472.1 342.2 1468.3 345.3 1467.3C348.4 1466.4 354.2 1465.8 357.6 1466.1C360.9 1466.5 364.8 1468.7 367.3 1469.8C369.9 1470.9 372.5 1472.4 374.7 1473.5C376.9 1474.6 379.5 1476.8 382 1477.1C384.6 1477.5 389.6 1475.7 391.8 1475.9C394 1476.1 396 1478 396.7 1478.4M318.4 1475.9C319.1 1477.4 322.2 1482.8 323.3 1485.7C324.4 1488.7 324.6 1492.2 325.7 1495.5C326.8 1498.8 329.5 1504.4 330.6 1507.8C331.7 1511.1 332.5 1514.8 333.1 1517.6C333.6 1520.3 334.3 1523.6 334.3 1526.1C334.3 1528.7 332.5 1532.5 333.1 1534.7C333.6 1536.9 336.5 1539 338 1540.8C339.4 1542.7 342.1 1546 342.9 1546.9M300 1485.7C300.9 1486.1 304.8 1486.3 306.1 1488.2C307.4 1490 308.2 1495.4 308.6 1498C308.9 1500.5 307.5 1503.5 308.6 1505.3C309.7 1507.1 314.3 1508.4 315.9 1510.2C317.6 1512 319 1516.4 319.6 1517.6M287.8 1501.6C287.9 1503.3 289 1509.5 289 1512.7C289 1515.8 287.8 1519.3 287.8 1522.4C287.8 1525.6 288.8 1530.2 289 1533.5C289.2 1536.8 288.4 1542.1 289 1544.5C289.5 1546.9 291.2 1548.8 292.7 1549.4C294.1 1549.9 297.5 1549.4 298.8 1548.2C300.1 1546.9 300.9 1542.8 301.2 1540.8C301.6 1538.8 301.8 1535.8 301.2 1534.7C300.7 1533.6 298.1 1533.7 297.6 1533.5M350.2 1498C350.9 1497.2 353.3 1494.2 355.1 1493.1C356.9 1492 359.5 1490.8 362.4 1490.6C365.4 1490.4 372.3 1491.1 374.7 1491.8C377.1 1492.6 376.9 1494.6 378.4 1495.5C379.8 1496.4 382.5 1497.6 384.5 1498C386.5 1498.3 390 1497 391.8 1498C393.7 1498.9 396.2 1502.2 396.7 1504.1C397.3 1505.9 396.1 1508.4 395.5 1510.2C395 1512 393.4 1515.4 393.1 1516.3M350.2 1498C350.4 1499.4 350.7 1505 351.4 1507.8C352.2 1510.5 354.7 1513.4 355.1 1516.3C355.5 1519.3 354.2 1524.2 353.9 1527.3C353.5 1530.5 353.6 1534.2 352.7 1537.1C351.7 1540.1 348.9 1543.8 347.8 1546.9C346.7 1550.1 346.4 1554.8 345.3 1558C344.2 1561.1 341.1 1566.3 340.4 1567.8M352.7 1504.1C353.8 1503.3 357.4 1499.9 360 1499.2C362.6 1498.4 367 1499.2 369.8 1499.2C372.6 1499.2 377.1 1499.2 378.4 1499.2M378.4 1512.7C378.6 1514.1 379.2 1519.5 379.6 1522.4C380 1525.4 379.7 1529.9 380.8 1532.2C381.9 1534.6 384.9 1538.2 386.9 1538.4C389 1538.6 391.9 1534.9 394.3 1533.5C396.7 1532 401.6 1529.3 402.9 1528.6M393.1 1516.3C394 1516 396.8 1513.9 399.2 1513.9C401.6 1513.9 406.4 1515 409 1516.3C411.6 1517.6 414.7 1520.1 416.3 1522.4C418 1524.8 419.1 1528.9 420 1532.2C420.9 1535.6 421.9 1540.8 422.4 1544.5C423 1548.2 423.5 1553.6 423.7 1556.7C423.9 1559.9 423.7 1564 423.7 1565.3M362.4 1554.3C363.9 1553.7 369.5 1551.3 372.2 1550.6C375 1549.9 378.6 1549.6 380.8 1549.4C383 1549.2 385.3 1548.5 386.9 1549.4C388.6 1550.3 390.4 1553.5 391.8 1555.5C393.3 1557.5 394.5 1560.7 396.7 1562.9C398.9 1565.1 403.6 1568.2 406.5 1570.2C409.5 1572.2 413.8 1574.7 416.3 1576.3C418.9 1578 421.5 1581.6 423.7 1581.2C425.9 1580.9 429.9 1577.2 431 1573.9C432.1 1570.6 431.4 1563.2 431 1559.2C430.7 1555.1 429.7 1549 428.6 1546.9C427.5 1544.9 424.4 1545.9 423.7 1545.7M240 1510.2C241.1 1509.8 245.1 1507.9 247.3 1507.8C249.6 1507.6 252.9 1509.7 254.7 1509C256.5 1508.2 258.1 1505.1 259.6 1502.9C261.1 1500.7 263 1496.5 264.5 1494.3C266 1492.1 267.2 1489.8 269.4 1488.2C271.6 1486.5 277.7 1484 279.2 1483.3M240 1528.6C240.7 1529.5 243.6 1532.3 244.9 1534.7C246.2 1537.1 247.5 1541.6 248.6 1544.5C249.7 1547.4 251 1551.5 252.2 1554.3C253.5 1557 255.7 1560.3 257.1 1562.9C258.6 1565.4 260.4 1570.5 262 1571.4C263.7 1572.3 266 1570.3 268.2 1569C270.4 1567.7 274.7 1564.5 276.7 1562.9C278.8 1561.2 280.9 1558.7 281.6 1558M240 1583.7C241.8 1582.6 248.6 1578.2 252.2 1576.3C255.9 1574.5 260.8 1573.1 264.5 1571.4C268.2 1569.8 273.1 1567.1 276.7 1565.3C280.4 1563.5 285.3 1560.5 289 1559.2C292.7 1557.9 298.3 1557.1 301.2 1556.7C304.2 1556.4 307.5 1556.7 308.6 1556.7M301.2 1600C303.1 1598.6 309.8 1593.6 313.5 1591C317.1 1588.4 322 1584.7 325.7 1582.4C329.4 1580.2 334.7 1578.3 338 1576.3C341.3 1574.3 345.2 1571.6 347.8 1569C350.3 1566.4 352.9 1561.4 355.1 1559.2C357.3 1557 361.3 1555 362.4 1554.3M338 1595.9C339.8 1594.6 346.5 1589 350.2 1587.3C353.9 1585.7 359.1 1585.1 362.4 1584.9C365.8 1584.7 370 1585.2 372.2 1586.1C374.4 1587 376.4 1590.3 377.1 1591M367.3 1559.2C367.3 1560.7 368.1 1566.4 367.3 1569C366.6 1571.6 363.2 1575.2 362.4 1576.3M423.7 1581.2C424.8 1582 429.2 1584.7 431 1586.1C432.9 1587.6 434.8 1588.9 435.9 1591C437 1593.1 438 1598.6 438.4 1600M404.1 1488.2C404.8 1490 407.5 1497.1 409 1500.4C410.4 1503.7 412.4 1506.9 413.9 1510.2C415.3 1513.5 417.7 1519.1 418.8 1522.4C419.9 1525.8 420.9 1530.8 421.2 1532.2M247.3 1453.9C248.4 1456.1 251.8 1466.4 254.7 1468.6C257.6 1470.8 263.3 1467.7 266.9 1468.6C270.6 1469.5 277.3 1473.8 279.2 1474.7M139.4 1677.6C139.7 1676.1 140 1670.9 141.2 1667.8C142.4 1664.6 145.5 1660 147.3 1656.7C149.2 1653.4 151.8 1648.7 153.5 1645.7C155.1 1642.8 156.9 1639.5 158.4 1637.1C159.8 1634.8 161.6 1631.8 163.3 1629.8C164.9 1627.8 167 1625.3 169.4 1623.7C171.8 1622 175.9 1620.2 179.2 1618.8C182.5 1617.3 187.8 1615.3 191.4 1613.9C195.1 1612.4 200 1611 203.7 1609C207.3 1607 212.2 1602.6 215.9 1600.4C219.6 1598.2 224.5 1596.3 228.2 1594.3C231.8 1592.3 236.7 1589 240.4 1586.9C244.1 1584.9 249.7 1582.3 252.7 1580.8C255.6 1579.3 258.9 1577.7 260 1577.1M191.4 1638.4C192.9 1638.2 198.3 1637.9 201.2 1637.1C204.2 1636.4 208.1 1634.4 211 1633.5C214 1632.6 217.9 1631.6 220.8 1631C223.8 1630.5 227.7 1630.5 230.6 1629.8C233.6 1629.1 237.1 1627.4 240.4 1626.1C243.7 1624.8 249.7 1622.3 252.7 1621.2C255.6 1620.1 258.9 1619.1 260 1618.8M173.1 1672.7C173.2 1671.9 173.6 1669.4 174.3 1667.8C175 1666.1 176.5 1663.5 178 1661.6C179.4 1659.8 182.1 1657.5 184.1 1655.5C186.1 1653.5 189.2 1650.2 191.4 1648.2C193.6 1646.1 196.2 1643.7 198.8 1642C201.3 1640.4 207.1 1637.9 208.6 1637.1M173.1 1672.7C173.2 1673.8 173.9 1677.8 174.3 1680C174.7 1682.2 175 1685.1 175.5 1687.3C176.1 1689.6 175.9 1693.8 178 1694.7C180 1695.6 186.2 1692.9 189 1693.5C191.7 1694 193.8 1697.4 196.3 1698.4C198.9 1699.3 203.6 1700 206.1 1699.6C208.7 1699.2 210.9 1696.8 213.5 1695.9C216 1695 221.1 1693.7 223.3 1693.5C225.5 1693.3 227.4 1694.5 228.2 1694.7M209.8 1677.6C211.1 1677 215.6 1674.8 218.4 1673.9C221.1 1673 225.2 1672.2 228.2 1671.4C231.1 1670.7 235 1669.5 238 1669C240.9 1668.4 244.4 1668.1 247.8 1667.8C251.1 1667.4 258.2 1666.7 260 1666.5M158.4 1702C159.3 1702.8 162.1 1705.8 164.5 1706.9C166.9 1708 171.5 1709.2 174.3 1709.4C177 1709.6 180.3 1709.4 182.9 1708.2C185.4 1706.9 189.4 1702.3 191.4 1700.8C193.4 1699.3 195.6 1698.7 196.3 1698.4M191.4 1710.6C192 1711.7 193.6 1715.9 195.1 1718C196.6 1720 199.6 1722.4 201.2 1724.1C202.9 1725.7 205.4 1728.2 206.1 1729M164.5 1687.3C165.2 1686.6 167.9 1683.4 169.4 1682.4C170.9 1681.5 173.6 1681.4 174.3 1681.2M75.1 1588.2C76.4 1587.6 80.9 1584.7 83.7 1584.5C86.4 1584.3 90.2 1586.7 93.5 1586.9C96.8 1587.2 102 1586.4 105.7 1586.3C109.4 1586.2 115.4 1586.8 118 1586.3C120.5 1585.9 122.5 1584.8 122.9 1583.3C123.2 1581.7 121.3 1577.9 120.4 1575.9C119.5 1573.9 117.1 1572.2 116.7 1569.8C116.4 1567.4 117.8 1561.5 118 1560M75.1 1588.2C75.1 1589.4 74.6 1594.3 75.1 1596.7C75.7 1599.1 77.7 1601.5 78.8 1604.1C79.9 1606.7 81.3 1610.9 82.4 1613.9C83.6 1616.8 84.8 1620.9 86.1 1623.7C87.4 1626.4 89.2 1630.4 91 1632.2C92.9 1634.1 96.2 1635.9 98.4 1635.9C100.6 1635.9 103.1 1633.2 105.7 1632.2C108.3 1631.3 112.6 1630.3 115.5 1629.8C118.4 1629.2 122.6 1629.1 125.3 1628.6C128.1 1628 133.1 1627.2 133.9 1626.1C134.6 1625 131.9 1622.5 130.2 1621.2C128.6 1619.9 125.4 1617.7 122.9 1617.6C120.3 1617.4 115.4 1619.6 113.1 1620C110.7 1620.4 108.4 1621.1 106.9 1620C105.5 1618.9 102.7 1613.8 103.3 1612.7C103.8 1611.6 108 1612.3 110.6 1612.7C113.2 1613 117.5 1614.6 120.4 1615.1C123.3 1615.7 126.9 1616.1 130.2 1616.3C133.5 1616.5 139.5 1616.1 142.4 1616.3C145.4 1616.5 148.3 1616.3 149.8 1617.6C151.3 1618.8 151.5 1622.5 152.2 1624.9C153 1627.3 153.6 1632 154.7 1633.5C155.8 1634.9 158.9 1634.5 159.6 1634.7M53.1 1606.5C53.2 1605.2 53 1599.8 54.3 1598C55.6 1596.1 59.4 1594.5 61.6 1594.3C63.8 1594.1 67 1595.3 69 1596.7C71 1598.2 74.2 1603 75.1 1604.1M53.1 1606.5C53.2 1607.8 53.6 1612.3 54.3 1615.1C55 1617.9 56.3 1622.3 58 1624.9C59.6 1627.5 63.5 1630 65.3 1632.2C67.1 1634.4 68.7 1637.6 70.2 1639.6C71.7 1641.6 73.1 1643.5 75.1 1645.7C77.1 1647.9 80.9 1652.4 83.7 1654.3C86.4 1656.1 90.2 1657.6 93.5 1658C96.8 1658.3 102 1656.7 105.7 1656.7C109.4 1656.7 114.7 1658.1 118 1658C121.3 1657.8 125.2 1656.6 127.8 1655.5C130.3 1654.4 132.9 1651 135.1 1650.6C137.3 1650.2 141.3 1652.7 142.4 1653.1M44.5 1609C44.1 1610.4 42.4 1615.8 42 1618.8C41.7 1621.7 42.8 1626.4 42 1628.6C41.3 1630.8 37.9 1632.7 37.1 1633.5M35.9 1649.4C37.2 1649 41.7 1647.1 44.5 1646.9C47.2 1646.8 51.3 1647.6 54.3 1648.2C57.2 1648.7 61 1649.9 64.1 1650.6C67.2 1651.3 72.2 1652.5 75.1 1653.1C78 1653.6 82.4 1654.1 83.7 1654.3M118 1658C119.1 1658.7 123.1 1661.8 125.3 1662.9C127.5 1664 130.3 1664.6 132.7 1665.3C135 1666 139.9 1667.4 141.2 1667.8M110.6 1643.3C111.7 1642.5 115.6 1640 118 1638.4C120.3 1636.7 124.1 1634.1 126.5 1632.2C128.9 1630.4 132.8 1627 133.9 1626.1M48.2 1575.9C47.2 1577.8 42.8 1585 42 1588.2C41.3 1591.3 41.6 1594.9 43.3 1596.7C44.9 1598.6 51.6 1599.9 53.1 1600.4M146.1 1569.8C146.1 1571.6 145.8 1578.7 146.1 1582C146.5 1585.3 148 1588.9 148.6 1591.8C149.1 1594.8 148.3 1598.7 149.8 1601.6C151.3 1604.6 156.3 1609 158.4 1611.4C160.4 1613.8 162.5 1616.6 163.3 1617.6M171.8 1572.2C171.7 1574.1 170.6 1580.8 170.6 1584.5C170.6 1588.2 171.7 1593.2 171.8 1596.7C172 1600.2 171.3 1605.2 171.8 1607.8C172.4 1610.3 175 1613 175.5 1613.9M179.2 1560C179.4 1561.8 179.9 1568.9 180.4 1572.2C181 1575.6 182.5 1580.6 182.9 1582M211 1563.7C209.9 1564.6 205.3 1567.4 203.7 1569.8C202 1572.2 200.7 1576.8 200 1579.6C199.3 1582.3 199 1586.9 198.8 1588.2M88.6 1560C87.8 1561.1 84 1564.8 83.7 1567.3C83.3 1569.9 85 1574.4 86.1 1577.1C87.2 1579.9 90.3 1584.4 91 1585.7M40.8 1589.4C39.7 1587.2 35.1 1578 33.5 1574.7C31.8 1571.4 30.3 1568.4 29.8 1567.3M240 1575.9C241.8 1575.4 248.6 1573.7 252.2 1572.2C255.9 1570.8 261.2 1568 264.5 1566.1C267.8 1564.3 272.8 1560.9 274.3 1560M240 1617.6C241.8 1617 248.6 1615.2 252.2 1613.9C255.9 1612.6 260.8 1610.6 264.5 1609C268.2 1607.3 273.1 1604.7 276.7 1602.9C280.4 1601 285.3 1598.2 289 1596.7C292.7 1595.3 297.6 1594.5 301.2 1593.1C304.9 1591.6 309.8 1588.6 313.5 1586.9C317.1 1585.3 322.4 1583 325.7 1582C329 1581.1 334 1581 335.5 1580.8M293.9 1617.6C295.3 1617.9 300.7 1619.3 303.7 1620C306.6 1620.7 310.5 1621.7 313.5 1622.4C316.4 1623.2 320.3 1624.3 323.3 1624.9C326.2 1625.5 329.8 1626.6 333.1 1626.7C336.4 1626.9 342 1626.6 345.3 1626.1C348.6 1625.7 352.2 1624.4 355.1 1623.7C358 1622.9 362 1622.5 364.9 1621.2C367.8 1619.9 372.3 1617.3 374.7 1615.1C377.1 1612.9 379.7 1609.1 380.8 1606.5C381.9 1604 382.6 1600.3 382 1598C381.5 1595.6 379 1592.3 377.1 1590.6C375.3 1589 372.4 1587.6 369.8 1586.9C367.2 1586.3 362.6 1586.3 360 1586.3C357.4 1586.3 354.9 1586.1 352.7 1586.9C350.4 1587.8 347.3 1590.4 345.3 1591.8C343.3 1593.3 339.7 1595.6 339.2 1596.7C338.6 1597.8 340 1599.6 341.6 1599.2C343.3 1598.8 347.8 1595.8 350.2 1594.3C352.6 1592.8 356.4 1590.1 357.6 1589.4M364.9 1621.2C365.3 1622.7 367.2 1628.3 367.3 1631C367.5 1633.8 367.2 1637 366.1 1639.6C365 1642.2 362 1645.6 360 1648.2C358 1650.7 354.9 1654.3 352.7 1656.7C350.4 1659.1 346.4 1663 345.3 1664.1M293.9 1639.6C295 1639.8 299 1639.9 301.2 1640.8C303.4 1641.7 306.4 1644.4 308.6 1645.7C310.8 1647 314.1 1649 315.9 1649.4C317.8 1649.8 319.3 1649.1 320.8 1648.2C322.3 1647.2 325 1644 325.7 1643.3M315.9 1649.4C316.3 1650.7 317.8 1655.6 318.4 1658C318.9 1660.3 318.5 1663.5 319.6 1665.3C320.7 1667.1 324.8 1669.5 325.7 1670.2M293.9 1639.6C293.9 1640.9 294.6 1646.1 293.9 1648.2C293.1 1650.2 291 1651.6 289 1653.1C287 1654.5 283 1656.7 280.4 1658C277.8 1659.2 274.6 1660.7 271.8 1661.6C269.1 1662.6 265 1663.3 262 1664.1C259.1 1664.8 255.6 1666 252.2 1666.5C248.9 1667.1 241.8 1667.6 240 1667.8M258.4 1618.8C258.6 1620.2 259.2 1625.6 259.6 1628.6C260 1631.5 260.6 1635.8 260.8 1638.4C261 1640.9 260.8 1644.6 260.8 1645.7M382 1598C383.5 1598.7 388.9 1601.8 391.8 1602.9C394.8 1604 398.7 1604.9 401.6 1605.3C404.6 1605.7 408.1 1605.5 411.4 1605.3C414.7 1605.1 420 1604.3 423.7 1604.1C427.3 1603.9 432.6 1603.3 435.9 1604.1C439.2 1604.8 442.8 1607.5 445.7 1609C448.7 1610.4 454 1613.1 455.5 1613.9M426.1 1604.1C426.1 1605.6 426.7 1610.9 426.1 1613.9C425.6 1616.8 423.4 1621.5 422.4 1623.7C421.5 1625.9 420.4 1627.8 420 1628.6M390.6 1621.2C390.4 1622.7 389.9 1628.1 389.4 1631C388.8 1634 386.8 1638.2 386.9 1640.8C387.1 1643.4 389.5 1646 390.6 1648.2C391.7 1650.4 392.6 1653.7 394.3 1655.5C395.9 1657.3 400.5 1659.7 401.6 1660.4M395.5 1560C396.6 1561.1 400.5 1565.1 402.9 1567.3C405.2 1569.6 408.7 1572.7 411.4 1574.7C414.2 1576.7 418.3 1579.5 421.2 1580.8C424.2 1582.1 428.8 1581.8 431 1583.3C433.2 1584.7 435 1588 435.9 1590.6C436.8 1593.2 437 1598.9 437.1 1600.4M367.3 1560C367 1561.8 366.4 1568.9 364.9 1572.2C363.4 1575.6 358.7 1580.6 357.6 1582M429.8 1560C429.2 1561.5 427.4 1566.7 426.1 1569.8C424.8 1572.9 422 1579.2 421.2 1580.8M426.1 1643.3C426.5 1644.7 428.2 1650.1 428.6 1653.1C428.9 1656 428.6 1661.4 428.6 1662.9M240 1628.6C241.5 1627.8 247 1625.1 249.8 1623.7C252.6 1622.2 256.2 1619.7 258.4 1618.8C260.6 1617.9 263.6 1617.7 264.5 1617.6M240 1611.4C241.1 1611.1 245 1609.9 247.3 1609C249.7 1608.1 253.3 1606.4 255.9 1605.3C258.5 1604.2 261.9 1602.9 264.5 1601.6C267.1 1600.3 270.5 1597.8 273.1 1596.7C275.6 1595.6 280.3 1594.7 281.6 1594.3" fill="none" stroke="#555" stroke-width="0.6" stroke-opacity="0.8" stroke-linecap="round" stroke-linejoin="round" filter="url(#sulH)"/><path d="M240 1415.3C242.8 1416 249.8 1418.7 254.7 1419.6C259.6 1420.5 265.1 1422 269.4 1420.8C273.7 1419.6 276.7 1413.6 280.4 1412.2C284.1 1410.9 287.6 1412.2 291.4 1412.9C295.3 1413.5 299.6 1414.8 303.7 1415.9C307.8 1417 311.6 1418.2 315.9 1419.6C320.2 1421 325.1 1422.7 329.4 1424.5C333.7 1426.3 337.8 1428.6 341.6 1430.6C345.5 1432.7 350 1434.7 352.7 1436.7C355.3 1438.8 355.1 1440.8 357.6 1442.9C360 1444.9 364.1 1446.9 367.3 1449C370.6 1451 374.3 1452.9 377.1 1455.1C380 1457.3 382 1459.6 384.5 1462.4C386.9 1465.3 389.6 1469.2 391.8 1472.2C394.1 1475.3 395.9 1478.2 398 1480.8C400 1483.5 401.8 1485.5 404.1 1488.2C406.3 1490.8 409.4 1493.5 411.4 1496.7C413.5 1500 414.3 1504.7 416.3 1507.8C418.4 1510.8 421.6 1512.2 423.7 1515.1C425.7 1518 426.9 1521.6 428.6 1524.9C430.2 1528.2 431.4 1531.2 433.5 1534.7C435.5 1538.2 438.8 1542.4 440.8 1545.7C442.9 1549 444.1 1551 445.7 1554.3C447.3 1557.6 449.4 1561.8 450.6 1565.3C451.8 1568.8 452 1571.4 453.1 1575.1C454.1 1578.8 455.7 1583.2 456.7 1587.3C457.8 1591.5 458.6 1596.4 459.2 1600C459.8 1603.6 460.6 1605.4 460.4 1609C460.2 1612.5 458.8 1617.1 458 1621.2C457.1 1625.3 456.7 1629.4 455.5 1633.5C454.3 1637.6 452.7 1641.8 450.6 1645.7C448.6 1649.6 445.7 1653.5 443.3 1656.7C440.8 1660 438.4 1664.1 435.9 1665.3C433.5 1666.5 431 1664.5 428.6 1664.1C426.1 1663.7 424.1 1662.8 421.2 1662.9C418.4 1663 414.7 1665.1 411.4 1664.7C408.2 1664.3 404.9 1661.7 401.6 1660.4C398.4 1659.1 395.5 1657.1 391.8 1656.7C388.2 1656.3 383.7 1657.7 379.6 1658C375.5 1658.3 371.4 1658.4 367.3 1658.6C363.3 1658.8 358.8 1658.3 355.1 1659.2C351.4 1660.1 348.6 1662.4 345.3 1664.1C342 1665.7 338.8 1668 335.5 1669C332.2 1670 329 1669.4 325.7 1670.2C322.4 1671 319.2 1672.9 315.9 1673.9C312.7 1674.9 309.8 1675.7 306.1 1676.3C302.4 1676.9 298 1676.9 293.9 1677.6C289.8 1678.2 285.7 1679 281.6 1680C277.6 1681 273.1 1682.4 269.4 1683.7C265.7 1684.9 262.9 1685.5 259.6 1687.3C256.3 1689.2 253.1 1691.8 249.8 1694.7C246.5 1697.6 242.8 1700.6 240 1704.5C237.2 1708.4 235.4 1714.1 233.1 1718C230.7 1721.8 228.2 1725.6 225.7 1727.8C223.3 1729.9 221.2 1730.4 218.4 1730.8C215.5 1731.2 212 1730.5 208.6 1730.2C205.1 1729.9 201.2 1729.6 197.6 1729C193.9 1728.4 190 1727.4 186.5 1726.5C183.1 1725.6 180 1724.5 176.7 1723.5C173.5 1722.4 170 1721.5 166.9 1720.4C163.9 1719.3 161 1718.2 158.4 1716.7C155.7 1715.3 153.3 1713.7 151 1711.8C148.8 1710 146.5 1707.8 144.9 1705.7C143.3 1703.7 142.2 1701.8 141.2 1699.6C140.2 1697.3 139.3 1694.7 138.8 1692.2C138.3 1689.8 138.1 1687.3 138.2 1684.9C138.3 1682.4 140.1 1678.7 139.4 1677.6C138.7 1676.4 136.2 1677.6 133.9 1678.2C131.5 1678.8 128.2 1680.1 125.3 1681.2C122.4 1682.3 119.6 1683.7 116.7 1684.9C113.9 1686.1 110.8 1688.5 108.2 1688.6C105.5 1688.7 103.3 1686.5 100.8 1685.5C98.4 1684.5 95.9 1683.7 93.5 1682.4C91 1681.2 89.2 1679.2 86.1 1678.2C83.1 1677.1 78.8 1676.7 75.1 1676.3C71.4 1675.9 67.1 1676.7 64.1 1675.7C61 1674.7 59.4 1671.9 56.7 1670.2C54.1 1668.5 50.8 1667.3 48.2 1665.3C45.5 1663.3 42.9 1660.6 40.8 1658C38.8 1655.3 37.1 1652.4 35.9 1649.4C34.7 1646.3 33.3 1642.2 33.5 1639.6C33.7 1636.9 37.3 1634.9 37.1 1633.5C36.9 1632 33.7 1632.7 32.2 1631C30.8 1629.4 29.8 1626.7 28.6 1623.7C27.3 1620.6 25.6 1616.5 24.9 1612.7C24.2 1608.8 24.3 1604.7 24.3 1600.4C24.3 1596.1 24.9 1591.6 24.9 1586.9C24.9 1582.2 24 1576.7 24.3 1572.2C24.6 1567.8 25.6 1562.2 26.7 1560C27.9 1557.8 29.1 1561.4 31 1559.2C33 1557 36.5 1551 38.4 1546.9C40.2 1542.9 39.8 1538.8 42 1534.7C44.3 1530.6 48.8 1526.1 51.8 1522.4C54.9 1518.8 56.9 1516.3 60.4 1512.7C63.9 1509 69.4 1504.5 72.7 1500.4C75.9 1496.3 77.3 1491.4 80 1488.2C82.7 1484.9 85.1 1483.9 88.6 1480.8C92 1477.8 96.7 1471.9 100.8 1469.8C104.9 1467.7 108.6 1470.4 113.1 1468C117.6 1465.5 122.9 1458.3 127.8 1455.1C132.7 1451.9 138 1451 142.4 1449C146.9 1446.9 150.2 1445.2 154.7 1442.9C159.2 1440.5 164.9 1436.1 169.4 1434.9C173.9 1433.7 179.4 1436.2 181.6 1435.5C183.9 1434.8 181.2 1432.7 182.9 1430.6C184.5 1428.6 185.1 1424.5 191.4 1423.3C197.8 1422 214.7 1424.3 220.8 1423.3C226.9 1422.2 225.3 1418.4 228.2 1417.1C231 1415.9 236 1416 238 1415.7C239.9 1415.4 237.2 1414.7 240 1415.3Z" fill="none" stroke="#7d7d7d" stroke-width="1.6" filter="url(#edgH)"/></g></g>
<g><g clip-path="url(#rhc)"><rect x="22.9" y="1751.5" width="439.5" height="327.1" fill="#fafafa"/><path d="M350.2 2009.2C354.1 2006.6 367.3 2006.8 374.7 2005.5C382 2004.2 391.8 2002.7 399.2 2000.6C406.5 1998.6 417.2 1994.8 423.7 1992.1C430.1 1989.3 438 1983 442 1982.3C446.1 1981.5 451.2 1983.5 450.6 1987.2C450.1 1990.8 443.5 2002 438.4 2006.8C433.2 2011.5 423.3 2016.1 416.3 2019C409.3 2021.9 399.2 2025.2 391.8 2026.3C384.5 2027.4 373.8 2026.9 367.3 2026.3C360.9 2025.8 351.6 2025.2 349 2022.7C346.4 2020.1 346.3 2011.8 350.2 2009.2Z" fill="#bdbdbd" opacity="0.22" filter="url(#bl3)"/><g fill="#ffffff" opacity="0.9" filter="url(#bl2)"><ellipse cx="388.8" cy="1991.2" rx="10.4" ry="3.9" transform="rotate(75 388.8 1991.2)"/><ellipse cx="303" cy="2013.1" rx="11.9" ry="4.5" transform="rotate(15 303 2013.1)"/><ellipse cx="261.9" cy="1897.2" rx="7.1" ry="3.1" transform="rotate(-73 261.9 1897.2)"/><ellipse cx="420.2" cy="1890.3" rx="12.1" ry="3.5" transform="rotate(-35 420.2 1890.3)"/><ellipse cx="166.5" cy="1797.6" rx="9.1" ry="6" transform="rotate(63 166.5 1797.6)"/><ellipse cx="371.9" cy="1990.7" rx="12.3" ry="5.3" transform="rotate(71 371.9 1990.7)"/><ellipse cx="353.3" cy="1984.5" rx="8.7" ry="4.6" transform="rotate(45 353.3 1984.5)"/><ellipse cx="146.4" cy="1914.4" rx="9.1" ry="5.4" transform="rotate(36 146.4 1914.4)"/><ellipse cx="416.7" cy="1902.4" rx="9.5" ry="5.8" transform="rotate(36 416.7 1902.4)"/><ellipse cx="236.8" cy="1825.1" rx="7.6" ry="5.1" transform="rotate(-38 236.8 1825.1)"/><ellipse cx="406.7" cy="1952.6" rx="11.2" ry="4.4" transform="rotate(-3 406.7 1952.6)"/><ellipse cx="441.8" cy="1981.6" rx="9" ry="4.6" transform="rotate(77 441.8 1981.6)"/><ellipse cx="281" cy="1854.2" rx="6.7" ry="4.5" transform="rotate(79 281 1854.2)"/><ellipse cx="409" cy="2006.9" rx="7.7" ry="3" transform="rotate(-32 409 2006.9)"/><ellipse cx="275.1" cy="1769.3" rx="9.7" ry="5" transform="rotate(-53 275.1 1769.3)"/><ellipse cx="416" cy="1998.8" rx="5.5" ry="4.1" transform="rotate(-17 416 1998.8)"/><ellipse cx="317.9" cy="1780.3" rx="12.6" ry="3.1" transform="rotate(-75 317.9 1780.3)"/><ellipse cx="187.4" cy="1794.8" rx="12.5" ry="5.2" transform="rotate(53 187.4 1794.8)"/><ellipse cx="326.1" cy="1878" rx="5.3" ry="6" transform="rotate(-42 326.1 1878)"/><ellipse cx="433.6" cy="1956.3" rx="11" ry="3.9" transform="rotate(45 433.6 1956.3)"/><ellipse cx="358.5" cy="1992.5" rx="12.2" ry="5.3" transform="rotate(79 358.5 1992.5)"/><ellipse cx="332.1" cy="1906.2" rx="6.8" ry="5" transform="rotate(0 332.1 1906.2)"/><ellipse cx="250.6" cy="2005.8" rx="8.9" ry="4" transform="rotate(7 250.6 2005.8)"/><ellipse cx="137.7" cy="1949.3" rx="8.4" ry="3.1" transform="rotate(62 137.7 1949.3)"/><ellipse cx="442.6" cy="1970.1" rx="7" ry="3.4" transform="rotate(-37 442.6 1970.1)"/><ellipse cx="66.7" cy="1958.7" rx="9.1" ry="6" transform="rotate(-72 66.7 1958.7)"/><ellipse cx="218.6" cy="1834.5" rx="9.7" ry="4.9" transform="rotate(79 218.6 1834.5)"/><ellipse cx="333.9" cy="1836.4" rx="8.4" ry="4.6" transform="rotate(-79 333.9 1836.4)"/><ellipse cx="90.7" cy="1877.8" rx="6.3" ry="4.5" transform="rotate(-58 90.7 1877.8)"/><ellipse cx="129.8" cy="1785.7" rx="6.5" ry="3.7" transform="rotate(-25 129.8 1785.7)"/><ellipse cx="35.5" cy="1969.8" rx="8.6" ry="4.6" transform="rotate(17 35.5 1969.8)"/><ellipse cx="444.3" cy="1989" rx="8.5" ry="4.5" transform="rotate(68 444.3 1989)"/><ellipse cx="282.4" cy="2038.2" rx="12.4" ry="4.7" transform="rotate(-56 282.4 2038.2)"/><ellipse cx="313.8" cy="1908.5" rx="5.2" ry="5.9" transform="rotate(-50 313.8 1908.5)"/><ellipse cx="290.8" cy="1847" rx="12.9" ry="4.1" transform="rotate(-76 290.8 1847)"/><ellipse cx="405.7" cy="1886.7" rx="5.8" ry="3.6" transform="rotate(-76 405.7 1886.7)"/><ellipse cx="302.4" cy="1903.2" rx="12.1" ry="4.8" transform="rotate(-79 302.4 1903.2)"/><ellipse cx="148.7" cy="1873.9" rx="12.5" ry="3.2" transform="rotate(45 148.7 1873.9)"/><ellipse cx="108.7" cy="1938.1" rx="8.1" ry="4.4" transform="rotate(8 108.7 1938.1)"/><ellipse cx="196.9" cy="1792.8" rx="6" ry="3.2" transform="rotate(5 196.9 1792.8)"/><ellipse cx="304.1" cy="2063.5" rx="10.5" ry="3.1" transform="rotate(40 304.1 2063.5)"/><ellipse cx="363.4" cy="1987.2" rx="9" ry="4.1" transform="rotate(37 363.4 1987.2)"/><ellipse cx="86.5" cy="1874.6" rx="8.9" ry="5.6" transform="rotate(27 86.5 1874.6)"/><ellipse cx="154.1" cy="1828.3" rx="8.9" ry="3.8" transform="rotate(29 154.1 1828.3)"/><ellipse cx="327.8" cy="1979.4" rx="5.7" ry="5.2" transform="rotate(67 327.8 1979.4)"/><ellipse cx="66.7" cy="1868.5" rx="13" ry="3.4" transform="rotate(26 66.7 1868.5)"/><ellipse cx="416.1" cy="2011.5" rx="12.3" ry="5" transform="rotate(-71 416.1 2011.5)"/><ellipse cx="80.9" cy="1849.2" rx="6.9" ry="5" transform="rotate(4 80.9 1849.2)"/><ellipse cx="216" cy="1922.8" rx="5.9" ry="4.6" transform="rotate(28 216 1922.8)"/><ellipse cx="66.8" cy="1920.3" rx="10.7" ry="3.8" transform="rotate(-40 66.8 1920.3)"/><ellipse cx="225.6" cy="1980.7" rx="8.2" ry="6" transform="rotate(66 225.6 1980.7)"/><ellipse cx="342.4" cy="1904.2" rx="10.8" ry="5.4" transform="rotate(18 342.4 1904.2)"/><ellipse cx="247.1" cy="1909.3" rx="8.2" ry="5.1" transform="rotate(25 247.1 1909.3)"/><ellipse cx="332.1" cy="1906.1" rx="12.7" ry="4" transform="rotate(-60 332.1 1906.1)"/><ellipse cx="122.9" cy="1954.2" rx="8.2" ry="5" transform="rotate(-78 122.9 1954.2)"/><ellipse cx="161.2" cy="1922.6" rx="12.3" ry="4.4" transform="rotate(-35 161.2 1922.6)"/><ellipse cx="435.7" cy="1989.1" rx="9.9" ry="5.7" transform="rotate(-55 435.7 1989.1)"/><ellipse cx="194.7" cy="1933.7" rx="11.4" ry="3.8" transform="rotate(70 194.7 1933.7)"/><ellipse cx="277.6" cy="1911.7" rx="9.9" ry="3" transform="rotate(31 277.6 1911.7)"/><ellipse cx="234.8" cy="1919.4" rx="6.4" ry="5.1" transform="rotate(-62 234.8 1919.4)"/><ellipse cx="257.1" cy="1969.6" rx="5.5" ry="4.8" transform="rotate(5 257.1 1969.6)"/><ellipse cx="292.1" cy="1865.8" rx="11.1" ry="5.8" transform="rotate(23 292.1 1865.8)"/><ellipse cx="136.1" cy="1955.4" rx="11.7" ry="5.2" transform="rotate(-67 136.1 1955.4)"/><ellipse cx="95.7" cy="1876.8" rx="8.7" ry="3.9" transform="rotate(-78 95.7 1876.8)"/><ellipse cx="148" cy="1904.5" rx="5" ry="3.1" transform="rotate(17 148 1904.5)"/><ellipse cx="270.7" cy="1819.5" rx="10.4" ry="4.5" transform="rotate(-46 270.7 1819.5)"/><ellipse cx="235.6" cy="1927.5" rx="12.3" ry="3.2" transform="rotate(0 235.6 1927.5)"/><ellipse cx="157.4" cy="1962.3" rx="11.4" ry="5" transform="rotate(20 157.4 1962.3)"/><ellipse cx="250.5" cy="2050.9" rx="9.1" ry="3.6" transform="rotate(72 250.5 2050.9)"/><ellipse cx="255.9" cy="2028.4" rx="11.4" ry="4.9" transform="rotate(-2 255.9 2028.4)"/><ellipse cx="269.4" cy="1922.3" rx="5.5" ry="3.3" transform="rotate(17 269.4 1922.3)"/><ellipse cx="180" cy="1861.6" rx="7.9" ry="4.5" transform="rotate(-6 180 1861.6)"/><ellipse cx="225.7" cy="1796.7" rx="10.7" ry="6" transform="rotate(-25 225.7 1796.7)"/><ellipse cx="429.8" cy="1858.9" rx="5.8" ry="3.7" transform="rotate(-32 429.8 1858.9)"/><ellipse cx="105.6" cy="1798.8" rx="6.1" ry="3.8" transform="rotate(60 105.6 1798.8)"/><ellipse cx="300.5" cy="1882.8" rx="11.6" ry="4" transform="rotate(72 300.5 1882.8)"/><ellipse cx="243.8" cy="1976.4" rx="12.6" ry="5.2" transform="rotate(-6 243.8 1976.4)"/><ellipse cx="256.6" cy="1959.3" rx="5.6" ry="3.9" transform="rotate(43 256.6 1959.3)"/><ellipse cx="179.1" cy="1907.5" rx="12.1" ry="3.6" transform="rotate(17 179.1 1907.5)"/><ellipse cx="177.7" cy="1869.5" rx="12.3" ry="5.6" transform="rotate(31 177.7 1869.5)"/><ellipse cx="384.2" cy="1945.6" rx="9.3" ry="4.4" transform="rotate(-42 384.2 1945.6)"/><ellipse cx="181.6" cy="1818.8" rx="9" ry="5.9" transform="rotate(-28 181.6 1818.8)"/><ellipse cx="169.2" cy="1799.1" rx="7.9" ry="3.3" transform="rotate(-32 169.2 1799.1)"/><ellipse cx="132.2" cy="1831" rx="9.9" ry="4" transform="rotate(15 132.2 1831)"/><ellipse cx="307.1" cy="1951" rx="11.9" ry="3.5" transform="rotate(-64 307.1 1951)"/><ellipse cx="212.1" cy="2005.1" rx="6.1" ry="4.6" transform="rotate(-51 212.1 2005.1)"/><ellipse cx="172.1" cy="2001.7" rx="9.9" ry="4.2" transform="rotate(-67 172.1 2001.7)"/><ellipse cx="195.7" cy="1906.5" rx="10" ry="4" transform="rotate(79 195.7 1906.5)"/><ellipse cx="285.1" cy="1943.4" rx="9.3" ry="6" transform="rotate(22 285.1 1943.4)"/><ellipse cx="391.1" cy="1900.3" rx="8.3" ry="4.6" transform="rotate(-69 391.1 1900.3)"/></g><path d="M103.3 1809.8C104.7 1809.2 109.9 1807.4 113.1 1806.1C116.2 1804.8 120.8 1801.8 124.1 1801.2C127.4 1800.7 132.3 1801.5 135.1 1802.4C137.9 1803.4 139.9 1806.3 142.4 1807.3C145 1808.4 149.7 1809 152.2 1809.2C154.8 1809.4 158.3 1810.1 159.6 1808.6C160.9 1807 159.7 1801.3 160.8 1798.8C161.9 1796.2 164.6 1793.3 166.9 1791.4C169.3 1789.6 174 1787.8 176.7 1786.5C179.5 1785.2 183.5 1784.5 185.3 1782.9C187.1 1781.2 188.4 1776.6 189 1775.5M193.9 1786.5C193.7 1788.2 192.5 1794.2 192.7 1797.6C192.8 1800.9 194.6 1805.8 195.1 1808.6C195.7 1811.3 196.9 1814.4 196.3 1815.9C195.8 1817.4 192.2 1818 191.4 1818.4M218.4 1759.6C218.2 1761.2 217.1 1767.3 217.1 1770.6C217.1 1773.9 217.8 1778.9 218.4 1781.6C218.9 1784.4 219 1787.5 220.8 1789C222.7 1790.4 227.3 1790.1 230.6 1791.4C233.9 1792.7 239.6 1795.3 242.9 1797.6C246.2 1799.8 250.1 1803.4 252.7 1806.1C255.2 1808.9 258.9 1814.4 260 1815.9M203.7 1813.5C204.8 1813.7 208.4 1813.2 211 1814.7C213.6 1816.2 218.2 1820.9 220.8 1823.3C223.4 1825.7 226 1828.4 228.2 1830.6C230.4 1832.8 234 1835.8 235.5 1838C237 1840.2 236.9 1842.4 238 1845.3C239.1 1848.2 242.5 1853.9 242.9 1857.6C243.2 1861.2 241.1 1866.9 240.4 1869.8C239.7 1872.7 237.6 1875.7 238 1877.1C238.3 1878.6 241.8 1880.7 242.9 1879.6C244 1878.5 244.8 1872.7 245.3 1869.8C245.9 1866.9 246.3 1861.5 246.5 1860M133.9 1809.8C133.7 1811.8 133.2 1819.2 132.7 1823.3C132.1 1827.3 130.4 1832.7 130.2 1836.7C130 1840.8 131.4 1846.7 131.4 1850.2C131.4 1853.7 131.3 1857.6 130.2 1860C129.1 1862.4 125.9 1865.2 124.1 1866.1C122.2 1867 118.9 1866.1 118 1866.1M178 1808.6C178.1 1810 178.1 1815.4 179.2 1818.4C180.3 1821.3 184 1825.2 185.3 1828.2C186.6 1831.1 187.2 1834.7 187.8 1838C188.3 1841.3 189 1846.9 189 1850.2C189 1853.5 188.9 1857.1 187.8 1860C186.7 1862.9 184 1868.1 181.6 1869.8C179.2 1871.4 174 1871.4 171.8 1871C169.6 1870.7 167.9 1869.4 166.9 1867.3C166 1865.3 166.1 1860.5 165.7 1857.6C165.3 1854.6 164.7 1849.2 164.5 1847.8M164.5 1847.8C163.8 1848.9 160.5 1852.5 159.6 1855.1C158.7 1857.7 158.4 1862 158.4 1864.9C158.4 1867.8 159 1871.4 159.6 1874.7C160.1 1878 160.9 1883.8 162 1886.9C163.1 1890.1 165.1 1893.5 166.9 1895.5C168.8 1897.5 173.2 1899.7 174.3 1900.4M192.7 1838C192.3 1839.8 190.8 1846.5 190.2 1850.2C189.7 1853.9 189.3 1858.8 189 1862.4C188.6 1866.1 187.9 1872.9 187.8 1874.7M214.7 1841.6C214.7 1843.5 214.5 1850.2 214.7 1853.9C214.9 1857.6 216.1 1862.6 215.9 1866.1C215.7 1869.6 213.5 1874 213.5 1877.1C213.5 1880.3 214.8 1884 215.9 1886.9C217 1889.9 219.7 1893.4 220.8 1896.7C221.9 1900 222.2 1906.2 223.3 1909C224.4 1911.7 226 1914 228.2 1915.1C230.4 1916.2 235.2 1916.9 238 1916.3C240.7 1915.8 245.2 1912.2 246.5 1911.4M88.6 1850.2C89.7 1850 93.3 1849.5 95.9 1849C98.5 1848.4 103.5 1846 105.7 1846.5C107.9 1847.1 109.1 1850.6 110.6 1852.7C112.1 1854.7 114.4 1858 115.5 1860C116.6 1862 117.6 1865.2 118 1866.1M86.1 1853.9C85.8 1855.5 85.5 1862.5 83.7 1864.9C81.8 1867.3 76.1 1868.3 73.9 1869.8C71.7 1871.3 70.3 1872.1 69 1874.7C67.7 1877.3 65.9 1883.3 65.3 1886.9C64.8 1890.6 65.1 1895.5 65.3 1899.2C65.5 1902.9 66.5 1908.1 66.5 1911.4C66.5 1914.7 64.9 1918.7 65.3 1921.2C65.7 1923.8 67.3 1926.6 69 1928.6C70.6 1930.6 73.8 1933.6 76.3 1934.7C78.9 1935.8 83.6 1935.9 86.1 1935.9C88.7 1935.9 92.4 1934.9 93.5 1934.7M73.9 1869.8C74.4 1871.1 77.6 1875.6 77.6 1878.4C77.6 1881.1 73.9 1885.4 73.9 1888.2C73.9 1890.9 75.7 1894.3 77.6 1896.7C79.4 1899.1 83.7 1903.2 86.1 1904.1C88.5 1905 90.9 1903.4 93.5 1902.9C96 1902.3 101.4 1900.6 103.3 1900.4C105.1 1900.2 105.3 1901.4 105.7 1901.6M100.8 1878.4C100.8 1880 100.1 1886.4 100.8 1889.4C101.6 1892.3 103.5 1896.7 105.7 1898C107.9 1899.2 112.6 1898.1 115.5 1898C118.4 1897.8 122.4 1897.1 125.3 1896.7C128.2 1896.4 132.7 1895.3 135.1 1895.5C137.5 1895.7 140.3 1897.6 141.2 1898M124.1 1867.3C124.6 1868.4 126.5 1872.1 127.8 1874.7C129 1877.3 131.4 1881.9 132.7 1884.5C133.9 1887.1 135 1889.6 136.3 1891.8C137.6 1894 139.6 1897.5 141.2 1899.2C142.9 1900.8 145.3 1902.1 147.3 1902.9C149.4 1903.6 153.6 1903.9 154.7 1904.1M105.7 1902.9C106.8 1904 111.6 1908.2 113.1 1910.2C114.5 1912.2 114.4 1914.3 115.5 1916.3C116.6 1918.3 118.6 1921.8 120.4 1923.7C122.2 1925.5 125.6 1927.5 127.8 1928.6C130 1929.7 134 1930.7 135.1 1931M142.4 1899.2C143.2 1901 145.5 1908.9 147.3 1911.4C149.2 1914 152.5 1915.4 154.7 1916.3C156.9 1917.2 159.8 1917.6 162 1917.6C164.2 1917.6 167.4 1917.4 169.4 1916.3C171.4 1915.2 174.8 1912.6 175.5 1910.2C176.2 1907.8 174.5 1901.9 174.3 1900.4M56.7 1866.1C57.5 1866.9 59.8 1869.7 61.6 1871C63.5 1872.3 67.9 1874.1 69 1874.7M35.9 1915.1C36.5 1915.7 39 1916.8 39.6 1918.8C40.1 1920.8 40 1925.4 39.6 1928.6C39.2 1931.7 37.5 1938.3 37.1 1940M87.3 1907.8C87.3 1909.2 86.9 1914.6 86.7 1917.6C86.6 1920.5 86.2 1925.9 86.1 1927.3M176.7 1902.9C177.1 1904.1 178.1 1908.9 179.2 1911.4C180.3 1914 183.3 1918.7 184.1 1920M162 1917.6C162.8 1919 165.5 1924.6 166.9 1927.3C168.4 1930.1 171.1 1934.6 171.8 1935.9M258.4 1766.9C258.7 1768.4 259.3 1774.2 260.8 1776.7C262.3 1779.3 266.5 1781.7 268.2 1784.1C269.8 1786.5 270.6 1790.1 271.8 1792.7C273.1 1795.2 275.6 1798.5 276.7 1801.2C277.8 1804 278.6 1807.7 279.2 1811C279.7 1814.3 280.2 1821.4 280.4 1823.3M280.4 1801.2C281.7 1800.5 285.9 1797.2 289 1796.3C292.1 1795.4 297.6 1794.9 301.2 1795.1C304.9 1795.3 309.8 1796.4 313.5 1797.6C317.1 1798.7 322.4 1800.8 325.7 1802.4C329 1804.1 332.8 1806.6 335.5 1808.6C338.3 1810.6 342.2 1813.3 344.1 1815.9C345.9 1818.5 346.8 1822.4 347.8 1825.7C348.7 1829 349.5 1835.2 350.2 1838C350.9 1840.7 352.3 1843.2 352.7 1844.1M302.4 1819.6C303.4 1819.4 306.2 1818.2 308.6 1818.4C311 1818.6 315.4 1819.7 318.4 1820.8C321.3 1821.9 325.8 1823.9 328.2 1825.7C330.6 1827.6 332.8 1830.5 334.3 1833.1C335.8 1835.6 337.4 1839.9 338 1842.9C338.5 1845.8 338.3 1850.3 338 1852.7C337.6 1855 337.3 1857.5 335.5 1858.8C333.7 1860.1 328.7 1861 325.7 1861.2C322.8 1861.4 318.5 1860.9 315.9 1860C313.3 1859.1 310 1856.9 308.6 1855.1C307.1 1853.3 305.9 1850 306.1 1847.8C306.3 1845.6 308.7 1842.6 309.8 1840.4C310.9 1838.2 313.5 1835.3 313.5 1833.1C313.5 1830.9 311.4 1827.7 309.8 1825.7C308.1 1823.7 303.6 1820.5 302.4 1819.6M280.4 1823.3C278.9 1823.1 273.4 1821.3 270.6 1822C267.9 1822.8 263.9 1825.8 262 1828.2C260.2 1830.6 258 1835 258.4 1838C258.7 1840.9 262.7 1845 264.5 1847.8C266.3 1850.5 269.3 1853.4 270.6 1856.3C271.9 1859.3 272.3 1864.2 273.1 1867.3C273.8 1870.5 275 1874.2 275.5 1877.1C276.1 1880.1 276.2 1883.6 276.7 1886.9C277.3 1890.2 279 1895.9 279.2 1899.2C279.4 1902.5 277.4 1906 278 1909C278.5 1911.9 281.8 1915.8 282.9 1918.8C284 1921.7 285.7 1926.4 285.3 1928.6C284.9 1930.8 281.1 1932.7 280.4 1933.5M304.9 1852.7C305.8 1854.1 309.6 1859.9 311 1862.4C312.5 1865 314.3 1867.6 314.7 1869.8C315.1 1872 314.8 1875.3 313.5 1877.1C312.2 1879 307.2 1881.3 306.1 1882M313.5 1869.8C315.3 1870.5 323.5 1872.5 325.7 1874.7C327.9 1876.9 327.1 1882.1 328.2 1884.5C329.3 1886.9 330.9 1889.3 333.1 1890.6C335.3 1891.9 339.6 1893.4 342.9 1893.1C346.2 1892.7 351.8 1890 355.1 1888.2C358.4 1886.3 363.6 1883.2 364.9 1880.8C366.2 1878.4 364.2 1874.6 363.7 1872.2C363.1 1869.9 361.6 1867.3 361.2 1864.9C360.9 1862.5 361.8 1858.9 361.2 1856.3C360.7 1853.8 359.6 1848.7 357.6 1847.8C355.5 1846.8 350.7 1849.5 347.8 1850.2C344.8 1850.9 339.4 1852.3 338 1852.7M363.7 1864.9C364.6 1863.8 367.8 1859.2 369.8 1857.6C371.8 1855.9 374.6 1854.2 377.1 1853.9C379.7 1853.5 384.7 1853.8 386.9 1855.1C389.1 1856.4 391.3 1859.9 391.8 1862.4C392.4 1865 391.3 1869.1 390.6 1872.2C389.9 1875.4 386 1882.5 386.9 1883.3C387.9 1884 393.6 1878.4 396.7 1877.1C399.9 1875.9 404.4 1874.7 407.8 1874.7C411.1 1874.7 416 1876.2 418.8 1877.1C421.5 1878.1 425 1880.3 426.1 1880.8M350.2 1820.8C351.3 1821.2 355 1822.5 357.6 1823.3C360.1 1824 365.3 1824.2 367.3 1825.7C369.4 1827.2 369.9 1831.2 371 1833.1C372.1 1834.9 373 1836.9 374.7 1838C376.3 1839.1 380.2 1838.9 382 1840.4C383.9 1841.9 385.7 1845.4 386.9 1847.8C388.2 1850.1 390.1 1855 390.6 1856.3M379.6 1815.9C380 1817.4 381.5 1822.8 382 1825.7C382.6 1828.7 383.1 1834 383.3 1835.5M402.9 1861.2C404.1 1861 409 1859.8 411.4 1860C413.8 1860.2 416.2 1860.6 418.8 1862.4C421.3 1864.3 426.7 1869.9 428.6 1872.2C430.4 1874.6 430.7 1877.4 431 1878.4M384.5 1886.9C384.7 1888.4 386.4 1894.2 385.7 1896.7C385 1899.3 381.2 1902.2 379.6 1904.1C377.9 1905.9 375.1 1907.5 374.7 1909C374.3 1910.4 375.3 1913.5 377.1 1913.9C379 1914.2 384 1913.1 386.9 1911.4C389.9 1909.8 394.2 1905.1 396.7 1902.9C399.3 1900.7 401.5 1898.6 404.1 1896.7C406.7 1894.9 412 1890.4 413.9 1890.6C415.7 1890.8 414.5 1897.2 416.3 1898C418.2 1898.7 423.2 1897.2 426.1 1895.5C429.1 1893.9 433.3 1888.6 435.9 1886.9C438.5 1885.3 442.2 1884.9 443.3 1884.5M315.9 1889.4C315.6 1890.9 313.1 1896.2 313.5 1899.2C313.8 1902.1 317.3 1906 318.4 1909C319.5 1911.9 320.8 1915.8 320.8 1918.8C320.8 1921.7 318.7 1927.1 318.4 1928.6M363.7 1894.3C362.8 1895.4 359.6 1899.4 357.6 1901.6C355.5 1903.8 351.7 1906.4 350.2 1909C348.7 1911.6 348.9 1915.8 347.8 1918.8C346.7 1921.7 344 1925.6 342.9 1928.6C341.8 1931.5 340.8 1936.9 340.4 1938.4M289 1907.8C289.5 1908.7 292.3 1911.9 292.7 1913.9C293 1915.9 291.6 1920.1 291.4 1921.2M428.6 1904.1C429.3 1905.9 432.9 1912.7 433.5 1916.3C434 1920 431.9 1925.6 432.2 1928.6C432.6 1931.5 435.4 1934.8 435.9 1935.9M374.7 1913.9C375.6 1915 378.6 1919.8 380.8 1921.2C383 1922.7 387 1922.2 389.4 1923.7C391.8 1925.1 395.6 1929.9 396.7 1931M240 1801.2C241.1 1802.3 245.1 1806.4 247.3 1808.6C249.6 1810.8 253 1813.3 254.7 1815.9C256.3 1818.5 257.8 1824.2 258.4 1825.7M240 1844.1C240.6 1845.9 242.9 1852.7 243.7 1856.3C244.4 1860 244.7 1866.7 244.9 1868.6M308.6 1895.5C308.6 1897 308 1902 308.6 1905.3C309.1 1908.6 311.9 1914.1 312.2 1917.6C312.6 1921 311.6 1925.8 311 1928.6C310.5 1931.3 308.9 1934.8 308.6 1935.9M35.9 1913.7C36.5 1914.4 38.3 1919 39.6 1918.6C40.9 1918.2 43.9 1913.8 44.5 1911.2C45 1908.7 43.4 1902.9 43.3 1901.4M65.3 1899C65.3 1900.8 65.1 1907.6 65.3 1911.2C65.5 1914.9 65.6 1920.6 66.5 1923.5C67.4 1926.4 69.6 1929 71.4 1930.8C73.3 1932.7 76.2 1935 78.8 1935.7C81.3 1936.5 86 1936.1 88.6 1935.7C91.1 1935.4 95.2 1934.2 95.9 1933.3C96.7 1932.4 94.6 1929.8 93.5 1929.6C92.4 1929.4 89.3 1931.7 88.6 1932.1M87.3 1906.3C87.2 1907.8 86.5 1913.6 86.1 1916.1C85.8 1918.7 85.1 1922.4 84.9 1923.5M31 1960.2C31.9 1959.1 35.5 1954.9 37.1 1952.9C38.8 1950.9 40.2 1948.4 42 1946.8C43.9 1945.1 46.8 1942.8 49.4 1941.9C52 1940.9 56.2 1941 59.2 1940.6C62.1 1940.3 66.4 1939.8 69 1939.4C71.6 1939 75.2 1938.4 76.3 1938.2M113.1 1911.2C113.8 1912.5 116.1 1917.6 118 1919.8C119.8 1922 123.1 1924.5 125.3 1925.9C127.5 1927.4 132.3 1928.5 132.7 1929.6C133 1930.7 129 1931.8 127.8 1933.3C126.5 1934.8 125.9 1937.2 124.1 1939.4C122.2 1941.6 117.9 1945.6 115.5 1948C113.1 1950.4 110.4 1953.1 108.2 1955.3C106 1957.5 103.4 1961 100.8 1962.7C98.2 1964.3 94.3 1965.6 91 1966.3C87.7 1967.1 82.1 1967.2 78.8 1967.6C75.5 1967.9 71.9 1968.8 69 1968.8C66 1968.8 61.2 1968.5 59.2 1967.6C57.2 1966.7 56.2 1961.9 55.5 1962.7C54.8 1963.4 54.1 1969.5 54.3 1972.5C54.5 1975.4 55.4 1979.7 56.7 1982.3C58 1984.8 61 1987.6 62.9 1989.6C64.7 1991.6 68.1 1994.8 69 1995.7M122.9 1943.1C123 1944.7 123.7 1950.8 124.1 1954.1C124.4 1957.4 124.8 1962 125.3 1965.1C125.9 1968.2 127.6 1972 127.8 1974.9C127.9 1977.9 126.9 1981.8 126.5 1984.7C126.2 1987.7 125.3 1992.1 125.3 1994.5C125.3 1996.9 126.3 1999.7 126.5 2000.6M132.7 1933.3C133 1934.6 133.6 1939.3 135.1 1941.9C136.6 1944.4 140.4 1947.7 142.4 1950.4C144.5 1953.2 146.7 1957.5 148.6 1960.2C150.4 1963 152.7 1966.6 154.7 1968.8C156.7 1971 159.5 1973.8 162 1974.9C164.6 1976 168.9 1976.1 171.8 1976.1C174.8 1976.1 179.1 1975.7 181.6 1974.9C184.2 1974.2 187.1 1972.7 189 1971.2C190.8 1969.8 192.8 1967.1 193.9 1965.1C195 1963.1 196 1958.9 196.3 1957.8M164.5 1929.6C164.3 1931.1 162.9 1936.7 163.3 1939.4C163.6 1942.2 165.7 1945.6 166.9 1948C168.2 1950.4 171.1 1952.9 171.8 1955.3C172.6 1957.7 171.8 1962.6 171.8 1963.9M171.8 1939.4C172.9 1938.9 177.3 1935.9 179.2 1935.7C181 1935.6 182.6 1936.7 184.1 1938.2C185.6 1939.7 188.2 1944.4 189 1945.5M100.8 1989.6C101.9 1988.9 105.6 1985.6 108.2 1984.7C110.7 1983.8 115.4 1983.9 118 1983.5C120.5 1983.1 124.2 1982.4 125.3 1982.3M157.1 2004.3C158.2 2003.9 161.9 2002.4 164.5 2001.9C167.1 2001.3 171.3 2001 174.3 2000.6C177.2 2000.3 181.1 1999.8 184.1 1999.4C187 1999 190.9 1998.2 193.9 1998.2C196.8 1998.2 200.7 1998.9 203.7 1999.4C206.6 2000 210.5 2001.3 213.5 2001.9C216.4 2002.4 220.7 2003.1 223.3 2003.1C225.8 2003.1 228.8 2002.8 230.6 2001.9C232.4 2000.9 234.4 1998.4 235.5 1997C236.6 1995.5 237.6 1992.8 238 1992.1M222 1965.1C222 1966.6 222.2 1972 222 1974.9C221.9 1977.9 221 1983.2 220.8 1984.7M235.5 2033.7C236.6 2033.3 240.7 2032.7 242.9 2031.2C245.1 2029.8 248.7 2026.1 250.2 2023.9C251.7 2021.7 251.2 2018 252.7 2016.6C254.1 2015.1 258.9 2014.5 260 2014.1M201.2 1957.8C202.7 1957.4 208.1 1955.3 211 1955.3C214 1955.3 218.2 1956.5 220.8 1957.8C223.4 1959.1 226 1962.4 228.2 1963.9C230.4 1965.4 232.9 1966.8 235.5 1967.6C238.1 1968.3 241.6 1968.8 245.3 1968.8C249 1968.8 257.8 1967.8 260 1967.6M184.1 1930.8C185.2 1931.9 189.2 1936.3 191.4 1938.2C193.6 1940 196.2 1942 198.8 1943.1C201.3 1944.2 205.6 1944.8 208.6 1945.5C211.5 1946.3 215.4 1946.7 218.4 1948C221.3 1949.3 224.9 1952.4 228.2 1954.1C231.5 1955.8 236.7 1957.5 240.4 1959C244.1 1960.5 250.8 1963.2 252.7 1963.9M160.8 1911.2C161 1912.5 161.1 1917.4 162 1919.8C163 1922.2 165.1 1925.3 166.9 1927.2C168.8 1929 173.2 1931.3 174.3 1932.1M144.9 1903.9C145.6 1905.4 148 1911.5 149.8 1913.7C151.6 1915.9 155.1 1917.5 157.1 1918.6C159.2 1919.7 162.3 1920.7 163.3 1921M176.7 1903.9C176.9 1905.4 177.2 1910.8 178 1913.7C178.7 1916.6 180.3 1920.9 181.6 1923.5C182.9 1926.1 185.8 1929.7 186.5 1930.8M347.8 2021.4C347.4 2019.6 346.4 2012.5 345.3 2009.2C344.2 2005.9 341.9 2002.2 340.4 1999.4C338.9 1996.7 337 1993.4 335.5 1990.8C334 1988.3 332.1 1984.7 330.6 1982.3C329.1 1979.9 327.6 1977.1 325.7 1974.9C323.9 1972.7 320.9 1969.8 318.4 1967.6C315.8 1965.4 311.5 1962.1 308.6 1960.2C305.6 1958.4 301.3 1956.8 298.8 1955.3C296.2 1953.9 293.3 1951.9 291.4 1950.4C289.6 1949 287.3 1946.3 286.5 1945.5M330.6 1982.3C331 1980.8 332 1975 333.1 1972.5C334.2 1969.9 335.4 1967 338 1965.1C340.5 1963.3 346.5 1961.5 350.2 1960.2C353.9 1958.9 359.9 1956.2 362.4 1956.6C365 1956.9 366.2 1962.9 367.3 1962.7C368.4 1962.5 370.2 1957 369.8 1955.3C369.4 1953.7 365.6 1952.2 364.9 1951.7M333.1 1977.4C333.8 1978.5 336.1 1982.9 338 1984.7C339.8 1986.6 342.7 1988.1 345.3 1989.6C347.9 1991.1 352.2 1993 355.1 1994.5C358 1996 362 1998.1 364.9 1999.4C367.8 2000.7 371.4 2002.7 374.7 2003.1C378 2003.4 383.3 2002.8 386.9 2001.9C390.6 2000.9 395.5 1998.4 399.2 1997C402.9 1995.5 408.1 1993.5 411.4 1992.1C414.7 1990.6 418.3 1988.6 421.2 1987.2C424.2 1985.7 428.4 1984.1 431 1982.3C433.6 1980.4 436.2 1976.8 438.4 1974.9C440.6 1973.1 443.5 1971.1 445.7 1970C447.9 1968.9 452 1967.9 453.1 1967.6M345.3 2009.2C346.8 2009 351.8 2008.7 355.1 2008C358.4 2007.2 364.4 2005 367.3 2004.3C370.3 2003.6 373.6 2003.3 374.7 2003.1M362.4 1956.6C364.3 1956.2 371.4 1953.9 374.7 1954.1C378 1954.3 381.6 1957.4 384.5 1957.8C387.4 1958.1 392.1 1957.5 394.3 1956.6C396.5 1955.6 397 1952.9 399.2 1951.7C401.4 1950.4 406.6 1949.6 409 1948C411.4 1946.3 414.7 1942.5 415.1 1940.6C415.5 1938.8 413.1 1936.7 411.4 1935.7C409.8 1934.8 406.3 1934.5 404.1 1934.5C401.9 1934.5 397.8 1935.6 396.7 1935.7M384.5 1957.8C384.9 1959.2 386.9 1965 386.9 1967.6C386.9 1970.1 386 1973.1 384.5 1974.9C383 1976.8 379.7 1979.3 377.1 1979.8C374.6 1980.4 369.9 1979.3 367.3 1978.6C364.8 1977.9 361.1 1975.5 360 1974.9M416.3 1957.8C417.8 1958 423.2 1958.6 426.1 1959C429.1 1959.4 433.5 1959.7 435.9 1960.2C438.3 1960.8 441.1 1962.3 442 1962.7M431 1913.7C431 1915.2 430.7 1920.6 431 1923.5C431.4 1926.4 432 1931.1 433.5 1933.3C434.9 1935.5 439.7 1936 440.8 1938.2C441.9 1940.4 440.6 1945 440.8 1948C441 1950.9 441.7 1954.8 442 1957.8C442.4 1960.7 443.1 1966.1 443.3 1967.6M440.8 1938.2C442.3 1937.8 448 1936.5 450.6 1935.7C453.2 1935 456.9 1933.7 458 1933.3M352.7 1911.2C351.9 1912.7 349.2 1918.1 347.8 1921C346.3 1924 343.8 1927.9 342.9 1930.8C341.9 1933.8 341.6 1937.7 341.6 1940.6C341.6 1943.6 343 1948.2 342.9 1950.4C342.7 1952.6 340.8 1954.6 340.4 1955.3M355.1 1921C354.4 1922.5 351.3 1927.9 350.2 1930.8C349.1 1933.8 348.1 1939.2 347.8 1940.6M377.1 1913.7C378.2 1914.4 382.3 1916.8 384.5 1918.6C386.7 1920.4 390 1924.1 391.8 1925.9C393.7 1927.8 396 1930.1 396.7 1930.8M396.7 1925.9C397.8 1925.6 401.5 1924.2 404.1 1923.5C406.7 1922.8 412.4 1921.4 413.9 1921M306.1 1935.7C306.5 1937.2 307.5 1943 308.6 1945.5C309.7 1948.1 312.4 1950.7 313.5 1952.9C314.6 1955.1 315.6 1959.1 315.9 1960.2M279.2 1935.7C280.7 1936.5 286 1939.9 289 1940.6C291.9 1941.4 296.6 1941.2 298.8 1940.6C301 1940.1 302.2 1938.4 303.7 1937C305.1 1935.5 307.5 1932.9 308.6 1930.8C309.7 1928.8 310.7 1924.6 311 1923.5M286.5 1906.3C286.9 1907.4 288.1 1911.5 289 1913.7C289.9 1915.9 292.5 1919.2 292.7 1921C292.8 1922.9 290.6 1925.2 290.2 1925.9M315.9 1905.1C316.7 1906.4 320.1 1910.9 320.8 1913.7C321.6 1916.4 320.8 1922 320.8 1923.5M240 1972.5C241.5 1972.8 246.9 1974.2 249.8 1974.9C252.7 1975.7 256.3 1976.6 259.6 1977.4C262.9 1978.1 268.5 1978.7 271.8 1979.8C275.1 1980.9 279.1 1983.2 281.6 1984.7C284.2 1986.2 287.1 1987.8 289 1989.6C290.8 1991.4 292 1994.8 293.9 1997C295.7 1999.2 299.4 2002.1 301.2 2004.3C303.1 2006.5 304.7 2009.4 306.1 2011.7C307.6 2013.9 309.9 2016.6 311 2019C312.1 2021.4 312.7 2025.6 313.5 2027.6C314.2 2029.6 315.6 2031.7 315.9 2032.5M240 1992.1C241.5 1992.8 246.9 1995.1 249.8 1997C252.7 1998.8 257 2001.9 259.6 2004.3C262.2 2006.7 265.1 2010.3 266.9 2012.9C268.8 2015.4 270.7 2018.7 271.8 2021.4C272.9 2024.2 273.6 2028.3 274.3 2031.2C275 2034.2 275.6 2038.5 276.7 2041C277.8 2043.6 280.2 2046.4 281.6 2048.4C283.1 2050.4 285.4 2053 286.5 2054.5C287.6 2056 288.6 2057.6 289 2058.2M252.2 2016.6C253 2017.7 255.7 2021.3 257.1 2023.9C258.6 2026.5 261.3 2032.2 262 2033.7M306.1 2033.7C307.2 2033.3 310.9 2031.8 313.5 2031.2C316 2030.7 320.3 2030.8 323.3 2030C326.2 2029.3 330.9 2028.4 333.1 2026.3C335.3 2024.3 337.4 2019.5 338 2016.6C338.5 2013.6 336.9 2008.2 336.7 2006.8M298.8 2031.2C299.9 2032 304.3 2034.3 306.1 2036.1C308 2038 309.6 2040.9 311 2043.5C312.5 2046.1 314.8 2050.9 315.9 2053.3C317 2055.7 318 2058.5 318.4 2059.4M240 2027.6C241.1 2028.5 245.5 2031.3 247.3 2033.7C249.2 2036.1 251.1 2040.6 252.2 2043.5C253.3 2046.4 254.1 2050.5 254.7 2053.3C255.2 2056 255.7 2060.6 255.9 2061.9M269.4 1967.6C270.9 1968.3 275.9 1971 279.2 1972.5C282.5 1973.9 288.5 1976.6 291.4 1977.4C294.4 1978.1 297.7 1977.4 298.8 1977.4" fill="none" stroke="#6e6e6e" stroke-width="0.9" stroke-opacity="0.6" stroke-linecap="round" stroke-linejoin="round" filter="url(#sulS)"/><path d="M121.6 1795.1C122 1794 129.5 1791.6 132.7 1791.4C135.8 1791.2 139.9 1792.4 142.4 1793.9C145 1795.3 148 1799.2 149.8 1801.2C151.6 1803.2 155.8 1807 154.7 1807.3C153.6 1807.7 146.1 1805 142.4 1803.7C138.8 1802.4 133.3 1800.1 130.2 1798.8C127.1 1797.5 121.3 1796.2 121.6 1795.1Z" fill="#8a8a8a" opacity="0.7" filter="url(#bl2)"/><path d="M240 1757.1C242.4 1758.1 246.5 1761.7 249.8 1763.3C253.1 1764.8 255.9 1765.9 259.6 1766.3C263.3 1766.7 267.3 1765.7 271.8 1765.7C276.3 1765.7 281.6 1765.7 286.5 1766.3C291.4 1766.9 296.7 1768.1 301.2 1769.4C305.7 1770.7 309.8 1772.2 313.5 1774.3C317.1 1776.3 319.8 1780 323.3 1781.6C326.7 1783.3 330.6 1782.9 334.3 1784.1C338 1785.3 342.9 1786.5 345.3 1789C347.8 1791.4 346.9 1797 349 1798.8C351 1800.5 354.5 1798.8 357.6 1799.4C360.6 1800 364.1 1800.9 367.3 1802.4C370.6 1804 373.9 1806.3 377.1 1808.6C380.4 1810.8 383.7 1813.5 386.9 1815.9C390.2 1818.4 393.9 1820.8 396.7 1823.3C399.6 1825.7 402.2 1827.8 404.1 1830.6C405.9 1833.5 405.7 1838.4 407.8 1840.4C409.8 1842.4 413.3 1841.2 416.3 1842.9C419.4 1844.5 423.3 1847.3 426.1 1850.2C429 1853.1 431.8 1856.7 433.5 1860C435.1 1863.3 434.3 1866.9 435.9 1869.8C437.6 1872.7 441.6 1874.3 443.3 1877.1C444.9 1880 444.5 1883.7 445.7 1886.9C446.9 1890.2 449.2 1893.3 450.6 1896.7C452 1900.2 453.5 1904.1 454.3 1907.8C455.1 1911.4 454.9 1915.3 455.5 1918.8C456.1 1922.2 457.4 1925.1 458 1928.6C458.5 1932 458.2 1936.2 458.6 1939.4C459 1942.6 460.1 1944.9 460.4 1948C460.7 1951 461 1954.5 460.4 1957.8C459.8 1961 457.8 1964.1 456.7 1967.6C455.7 1971 455.7 1974.9 454.3 1978.6C452.9 1982.3 450 1986.1 448.2 1989.6C446.3 1993.1 445.3 1996.6 443.3 1999.4C441.2 2002.3 438.8 2004.5 435.9 2006.8C433.1 2009 429.4 2011 426.1 2012.9C422.9 2014.7 420 2016.3 416.3 2017.8C412.7 2019.2 408.2 2020.2 404.1 2021.4C400 2022.7 395.9 2024.2 391.8 2025.1C387.8 2026 383.7 2027 379.6 2027C375.5 2027 371 2025.6 367.3 2025.1C363.7 2024.6 360.8 2024.5 357.6 2023.9C354.3 2023.3 349.6 2020.6 347.8 2021.4C345.9 2022.3 346.5 2025.7 346.5 2028.8C346.5 2031.9 348 2036.6 347.8 2039.8C347.6 2043.1 346.9 2045.7 345.3 2048.4C343.7 2051 340.8 2053.7 338 2055.7C335.1 2057.8 331.8 2059.2 328.2 2060.6C324.5 2062.1 319.6 2063.1 315.9 2064.3C312.2 2065.5 309.8 2066.6 306.1 2068C302.4 2069.4 298 2071.4 293.9 2072.9C289.8 2074.3 285.7 2076.1 281.6 2076.6C277.6 2077 273 2076.3 269.4 2075.3C265.8 2074.3 262.4 2072.3 260 2070.4C257.6 2068.6 256.9 2066.3 255.1 2064.3C253.3 2062.3 250.8 2060.2 249 2058.2C247.1 2056.1 245.5 2054.5 244.1 2052.1C242.7 2049.6 241.8 2045.9 240.4 2043.5C239 2041 237.6 2039.2 235.5 2037.4C233.5 2035.5 231 2033.9 228.2 2032.5C225.3 2031 221.6 2030 218.4 2028.8C215.1 2027.6 211.8 2026.1 208.6 2025.1C205.3 2024.1 202 2023.1 198.8 2022.7C195.5 2022.3 192.4 2022.9 189 2022.7C185.5 2022.5 181.6 2022.3 178 2021.4C174.3 2020.6 170.8 2019 166.9 2017.8C163.1 2016.6 158.4 2015.5 154.7 2014.1C151 2012.7 148.2 2010.5 144.9 2009.2C141.6 2007.9 138.4 2007.4 135.1 2006.1C131.8 2004.9 128.6 2003.1 125.3 2001.9C122 2000.6 118.8 1999.6 115.5 1998.8C112.2 1998 108.6 1997.5 105.7 1997C102.9 1996.4 101.2 1995.5 98.4 1995.7C95.5 1995.9 92.2 1997.4 88.6 1998.2C84.9 1999 80.4 2000.4 76.3 2000.6C72.2 2000.8 68.2 2000 64.1 1999.4C60 1998.8 55.5 1998.2 51.8 1997C48.2 1995.7 44.7 1994.1 42 1992.1C39.4 1990 37.8 1987.6 35.9 1984.7C34.1 1981.9 32.4 1978.2 31 1974.9C29.6 1971.7 28.4 1968.8 27.3 1965.1C26.3 1961.4 25.3 1957 24.9 1952.9C24.5 1948.8 24.7 1943.9 24.9 1940.6C25.1 1937.4 25.5 1936.3 26.1 1933.5C26.7 1930.6 27.3 1926.7 28.6 1923.7C29.8 1920.6 32 1918.2 33.5 1915.1C34.9 1912 35.7 1908.4 37.1 1905.3C38.6 1902.2 40.4 1899.8 42 1896.7C43.7 1893.7 45.3 1890.6 46.9 1886.9C48.6 1883.3 50.2 1878.4 51.8 1874.7C53.5 1871 55.1 1868 56.7 1864.9C58.4 1861.8 60.2 1859.2 61.6 1856.3C63.1 1853.5 63.7 1850.6 65.3 1847.8C66.9 1844.9 69.2 1841.2 71.4 1839.2C73.7 1837.1 77.1 1838.2 78.8 1835.5C80.4 1832.9 80 1826.9 81.2 1823.3C82.4 1819.6 84.1 1815.8 86.1 1813.5C88.2 1811.1 90.6 1809.8 93.5 1809.2C96.3 1808.6 102 1810.9 103.3 1809.8C104.5 1808.7 100.4 1804.9 100.8 1802.4C101.2 1800 103.3 1798.4 105.7 1795.1C108.2 1791.8 111.8 1785.5 115.5 1782.9C119.2 1780.2 124.1 1780.8 127.8 1779.2C131.4 1777.6 133.9 1775.3 137.6 1773.1C141.2 1770.8 145.7 1768.1 149.8 1765.7C153.9 1763.4 156.3 1760.6 162 1759C167.8 1757.3 177.1 1756.8 184.1 1755.9C191 1755 198 1752.9 203.7 1753.5C209.4 1754.1 213.1 1758.9 218.4 1759.6C223.7 1760.2 231.9 1757.8 235.5 1757.4C239.1 1757 237.6 1756.2 240 1757.1Z" fill="none" stroke="#b9b9b9" stroke-width="1.4" filter="url(#edgS)"/></g></g><g transform="translate(470 0)"><g clip-path="url(#rhc)"><rect x="22.9" y="1751.5" width="439.5" height="327.1" fill="#fafafa"/><path d="M350.2 2009.2C354.1 2006.6 367.3 2006.8 374.7 2005.5C382 2004.2 391.8 2002.7 399.2 2000.6C406.5 1998.6 417.2 1994.8 423.7 1992.1C430.1 1989.3 438 1983 442 1982.3C446.1 1981.5 451.2 1983.5 450.6 1987.2C450.1 1990.8 443.5 2002 438.4 2006.8C433.2 2011.5 423.3 2016.1 416.3 2019C409.3 2021.9 399.2 2025.2 391.8 2026.3C384.5 2027.4 373.8 2026.9 367.3 2026.3C360.9 2025.8 351.6 2025.2 349 2022.7C346.4 2020.1 346.3 2011.8 350.2 2009.2Z" fill="#bdbdbd" opacity="0.22" filter="url(#bl3)"/><g fill="#ffffff" opacity="0.9" filter="url(#bl2)"><ellipse cx="388.8" cy="1991.2" rx="10.4" ry="3.9" transform="rotate(75 388.8 1991.2)"/><ellipse cx="303" cy="2013.1" rx="11.9" ry="4.5" transform="rotate(15 303 2013.1)"/><ellipse cx="261.9" cy="1897.2" rx="7.1" ry="3.1" transform="rotate(-73 261.9 1897.2)"/><ellipse cx="420.2" cy="1890.3" rx="12.1" ry="3.5" transform="rotate(-35 420.2 1890.3)"/><ellipse cx="166.5" cy="1797.6" rx="9.1" ry="6" transform="rotate(63 166.5 1797.6)"/><ellipse cx="371.9" cy="1990.7" rx="12.3" ry="5.3" transform="rotate(71 371.9 1990.7)"/><ellipse cx="353.3" cy="1984.5" rx="8.7" ry="4.6" transform="rotate(45 353.3 1984.5)"/><ellipse cx="146.4" cy="1914.4" rx="9.1" ry="5.4" transform="rotate(36 146.4 1914.4)"/><ellipse cx="416.7" cy="1902.4" rx="9.5" ry="5.8" transform="rotate(36 416.7 1902.4)"/><ellipse cx="236.8" cy="1825.1" rx="7.6" ry="5.1" transform="rotate(-38 236.8 1825.1)"/><ellipse cx="406.7" cy="1952.6" rx="11.2" ry="4.4" transform="rotate(-3 406.7 1952.6)"/><ellipse cx="441.8" cy="1981.6" rx="9" ry="4.6" transform="rotate(77 441.8 1981.6)"/><ellipse cx="281" cy="1854.2" rx="6.7" ry="4.5" transform="rotate(79 281 1854.2)"/><ellipse cx="409" cy="2006.9" rx="7.7" ry="3" transform="rotate(-32 409 2006.9)"/><ellipse cx="275.1" cy="1769.3" rx="9.7" ry="5" transform="rotate(-53 275.1 1769.3)"/><ellipse cx="416" cy="1998.8" rx="5.5" ry="4.1" transform="rotate(-17 416 1998.8)"/><ellipse cx="317.9" cy="1780.3" rx="12.6" ry="3.1" transform="rotate(-75 317.9 1780.3)"/><ellipse cx="187.4" cy="1794.8" rx="12.5" ry="5.2" transform="rotate(53 187.4 1794.8)"/><ellipse cx="326.1" cy="1878" rx="5.3" ry="6" transform="rotate(-42 326.1 1878)"/><ellipse cx="433.6" cy="1956.3" rx="11" ry="3.9" transform="rotate(45 433.6 1956.3)"/><ellipse cx="358.5" cy="1992.5" rx="12.2" ry="5.3" transform="rotate(79 358.5 1992.5)"/><ellipse cx="332.1" cy="1906.2" rx="6.8" ry="5" transform="rotate(0 332.1 1906.2)"/><ellipse cx="250.6" cy="2005.8" rx="8.9" ry="4" transform="rotate(7 250.6 2005.8)"/><ellipse cx="137.7" cy="1949.3" rx="8.4" ry="3.1" transform="rotate(62 137.7 1949.3)"/><ellipse cx="442.6" cy="1970.1" rx="7" ry="3.4" transform="rotate(-37 442.6 1970.1)"/><ellipse cx="66.7" cy="1958.7" rx="9.1" ry="6" transform="rotate(-72 66.7 1958.7)"/><ellipse cx="218.6" cy="1834.5" rx="9.7" ry="4.9" transform="rotate(79 218.6 1834.5)"/><ellipse cx="333.9" cy="1836.4" rx="8.4" ry="4.6" transform="rotate(-79 333.9 1836.4)"/><ellipse cx="90.7" cy="1877.8" rx="6.3" ry="4.5" transform="rotate(-58 90.7 1877.8)"/><ellipse cx="129.8" cy="1785.7" rx="6.5" ry="3.7" transform="rotate(-25 129.8 1785.7)"/><ellipse cx="35.5" cy="1969.8" rx="8.6" ry="4.6" transform="rotate(17 35.5 1969.8)"/><ellipse cx="444.3" cy="1989" rx="8.5" ry="4.5" transform="rotate(68 444.3 1989)"/><ellipse cx="282.4" cy="2038.2" rx="12.4" ry="4.7" transform="rotate(-56 282.4 2038.2)"/><ellipse cx="313.8" cy="1908.5" rx="5.2" ry="5.9" transform="rotate(-50 313.8 1908.5)"/><ellipse cx="290.8" cy="1847" rx="12.9" ry="4.1" transform="rotate(-76 290.8 1847)"/><ellipse cx="405.7" cy="1886.7" rx="5.8" ry="3.6" transform="rotate(-76 405.7 1886.7)"/><ellipse cx="302.4" cy="1903.2" rx="12.1" ry="4.8" transform="rotate(-79 302.4 1903.2)"/><ellipse cx="148.7" cy="1873.9" rx="12.5" ry="3.2" transform="rotate(45 148.7 1873.9)"/><ellipse cx="108.7" cy="1938.1" rx="8.1" ry="4.4" transform="rotate(8 108.7 1938.1)"/><ellipse cx="196.9" cy="1792.8" rx="6" ry="3.2" transform="rotate(5 196.9 1792.8)"/><ellipse cx="304.1" cy="2063.5" rx="10.5" ry="3.1" transform="rotate(40 304.1 2063.5)"/><ellipse cx="363.4" cy="1987.2" rx="9" ry="4.1" transform="rotate(37 363.4 1987.2)"/><ellipse cx="86.5" cy="1874.6" rx="8.9" ry="5.6" transform="rotate(27 86.5 1874.6)"/><ellipse cx="154.1" cy="1828.3" rx="8.9" ry="3.8" transform="rotate(29 154.1 1828.3)"/><ellipse cx="327.8" cy="1979.4" rx="5.7" ry="5.2" transform="rotate(67 327.8 1979.4)"/><ellipse cx="66.7" cy="1868.5" rx="13" ry="3.4" transform="rotate(26 66.7 1868.5)"/><ellipse cx="416.1" cy="2011.5" rx="12.3" ry="5" transform="rotate(-71 416.1 2011.5)"/><ellipse cx="80.9" cy="1849.2" rx="6.9" ry="5" transform="rotate(4 80.9 1849.2)"/><ellipse cx="216" cy="1922.8" rx="5.9" ry="4.6" transform="rotate(28 216 1922.8)"/><ellipse cx="66.8" cy="1920.3" rx="10.7" ry="3.8" transform="rotate(-40 66.8 1920.3)"/><ellipse cx="225.6" cy="1980.7" rx="8.2" ry="6" transform="rotate(66 225.6 1980.7)"/><ellipse cx="342.4" cy="1904.2" rx="10.8" ry="5.4" transform="rotate(18 342.4 1904.2)"/><ellipse cx="247.1" cy="1909.3" rx="8.2" ry="5.1" transform="rotate(25 247.1 1909.3)"/><ellipse cx="332.1" cy="1906.1" rx="12.7" ry="4" transform="rotate(-60 332.1 1906.1)"/><ellipse cx="122.9" cy="1954.2" rx="8.2" ry="5" transform="rotate(-78 122.9 1954.2)"/><ellipse cx="161.2" cy="1922.6" rx="12.3" ry="4.4" transform="rotate(-35 161.2 1922.6)"/><ellipse cx="435.7" cy="1989.1" rx="9.9" ry="5.7" transform="rotate(-55 435.7 1989.1)"/><ellipse cx="194.7" cy="1933.7" rx="11.4" ry="3.8" transform="rotate(70 194.7 1933.7)"/><ellipse cx="277.6" cy="1911.7" rx="9.9" ry="3" transform="rotate(31 277.6 1911.7)"/><ellipse cx="234.8" cy="1919.4" rx="6.4" ry="5.1" transform="rotate(-62 234.8 1919.4)"/><ellipse cx="257.1" cy="1969.6" rx="5.5" ry="4.8" transform="rotate(5 257.1 1969.6)"/><ellipse cx="292.1" cy="1865.8" rx="11.1" ry="5.8" transform="rotate(23 292.1 1865.8)"/><ellipse cx="136.1" cy="1955.4" rx="11.7" ry="5.2" transform="rotate(-67 136.1 1955.4)"/><ellipse cx="95.7" cy="1876.8" rx="8.7" ry="3.9" transform="rotate(-78 95.7 1876.8)"/><ellipse cx="148" cy="1904.5" rx="5" ry="3.1" transform="rotate(17 148 1904.5)"/><ellipse cx="270.7" cy="1819.5" rx="10.4" ry="4.5" transform="rotate(-46 270.7 1819.5)"/><ellipse cx="235.6" cy="1927.5" rx="12.3" ry="3.2" transform="rotate(0 235.6 1927.5)"/><ellipse cx="157.4" cy="1962.3" rx="11.4" ry="5" transform="rotate(20 157.4 1962.3)"/><ellipse cx="250.5" cy="2050.9" rx="9.1" ry="3.6" transform="rotate(72 250.5 2050.9)"/><ellipse cx="255.9" cy="2028.4" rx="11.4" ry="4.9" transform="rotate(-2 255.9 2028.4)"/><ellipse cx="269.4" cy="1922.3" rx="5.5" ry="3.3" transform="rotate(17 269.4 1922.3)"/><ellipse cx="180" cy="1861.6" rx="7.9" ry="4.5" transform="rotate(-6 180 1861.6)"/><ellipse cx="225.7" cy="1796.7" rx="10.7" ry="6" transform="rotate(-25 225.7 1796.7)"/><ellipse cx="429.8" cy="1858.9" rx="5.8" ry="3.7" transform="rotate(-32 429.8 1858.9)"/><ellipse cx="105.6" cy="1798.8" rx="6.1" ry="3.8" transform="rotate(60 105.6 1798.8)"/><ellipse cx="300.5" cy="1882.8" rx="11.6" ry="4" transform="rotate(72 300.5 1882.8)"/><ellipse cx="243.8" cy="1976.4" rx="12.6" ry="5.2" transform="rotate(-6 243.8 1976.4)"/><ellipse cx="256.6" cy="1959.3" rx="5.6" ry="3.9" transform="rotate(43 256.6 1959.3)"/><ellipse cx="179.1" cy="1907.5" rx="12.1" ry="3.6" transform="rotate(17 179.1 1907.5)"/><ellipse cx="177.7" cy="1869.5" rx="12.3" ry="5.6" transform="rotate(31 177.7 1869.5)"/><ellipse cx="384.2" cy="1945.6" rx="9.3" ry="4.4" transform="rotate(-42 384.2 1945.6)"/><ellipse cx="181.6" cy="1818.8" rx="9" ry="5.9" transform="rotate(-28 181.6 1818.8)"/><ellipse cx="169.2" cy="1799.1" rx="7.9" ry="3.3" transform="rotate(-32 169.2 1799.1)"/><ellipse cx="132.2" cy="1831" rx="9.9" ry="4" transform="rotate(15 132.2 1831)"/><ellipse cx="307.1" cy="1951" rx="11.9" ry="3.5" transform="rotate(-64 307.1 1951)"/><ellipse cx="212.1" cy="2005.1" rx="6.1" ry="4.6" transform="rotate(-51 212.1 2005.1)"/><ellipse cx="172.1" cy="2001.7" rx="9.9" ry="4.2" transform="rotate(-67 172.1 2001.7)"/><ellipse cx="195.7" cy="1906.5" rx="10" ry="4" transform="rotate(79 195.7 1906.5)"/><ellipse cx="285.1" cy="1943.4" rx="9.3" ry="6" transform="rotate(22 285.1 1943.4)"/><ellipse cx="391.1" cy="1900.3" rx="8.3" ry="4.6" transform="rotate(-69 391.1 1900.3)"/></g><path d="M103.3 1809.8C104.7 1809.2 109.9 1807.4 113.1 1806.1C116.2 1804.8 120.8 1801.8 124.1 1801.2C127.4 1800.7 132.3 1801.5 135.1 1802.4C137.9 1803.4 139.9 1806.3 142.4 1807.3C145 1808.4 149.7 1809 152.2 1809.2C154.8 1809.4 158.3 1810.1 159.6 1808.6C160.9 1807 159.7 1801.3 160.8 1798.8C161.9 1796.2 164.6 1793.3 166.9 1791.4C169.3 1789.6 174 1787.8 176.7 1786.5C179.5 1785.2 183.5 1784.5 185.3 1782.9C187.1 1781.2 188.4 1776.6 189 1775.5M193.9 1786.5C193.7 1788.2 192.5 1794.2 192.7 1797.6C192.8 1800.9 194.6 1805.8 195.1 1808.6C195.7 1811.3 196.9 1814.4 196.3 1815.9C195.8 1817.4 192.2 1818 191.4 1818.4M218.4 1759.6C218.2 1761.2 217.1 1767.3 217.1 1770.6C217.1 1773.9 217.8 1778.9 218.4 1781.6C218.9 1784.4 219 1787.5 220.8 1789C222.7 1790.4 227.3 1790.1 230.6 1791.4C233.9 1792.7 239.6 1795.3 242.9 1797.6C246.2 1799.8 250.1 1803.4 252.7 1806.1C255.2 1808.9 258.9 1814.4 260 1815.9M203.7 1813.5C204.8 1813.7 208.4 1813.2 211 1814.7C213.6 1816.2 218.2 1820.9 220.8 1823.3C223.4 1825.7 226 1828.4 228.2 1830.6C230.4 1832.8 234 1835.8 235.5 1838C237 1840.2 236.9 1842.4 238 1845.3C239.1 1848.2 242.5 1853.9 242.9 1857.6C243.2 1861.2 241.1 1866.9 240.4 1869.8C239.7 1872.7 237.6 1875.7 238 1877.1C238.3 1878.6 241.8 1880.7 242.9 1879.6C244 1878.5 244.8 1872.7 245.3 1869.8C245.9 1866.9 246.3 1861.5 246.5 1860M133.9 1809.8C133.7 1811.8 133.2 1819.2 132.7 1823.3C132.1 1827.3 130.4 1832.7 130.2 1836.7C130 1840.8 131.4 1846.7 131.4 1850.2C131.4 1853.7 131.3 1857.6 130.2 1860C129.1 1862.4 125.9 1865.2 124.1 1866.1C122.2 1867 118.9 1866.1 118 1866.1M178 1808.6C178.1 1810 178.1 1815.4 179.2 1818.4C180.3 1821.3 184 1825.2 185.3 1828.2C186.6 1831.1 187.2 1834.7 187.8 1838C188.3 1841.3 189 1846.9 189 1850.2C189 1853.5 188.9 1857.1 187.8 1860C186.7 1862.9 184 1868.1 181.6 1869.8C179.2 1871.4 174 1871.4 171.8 1871C169.6 1870.7 167.9 1869.4 166.9 1867.3C166 1865.3 166.1 1860.5 165.7 1857.6C165.3 1854.6 164.7 1849.2 164.5 1847.8M164.5 1847.8C163.8 1848.9 160.5 1852.5 159.6 1855.1C158.7 1857.7 158.4 1862 158.4 1864.9C158.4 1867.8 159 1871.4 159.6 1874.7C160.1 1878 160.9 1883.8 162 1886.9C163.1 1890.1 165.1 1893.5 166.9 1895.5C168.8 1897.5 173.2 1899.7 174.3 1900.4M192.7 1838C192.3 1839.8 190.8 1846.5 190.2 1850.2C189.7 1853.9 189.3 1858.8 189 1862.4C188.6 1866.1 187.9 1872.9 187.8 1874.7M214.7 1841.6C214.7 1843.5 214.5 1850.2 214.7 1853.9C214.9 1857.6 216.1 1862.6 215.9 1866.1C215.7 1869.6 213.5 1874 213.5 1877.1C213.5 1880.3 214.8 1884 215.9 1886.9C217 1889.9 219.7 1893.4 220.8 1896.7C221.9 1900 222.2 1906.2 223.3 1909C224.4 1911.7 226 1914 228.2 1915.1C230.4 1916.2 235.2 1916.9 238 1916.3C240.7 1915.8 245.2 1912.2 246.5 1911.4M88.6 1850.2C89.7 1850 93.3 1849.5 95.9 1849C98.5 1848.4 103.5 1846 105.7 1846.5C107.9 1847.1 109.1 1850.6 110.6 1852.7C112.1 1854.7 114.4 1858 115.5 1860C116.6 1862 117.6 1865.2 118 1866.1M86.1 1853.9C85.8 1855.5 85.5 1862.5 83.7 1864.9C81.8 1867.3 76.1 1868.3 73.9 1869.8C71.7 1871.3 70.3 1872.1 69 1874.7C67.7 1877.3 65.9 1883.3 65.3 1886.9C64.8 1890.6 65.1 1895.5 65.3 1899.2C65.5 1902.9 66.5 1908.1 66.5 1911.4C66.5 1914.7 64.9 1918.7 65.3 1921.2C65.7 1923.8 67.3 1926.6 69 1928.6C70.6 1930.6 73.8 1933.6 76.3 1934.7C78.9 1935.8 83.6 1935.9 86.1 1935.9C88.7 1935.9 92.4 1934.9 93.5 1934.7M73.9 1869.8C74.4 1871.1 77.6 1875.6 77.6 1878.4C77.6 1881.1 73.9 1885.4 73.9 1888.2C73.9 1890.9 75.7 1894.3 77.6 1896.7C79.4 1899.1 83.7 1903.2 86.1 1904.1C88.5 1905 90.9 1903.4 93.5 1902.9C96 1902.3 101.4 1900.6 103.3 1900.4C105.1 1900.2 105.3 1901.4 105.7 1901.6M100.8 1878.4C100.8 1880 100.1 1886.4 100.8 1889.4C101.6 1892.3 103.5 1896.7 105.7 1898C107.9 1899.2 112.6 1898.1 115.5 1898C118.4 1897.8 122.4 1897.1 125.3 1896.7C128.2 1896.4 132.7 1895.3 135.1 1895.5C137.5 1895.7 140.3 1897.6 141.2 1898M124.1 1867.3C124.6 1868.4 126.5 1872.1 127.8 1874.7C129 1877.3 131.4 1881.9 132.7 1884.5C133.9 1887.1 135 1889.6 136.3 1891.8C137.6 1894 139.6 1897.5 141.2 1899.2C142.9 1900.8 145.3 1902.1 147.3 1902.9C149.4 1903.6 153.6 1903.9 154.7 1904.1M105.7 1902.9C106.8 1904 111.6 1908.2 113.1 1910.2C114.5 1912.2 114.4 1914.3 115.5 1916.3C116.6 1918.3 118.6 1921.8 120.4 1923.7C122.2 1925.5 125.6 1927.5 127.8 1928.6C130 1929.7 134 1930.7 135.1 1931M142.4 1899.2C143.2 1901 145.5 1908.9 147.3 1911.4C149.2 1914 152.5 1915.4 154.7 1916.3C156.9 1917.2 159.8 1917.6 162 1917.6C164.2 1917.6 167.4 1917.4 169.4 1916.3C171.4 1915.2 174.8 1912.6 175.5 1910.2C176.2 1907.8 174.5 1901.9 174.3 1900.4M56.7 1866.1C57.5 1866.9 59.8 1869.7 61.6 1871C63.5 1872.3 67.9 1874.1 69 1874.7M35.9 1915.1C36.5 1915.7 39 1916.8 39.6 1918.8C40.1 1920.8 40 1925.4 39.6 1928.6C39.2 1931.7 37.5 1938.3 37.1 1940M87.3 1907.8C87.3 1909.2 86.9 1914.6 86.7 1917.6C86.6 1920.5 86.2 1925.9 86.1 1927.3M176.7 1902.9C177.1 1904.1 178.1 1908.9 179.2 1911.4C180.3 1914 183.3 1918.7 184.1 1920M162 1917.6C162.8 1919 165.5 1924.6 166.9 1927.3C168.4 1930.1 171.1 1934.6 171.8 1935.9M258.4 1766.9C258.7 1768.4 259.3 1774.2 260.8 1776.7C262.3 1779.3 266.5 1781.7 268.2 1784.1C269.8 1786.5 270.6 1790.1 271.8 1792.7C273.1 1795.2 275.6 1798.5 276.7 1801.2C277.8 1804 278.6 1807.7 279.2 1811C279.7 1814.3 280.2 1821.4 280.4 1823.3M280.4 1801.2C281.7 1800.5 285.9 1797.2 289 1796.3C292.1 1795.4 297.6 1794.9 301.2 1795.1C304.9 1795.3 309.8 1796.4 313.5 1797.6C317.1 1798.7 322.4 1800.8 325.7 1802.4C329 1804.1 332.8 1806.6 335.5 1808.6C338.3 1810.6 342.2 1813.3 344.1 1815.9C345.9 1818.5 346.8 1822.4 347.8 1825.7C348.7 1829 349.5 1835.2 350.2 1838C350.9 1840.7 352.3 1843.2 352.7 1844.1M302.4 1819.6C303.4 1819.4 306.2 1818.2 308.6 1818.4C311 1818.6 315.4 1819.7 318.4 1820.8C321.3 1821.9 325.8 1823.9 328.2 1825.7C330.6 1827.6 332.8 1830.5 334.3 1833.1C335.8 1835.6 337.4 1839.9 338 1842.9C338.5 1845.8 338.3 1850.3 338 1852.7C337.6 1855 337.3 1857.5 335.5 1858.8C333.7 1860.1 328.7 1861 325.7 1861.2C322.8 1861.4 318.5 1860.9 315.9 1860C313.3 1859.1 310 1856.9 308.6 1855.1C307.1 1853.3 305.9 1850 306.1 1847.8C306.3 1845.6 308.7 1842.6 309.8 1840.4C310.9 1838.2 313.5 1835.3 313.5 1833.1C313.5 1830.9 311.4 1827.7 309.8 1825.7C308.1 1823.7 303.6 1820.5 302.4 1819.6M280.4 1823.3C278.9 1823.1 273.4 1821.3 270.6 1822C267.9 1822.8 263.9 1825.8 262 1828.2C260.2 1830.6 258 1835 258.4 1838C258.7 1840.9 262.7 1845 264.5 1847.8C266.3 1850.5 269.3 1853.4 270.6 1856.3C271.9 1859.3 272.3 1864.2 273.1 1867.3C273.8 1870.5 275 1874.2 275.5 1877.1C276.1 1880.1 276.2 1883.6 276.7 1886.9C277.3 1890.2 279 1895.9 279.2 1899.2C279.4 1902.5 277.4 1906 278 1909C278.5 1911.9 281.8 1915.8 282.9 1918.8C284 1921.7 285.7 1926.4 285.3 1928.6C284.9 1930.8 281.1 1932.7 280.4 1933.5M304.9 1852.7C305.8 1854.1 309.6 1859.9 311 1862.4C312.5 1865 314.3 1867.6 314.7 1869.8C315.1 1872 314.8 1875.3 313.5 1877.1C312.2 1879 307.2 1881.3 306.1 1882M313.5 1869.8C315.3 1870.5 323.5 1872.5 325.7 1874.7C327.9 1876.9 327.1 1882.1 328.2 1884.5C329.3 1886.9 330.9 1889.3 333.1 1890.6C335.3 1891.9 339.6 1893.4 342.9 1893.1C346.2 1892.7 351.8 1890 355.1 1888.2C358.4 1886.3 363.6 1883.2 364.9 1880.8C366.2 1878.4 364.2 1874.6 363.7 1872.2C363.1 1869.9 361.6 1867.3 361.2 1864.9C360.9 1862.5 361.8 1858.9 361.2 1856.3C360.7 1853.8 359.6 1848.7 357.6 1847.8C355.5 1846.8 350.7 1849.5 347.8 1850.2C344.8 1850.9 339.4 1852.3 338 1852.7M363.7 1864.9C364.6 1863.8 367.8 1859.2 369.8 1857.6C371.8 1855.9 374.6 1854.2 377.1 1853.9C379.7 1853.5 384.7 1853.8 386.9 1855.1C389.1 1856.4 391.3 1859.9 391.8 1862.4C392.4 1865 391.3 1869.1 390.6 1872.2C389.9 1875.4 386 1882.5 386.9 1883.3C387.9 1884 393.6 1878.4 396.7 1877.1C399.9 1875.9 404.4 1874.7 407.8 1874.7C411.1 1874.7 416 1876.2 418.8 1877.1C421.5 1878.1 425 1880.3 426.1 1880.8M350.2 1820.8C351.3 1821.2 355 1822.5 357.6 1823.3C360.1 1824 365.3 1824.2 367.3 1825.7C369.4 1827.2 369.9 1831.2 371 1833.1C372.1 1834.9 373 1836.9 374.7 1838C376.3 1839.1 380.2 1838.9 382 1840.4C383.9 1841.9 385.7 1845.4 386.9 1847.8C388.2 1850.1 390.1 1855 390.6 1856.3M379.6 1815.9C380 1817.4 381.5 1822.8 382 1825.7C382.6 1828.7 383.1 1834 383.3 1835.5M402.9 1861.2C404.1 1861 409 1859.8 411.4 1860C413.8 1860.2 416.2 1860.6 418.8 1862.4C421.3 1864.3 426.7 1869.9 428.6 1872.2C430.4 1874.6 430.7 1877.4 431 1878.4M384.5 1886.9C384.7 1888.4 386.4 1894.2 385.7 1896.7C385 1899.3 381.2 1902.2 379.6 1904.1C377.9 1905.9 375.1 1907.5 374.7 1909C374.3 1910.4 375.3 1913.5 377.1 1913.9C379 1914.2 384 1913.1 386.9 1911.4C389.9 1909.8 394.2 1905.1 396.7 1902.9C399.3 1900.7 401.5 1898.6 404.1 1896.7C406.7 1894.9 412 1890.4 413.9 1890.6C415.7 1890.8 414.5 1897.2 416.3 1898C418.2 1898.7 423.2 1897.2 426.1 1895.5C429.1 1893.9 433.3 1888.6 435.9 1886.9C438.5 1885.3 442.2 1884.9 443.3 1884.5M315.9 1889.4C315.6 1890.9 313.1 1896.2 313.5 1899.2C313.8 1902.1 317.3 1906 318.4 1909C319.5 1911.9 320.8 1915.8 320.8 1918.8C320.8 1921.7 318.7 1927.1 318.4 1928.6M363.7 1894.3C362.8 1895.4 359.6 1899.4 357.6 1901.6C355.5 1903.8 351.7 1906.4 350.2 1909C348.7 1911.6 348.9 1915.8 347.8 1918.8C346.7 1921.7 344 1925.6 342.9 1928.6C341.8 1931.5 340.8 1936.9 340.4 1938.4M289 1907.8C289.5 1908.7 292.3 1911.9 292.7 1913.9C293 1915.9 291.6 1920.1 291.4 1921.2M428.6 1904.1C429.3 1905.9 432.9 1912.7 433.5 1916.3C434 1920 431.9 1925.6 432.2 1928.6C432.6 1931.5 435.4 1934.8 435.9 1935.9M374.7 1913.9C375.6 1915 378.6 1919.8 380.8 1921.2C383 1922.7 387 1922.2 389.4 1923.7C391.8 1925.1 395.6 1929.9 396.7 1931M240 1801.2C241.1 1802.3 245.1 1806.4 247.3 1808.6C249.6 1810.8 253 1813.3 254.7 1815.9C256.3 1818.5 257.8 1824.2 258.4 1825.7M240 1844.1C240.6 1845.9 242.9 1852.7 243.7 1856.3C244.4 1860 244.7 1866.7 244.9 1868.6M308.6 1895.5C308.6 1897 308 1902 308.6 1905.3C309.1 1908.6 311.9 1914.1 312.2 1917.6C312.6 1921 311.6 1925.8 311 1928.6C310.5 1931.3 308.9 1934.8 308.6 1935.9M35.9 1913.7C36.5 1914.4 38.3 1919 39.6 1918.6C40.9 1918.2 43.9 1913.8 44.5 1911.2C45 1908.7 43.4 1902.9 43.3 1901.4M65.3 1899C65.3 1900.8 65.1 1907.6 65.3 1911.2C65.5 1914.9 65.6 1920.6 66.5 1923.5C67.4 1926.4 69.6 1929 71.4 1930.8C73.3 1932.7 76.2 1935 78.8 1935.7C81.3 1936.5 86 1936.1 88.6 1935.7C91.1 1935.4 95.2 1934.2 95.9 1933.3C96.7 1932.4 94.6 1929.8 93.5 1929.6C92.4 1929.4 89.3 1931.7 88.6 1932.1M87.3 1906.3C87.2 1907.8 86.5 1913.6 86.1 1916.1C85.8 1918.7 85.1 1922.4 84.9 1923.5M31 1960.2C31.9 1959.1 35.5 1954.9 37.1 1952.9C38.8 1950.9 40.2 1948.4 42 1946.8C43.9 1945.1 46.8 1942.8 49.4 1941.9C52 1940.9 56.2 1941 59.2 1940.6C62.1 1940.3 66.4 1939.8 69 1939.4C71.6 1939 75.2 1938.4 76.3 1938.2M113.1 1911.2C113.8 1912.5 116.1 1917.6 118 1919.8C119.8 1922 123.1 1924.5 125.3 1925.9C127.5 1927.4 132.3 1928.5 132.7 1929.6C133 1930.7 129 1931.8 127.8 1933.3C126.5 1934.8 125.9 1937.2 124.1 1939.4C122.2 1941.6 117.9 1945.6 115.5 1948C113.1 1950.4 110.4 1953.1 108.2 1955.3C106 1957.5 103.4 1961 100.8 1962.7C98.2 1964.3 94.3 1965.6 91 1966.3C87.7 1967.1 82.1 1967.2 78.8 1967.6C75.5 1967.9 71.9 1968.8 69 1968.8C66 1968.8 61.2 1968.5 59.2 1967.6C57.2 1966.7 56.2 1961.9 55.5 1962.7C54.8 1963.4 54.1 1969.5 54.3 1972.5C54.5 1975.4 55.4 1979.7 56.7 1982.3C58 1984.8 61 1987.6 62.9 1989.6C64.7 1991.6 68.1 1994.8 69 1995.7M122.9 1943.1C123 1944.7 123.7 1950.8 124.1 1954.1C124.4 1957.4 124.8 1962 125.3 1965.1C125.9 1968.2 127.6 1972 127.8 1974.9C127.9 1977.9 126.9 1981.8 126.5 1984.7C126.2 1987.7 125.3 1992.1 125.3 1994.5C125.3 1996.9 126.3 1999.7 126.5 2000.6M132.7 1933.3C133 1934.6 133.6 1939.3 135.1 1941.9C136.6 1944.4 140.4 1947.7 142.4 1950.4C144.5 1953.2 146.7 1957.5 148.6 1960.2C150.4 1963 152.7 1966.6 154.7 1968.8C156.7 1971 159.5 1973.8 162 1974.9C164.6 1976 168.9 1976.1 171.8 1976.1C174.8 1976.1 179.1 1975.7 181.6 1974.9C184.2 1974.2 187.1 1972.7 189 1971.2C190.8 1969.8 192.8 1967.1 193.9 1965.1C195 1963.1 196 1958.9 196.3 1957.8M164.5 1929.6C164.3 1931.1 162.9 1936.7 163.3 1939.4C163.6 1942.2 165.7 1945.6 166.9 1948C168.2 1950.4 171.1 1952.9 171.8 1955.3C172.6 1957.7 171.8 1962.6 171.8 1963.9M171.8 1939.4C172.9 1938.9 177.3 1935.9 179.2 1935.7C181 1935.6 182.6 1936.7 184.1 1938.2C185.6 1939.7 188.2 1944.4 189 1945.5M100.8 1989.6C101.9 1988.9 105.6 1985.6 108.2 1984.7C110.7 1983.8 115.4 1983.9 118 1983.5C120.5 1983.1 124.2 1982.4 125.3 1982.3M157.1 2004.3C158.2 2003.9 161.9 2002.4 164.5 2001.9C167.1 2001.3 171.3 2001 174.3 2000.6C177.2 2000.3 181.1 1999.8 184.1 1999.4C187 1999 190.9 1998.2 193.9 1998.2C196.8 1998.2 200.7 1998.9 203.7 1999.4C206.6 2000 210.5 2001.3 213.5 2001.9C216.4 2002.4 220.7 2003.1 223.3 2003.1C225.8 2003.1 228.8 2002.8 230.6 2001.9C232.4 2000.9 234.4 1998.4 235.5 1997C236.6 1995.5 237.6 1992.8 238 1992.1M222 1965.1C222 1966.6 222.2 1972 222 1974.9C221.9 1977.9 221 1983.2 220.8 1984.7M235.5 2033.7C236.6 2033.3 240.7 2032.7 242.9 2031.2C245.1 2029.8 248.7 2026.1 250.2 2023.9C251.7 2021.7 251.2 2018 252.7 2016.6C254.1 2015.1 258.9 2014.5 260 2014.1M201.2 1957.8C202.7 1957.4 208.1 1955.3 211 1955.3C214 1955.3 218.2 1956.5 220.8 1957.8C223.4 1959.1 226 1962.4 228.2 1963.9C230.4 1965.4 232.9 1966.8 235.5 1967.6C238.1 1968.3 241.6 1968.8 245.3 1968.8C249 1968.8 257.8 1967.8 260 1967.6M184.1 1930.8C185.2 1931.9 189.2 1936.3 191.4 1938.2C193.6 1940 196.2 1942 198.8 1943.1C201.3 1944.2 205.6 1944.8 208.6 1945.5C211.5 1946.3 215.4 1946.7 218.4 1948C221.3 1949.3 224.9 1952.4 228.2 1954.1C231.5 1955.8 236.7 1957.5 240.4 1959C244.1 1960.5 250.8 1963.2 252.7 1963.9M160.8 1911.2C161 1912.5 161.1 1917.4 162 1919.8C163 1922.2 165.1 1925.3 166.9 1927.2C168.8 1929 173.2 1931.3 174.3 1932.1M144.9 1903.9C145.6 1905.4 148 1911.5 149.8 1913.7C151.6 1915.9 155.1 1917.5 157.1 1918.6C159.2 1919.7 162.3 1920.7 163.3 1921M176.7 1903.9C176.9 1905.4 177.2 1910.8 178 1913.7C178.7 1916.6 180.3 1920.9 181.6 1923.5C182.9 1926.1 185.8 1929.7 186.5 1930.8M347.8 2021.4C347.4 2019.6 346.4 2012.5 345.3 2009.2C344.2 2005.9 341.9 2002.2 340.4 1999.4C338.9 1996.7 337 1993.4 335.5 1990.8C334 1988.3 332.1 1984.7 330.6 1982.3C329.1 1979.9 327.6 1977.1 325.7 1974.9C323.9 1972.7 320.9 1969.8 318.4 1967.6C315.8 1965.4 311.5 1962.1 308.6 1960.2C305.6 1958.4 301.3 1956.8 298.8 1955.3C296.2 1953.9 293.3 1951.9 291.4 1950.4C289.6 1949 287.3 1946.3 286.5 1945.5M330.6 1982.3C331 1980.8 332 1975 333.1 1972.5C334.2 1969.9 335.4 1967 338 1965.1C340.5 1963.3 346.5 1961.5 350.2 1960.2C353.9 1958.9 359.9 1956.2 362.4 1956.6C365 1956.9 366.2 1962.9 367.3 1962.7C368.4 1962.5 370.2 1957 369.8 1955.3C369.4 1953.7 365.6 1952.2 364.9 1951.7M333.1 1977.4C333.8 1978.5 336.1 1982.9 338 1984.7C339.8 1986.6 342.7 1988.1 345.3 1989.6C347.9 1991.1 352.2 1993 355.1 1994.5C358 1996 362 1998.1 364.9 1999.4C367.8 2000.7 371.4 2002.7 374.7 2003.1C378 2003.4 383.3 2002.8 386.9 2001.9C390.6 2000.9 395.5 1998.4 399.2 1997C402.9 1995.5 408.1 1993.5 411.4 1992.1C414.7 1990.6 418.3 1988.6 421.2 1987.2C424.2 1985.7 428.4 1984.1 431 1982.3C433.6 1980.4 436.2 1976.8 438.4 1974.9C440.6 1973.1 443.5 1971.1 445.7 1970C447.9 1968.9 452 1967.9 453.1 1967.6M345.3 2009.2C346.8 2009 351.8 2008.7 355.1 2008C358.4 2007.2 364.4 2005 367.3 2004.3C370.3 2003.6 373.6 2003.3 374.7 2003.1M362.4 1956.6C364.3 1956.2 371.4 1953.9 374.7 1954.1C378 1954.3 381.6 1957.4 384.5 1957.8C387.4 1958.1 392.1 1957.5 394.3 1956.6C396.5 1955.6 397 1952.9 399.2 1951.7C401.4 1950.4 406.6 1949.6 409 1948C411.4 1946.3 414.7 1942.5 415.1 1940.6C415.5 1938.8 413.1 1936.7 411.4 1935.7C409.8 1934.8 406.3 1934.5 404.1 1934.5C401.9 1934.5 397.8 1935.6 396.7 1935.7M384.5 1957.8C384.9 1959.2 386.9 1965 386.9 1967.6C386.9 1970.1 386 1973.1 384.5 1974.9C383 1976.8 379.7 1979.3 377.1 1979.8C374.6 1980.4 369.9 1979.3 367.3 1978.6C364.8 1977.9 361.1 1975.5 360 1974.9M416.3 1957.8C417.8 1958 423.2 1958.6 426.1 1959C429.1 1959.4 433.5 1959.7 435.9 1960.2C438.3 1960.8 441.1 1962.3 442 1962.7M431 1913.7C431 1915.2 430.7 1920.6 431 1923.5C431.4 1926.4 432 1931.1 433.5 1933.3C434.9 1935.5 439.7 1936 440.8 1938.2C441.9 1940.4 440.6 1945 440.8 1948C441 1950.9 441.7 1954.8 442 1957.8C442.4 1960.7 443.1 1966.1 443.3 1967.6M440.8 1938.2C442.3 1937.8 448 1936.5 450.6 1935.7C453.2 1935 456.9 1933.7 458 1933.3M352.7 1911.2C351.9 1912.7 349.2 1918.1 347.8 1921C346.3 1924 343.8 1927.9 342.9 1930.8C341.9 1933.8 341.6 1937.7 341.6 1940.6C341.6 1943.6 343 1948.2 342.9 1950.4C342.7 1952.6 340.8 1954.6 340.4 1955.3M355.1 1921C354.4 1922.5 351.3 1927.9 350.2 1930.8C349.1 1933.8 348.1 1939.2 347.8 1940.6M377.1 1913.7C378.2 1914.4 382.3 1916.8 384.5 1918.6C386.7 1920.4 390 1924.1 391.8 1925.9C393.7 1927.8 396 1930.1 396.7 1930.8M396.7 1925.9C397.8 1925.6 401.5 1924.2 404.1 1923.5C406.7 1922.8 412.4 1921.4 413.9 1921M306.1 1935.7C306.5 1937.2 307.5 1943 308.6 1945.5C309.7 1948.1 312.4 1950.7 313.5 1952.9C314.6 1955.1 315.6 1959.1 315.9 1960.2M279.2 1935.7C280.7 1936.5 286 1939.9 289 1940.6C291.9 1941.4 296.6 1941.2 298.8 1940.6C301 1940.1 302.2 1938.4 303.7 1937C305.1 1935.5 307.5 1932.9 308.6 1930.8C309.7 1928.8 310.7 1924.6 311 1923.5M286.5 1906.3C286.9 1907.4 288.1 1911.5 289 1913.7C289.9 1915.9 292.5 1919.2 292.7 1921C292.8 1922.9 290.6 1925.2 290.2 1925.9M315.9 1905.1C316.7 1906.4 320.1 1910.9 320.8 1913.7C321.6 1916.4 320.8 1922 320.8 1923.5M240 1972.5C241.5 1972.8 246.9 1974.2 249.8 1974.9C252.7 1975.7 256.3 1976.6 259.6 1977.4C262.9 1978.1 268.5 1978.7 271.8 1979.8C275.1 1980.9 279.1 1983.2 281.6 1984.7C284.2 1986.2 287.1 1987.8 289 1989.6C290.8 1991.4 292 1994.8 293.9 1997C295.7 1999.2 299.4 2002.1 301.2 2004.3C303.1 2006.5 304.7 2009.4 306.1 2011.7C307.6 2013.9 309.9 2016.6 311 2019C312.1 2021.4 312.7 2025.6 313.5 2027.6C314.2 2029.6 315.6 2031.7 315.9 2032.5M240 1992.1C241.5 1992.8 246.9 1995.1 249.8 1997C252.7 1998.8 257 2001.9 259.6 2004.3C262.2 2006.7 265.1 2010.3 266.9 2012.9C268.8 2015.4 270.7 2018.7 271.8 2021.4C272.9 2024.2 273.6 2028.3 274.3 2031.2C275 2034.2 275.6 2038.5 276.7 2041C277.8 2043.6 280.2 2046.4 281.6 2048.4C283.1 2050.4 285.4 2053 286.5 2054.5C287.6 2056 288.6 2057.6 289 2058.2M252.2 2016.6C253 2017.7 255.7 2021.3 257.1 2023.9C258.6 2026.5 261.3 2032.2 262 2033.7M306.1 2033.7C307.2 2033.3 310.9 2031.8 313.5 2031.2C316 2030.7 320.3 2030.8 323.3 2030C326.2 2029.3 330.9 2028.4 333.1 2026.3C335.3 2024.3 337.4 2019.5 338 2016.6C338.5 2013.6 336.9 2008.2 336.7 2006.8M298.8 2031.2C299.9 2032 304.3 2034.3 306.1 2036.1C308 2038 309.6 2040.9 311 2043.5C312.5 2046.1 314.8 2050.9 315.9 2053.3C317 2055.7 318 2058.5 318.4 2059.4M240 2027.6C241.1 2028.5 245.5 2031.3 247.3 2033.7C249.2 2036.1 251.1 2040.6 252.2 2043.5C253.3 2046.4 254.1 2050.5 254.7 2053.3C255.2 2056 255.7 2060.6 255.9 2061.9M269.4 1967.6C270.9 1968.3 275.9 1971 279.2 1972.5C282.5 1973.9 288.5 1976.6 291.4 1977.4C294.4 1978.1 297.7 1977.4 298.8 1977.4" fill="none" stroke="#6e6e6e" stroke-width="0.9" stroke-opacity="0.6" stroke-linecap="round" stroke-linejoin="round" filter="url(#sulS)"/><path d="M121.6 1795.1C122 1794 129.5 1791.6 132.7 1791.4C135.8 1791.2 139.9 1792.4 142.4 1793.9C145 1795.3 148 1799.2 149.8 1801.2C151.6 1803.2 155.8 1807 154.7 1807.3C153.6 1807.7 146.1 1805 142.4 1803.7C138.8 1802.4 133.3 1800.1 130.2 1798.8C127.1 1797.5 121.3 1796.2 121.6 1795.1Z" fill="#8a8a8a" opacity="0.7" filter="url(#bl2)"/><path d="M240 1757.1C242.4 1758.1 246.5 1761.7 249.8 1763.3C253.1 1764.8 255.9 1765.9 259.6 1766.3C263.3 1766.7 267.3 1765.7 271.8 1765.7C276.3 1765.7 281.6 1765.7 286.5 1766.3C291.4 1766.9 296.7 1768.1 301.2 1769.4C305.7 1770.7 309.8 1772.2 313.5 1774.3C317.1 1776.3 319.8 1780 323.3 1781.6C326.7 1783.3 330.6 1782.9 334.3 1784.1C338 1785.3 342.9 1786.5 345.3 1789C347.8 1791.4 346.9 1797 349 1798.8C351 1800.5 354.5 1798.8 357.6 1799.4C360.6 1800 364.1 1800.9 367.3 1802.4C370.6 1804 373.9 1806.3 377.1 1808.6C380.4 1810.8 383.7 1813.5 386.9 1815.9C390.2 1818.4 393.9 1820.8 396.7 1823.3C399.6 1825.7 402.2 1827.8 404.1 1830.6C405.9 1833.5 405.7 1838.4 407.8 1840.4C409.8 1842.4 413.3 1841.2 416.3 1842.9C419.4 1844.5 423.3 1847.3 426.1 1850.2C429 1853.1 431.8 1856.7 433.5 1860C435.1 1863.3 434.3 1866.9 435.9 1869.8C437.6 1872.7 441.6 1874.3 443.3 1877.1C444.9 1880 444.5 1883.7 445.7 1886.9C446.9 1890.2 449.2 1893.3 450.6 1896.7C452 1900.2 453.5 1904.1 454.3 1907.8C455.1 1911.4 454.9 1915.3 455.5 1918.8C456.1 1922.2 457.4 1925.1 458 1928.6C458.5 1932 458.2 1936.2 458.6 1939.4C459 1942.6 460.1 1944.9 460.4 1948C460.7 1951 461 1954.5 460.4 1957.8C459.8 1961 457.8 1964.1 456.7 1967.6C455.7 1971 455.7 1974.9 454.3 1978.6C452.9 1982.3 450 1986.1 448.2 1989.6C446.3 1993.1 445.3 1996.6 443.3 1999.4C441.2 2002.3 438.8 2004.5 435.9 2006.8C433.1 2009 429.4 2011 426.1 2012.9C422.9 2014.7 420 2016.3 416.3 2017.8C412.7 2019.2 408.2 2020.2 404.1 2021.4C400 2022.7 395.9 2024.2 391.8 2025.1C387.8 2026 383.7 2027 379.6 2027C375.5 2027 371 2025.6 367.3 2025.1C363.7 2024.6 360.8 2024.5 357.6 2023.9C354.3 2023.3 349.6 2020.6 347.8 2021.4C345.9 2022.3 346.5 2025.7 346.5 2028.8C346.5 2031.9 348 2036.6 347.8 2039.8C347.6 2043.1 346.9 2045.7 345.3 2048.4C343.7 2051 340.8 2053.7 338 2055.7C335.1 2057.8 331.8 2059.2 328.2 2060.6C324.5 2062.1 319.6 2063.1 315.9 2064.3C312.2 2065.5 309.8 2066.6 306.1 2068C302.4 2069.4 298 2071.4 293.9 2072.9C289.8 2074.3 285.7 2076.1 281.6 2076.6C277.6 2077 273 2076.3 269.4 2075.3C265.8 2074.3 262.4 2072.3 260 2070.4C257.6 2068.6 256.9 2066.3 255.1 2064.3C253.3 2062.3 250.8 2060.2 249 2058.2C247.1 2056.1 245.5 2054.5 244.1 2052.1C242.7 2049.6 241.8 2045.9 240.4 2043.5C239 2041 237.6 2039.2 235.5 2037.4C233.5 2035.5 231 2033.9 228.2 2032.5C225.3 2031 221.6 2030 218.4 2028.8C215.1 2027.6 211.8 2026.1 208.6 2025.1C205.3 2024.1 202 2023.1 198.8 2022.7C195.5 2022.3 192.4 2022.9 189 2022.7C185.5 2022.5 181.6 2022.3 178 2021.4C174.3 2020.6 170.8 2019 166.9 2017.8C163.1 2016.6 158.4 2015.5 154.7 2014.1C151 2012.7 148.2 2010.5 144.9 2009.2C141.6 2007.9 138.4 2007.4 135.1 2006.1C131.8 2004.9 128.6 2003.1 125.3 2001.9C122 2000.6 118.8 1999.6 115.5 1998.8C112.2 1998 108.6 1997.5 105.7 1997C102.9 1996.4 101.2 1995.5 98.4 1995.7C95.5 1995.9 92.2 1997.4 88.6 1998.2C84.9 1999 80.4 2000.4 76.3 2000.6C72.2 2000.8 68.2 2000 64.1 1999.4C60 1998.8 55.5 1998.2 51.8 1997C48.2 1995.7 44.7 1994.1 42 1992.1C39.4 1990 37.8 1987.6 35.9 1984.7C34.1 1981.9 32.4 1978.2 31 1974.9C29.6 1971.7 28.4 1968.8 27.3 1965.1C26.3 1961.4 25.3 1957 24.9 1952.9C24.5 1948.8 24.7 1943.9 24.9 1940.6C25.1 1937.4 25.5 1936.3 26.1 1933.5C26.7 1930.6 27.3 1926.7 28.6 1923.7C29.8 1920.6 32 1918.2 33.5 1915.1C34.9 1912 35.7 1908.4 37.1 1905.3C38.6 1902.2 40.4 1899.8 42 1896.7C43.7 1893.7 45.3 1890.6 46.9 1886.9C48.6 1883.3 50.2 1878.4 51.8 1874.7C53.5 1871 55.1 1868 56.7 1864.9C58.4 1861.8 60.2 1859.2 61.6 1856.3C63.1 1853.5 63.7 1850.6 65.3 1847.8C66.9 1844.9 69.2 1841.2 71.4 1839.2C73.7 1837.1 77.1 1838.2 78.8 1835.5C80.4 1832.9 80 1826.9 81.2 1823.3C82.4 1819.6 84.1 1815.8 86.1 1813.5C88.2 1811.1 90.6 1809.8 93.5 1809.2C96.3 1808.6 102 1810.9 103.3 1809.8C104.5 1808.7 100.4 1804.9 100.8 1802.4C101.2 1800 103.3 1798.4 105.7 1795.1C108.2 1791.8 111.8 1785.5 115.5 1782.9C119.2 1780.2 124.1 1780.8 127.8 1779.2C131.4 1777.6 133.9 1775.3 137.6 1773.1C141.2 1770.8 145.7 1768.1 149.8 1765.7C153.9 1763.4 156.3 1760.6 162 1759C167.8 1757.3 177.1 1756.8 184.1 1755.9C191 1755 198 1752.9 203.7 1753.5C209.4 1754.1 213.1 1758.9 218.4 1759.6C223.7 1760.2 231.9 1757.8 235.5 1757.4C239.1 1757 237.6 1756.2 240 1757.1Z" fill="none" stroke="#b9b9b9" stroke-width="1.4" filter="url(#edgS)"/></g></g>
<circle cx="256.4" cy="1536.7" r="1.5" fill="#c5dcef"/><circle cx="262.8" cy="1652.2" r="1.2" fill="#c5dcef"/><circle cx="293.9" cy="1586.1" r="1.5" fill="#c5dcef"/><circle cx="298.8" cy="1591" r="1.2" fill="#c5dcef"/><circle cx="202" cy="1581.2" r="1.2" fill="#c5dcef"/><circle cx="222.9" cy="1575.1" r="1.2" fill="#c5dcef"/><circle cx="172.7" cy="1605.7" r="1" fill="#c5dcef"/><circle cx="210.6" cy="1588.6" r="2.9" fill="#9fc8e4"/><circle cx="206.9" cy="1580.5" r="2.2" fill="#9fc8e4"/><circle cx="255.2" cy="1613.1" r="2.4" fill="#9fc8e4"/><circle cx="257.1" cy="1642.5" r="2.2" fill="#9fc8e4"/><circle cx="200.8" cy="1627.8" r="2.2" fill="#9fc8e4"/><circle cx="280.9" cy="1572.7" r="2" fill="#9fc8e4"/><circle cx="235.1" cy="1600.8" r="2" fill="#9fc8e4"/><circle cx="205.2" cy="1610.6" r="2" fill="#9fc8e4"/><circle cx="197.9" cy="1620.4" r="2" fill="#9fc8e4"/><circle cx="281.6" cy="1593.5" r="2" fill="#9fc8e4"/><circle cx="241.2" cy="1606.9" r="2" fill="#9fc8e4"/><circle cx="255.9" cy="1595.9" r="3.2" fill="#6aaad6"/><circle cx="187.1" cy="1627" r="2.9" fill="#6aaad6"/><circle cx="218.5" cy="1581.2" r="2.9" fill="#6aaad6"/><circle cx="225.8" cy="1586.1" r="2.9" fill="#6aaad6"/><circle cx="243.9" cy="1592.2" r="2.9" fill="#6aaad6"/><circle cx="247.3" cy="1601.3" r="2.9" fill="#6aaad6"/><circle cx="274.8" cy="1596.4" r="2.9" fill="#6aaad6"/><circle cx="287.8" cy="1587.6" r="2.9" fill="#6aaad6"/><circle cx="292.7" cy="1576.8" r="2.2" fill="#6aaad6"/><circle cx="261.6" cy="1591.5" r="2.4" fill="#6aaad6"/><circle cx="220.4" cy="1608.2" r="2.2" fill="#6aaad6"/><circle cx="284.1" cy="1581.2" r="2.2" fill="#6aaad6"/><circle cx="212.6" cy="1602.8" r="3.9" fill="#3f87c6"/><circle cx="216.7" cy="1614.8" r="3.9" fill="#3f87c6"/><circle cx="247.3" cy="1611.1" r="3.9" fill="#3f87c6"/><circle cx="265.7" cy="1598.9" r="4.4" fill="#3f87c6"/><circle cx="232.2" cy="1583.7" r="3.9" fill="#3f87c6"/><circle cx="237.6" cy="1614.8" r="3.4" fill="#3f87c6"/><circle cx="205.7" cy="1621.1" r="4.9" fill="#1d5fb0"/><circle cx="229.5" cy="1613.8" r="4.9" fill="#1d5fb0"/><circle cx="224.6" cy="1600.8" r="4.9" fill="#1d5fb0"/><circle cx="270.6" cy="1588.1" r="5.4" fill="#1d5fb0"/><circle cx="276.7" cy="1581.7" r="4.4" fill="#1d5fb0"/><circle cx="287" cy="1578" r="4.4" fill="#1d5fb0"/>
<path d="M266.2 1534.7h0M312.2 1546.9h0M314 1546.2h0M241.2 1545.2h0M247.3 1554.3h0M244.9 1566.5h0M224.1 1569h0M235.1 1572.7h0M236.3 1577.6h0M249.8 1572.7h0M290.7 1566.5h0M301.2 1568.2h0M304.9 1570.2h0M318.9 1567.5h0M270.6 1576.3h0M296.3 1581.7h0M302.9 1582.9h0M338 1581.7h0M207.7 1632.2h0M229 1624.8h0M258.9 1649.8h0M271.3 1649.8h0M268.2 1660.1h0M263.8 1609.4h0M278 1599.6h0M242.9 1603.3h0M253.5 1591h0M213.1 1610.6h0M259.6 1588.6h0M279.2 1571.4h0M295.1 1576.3h0M227.8 1620.4h0M199.6 1588.1h0M244.9 1556.7h0M281.6 1588.6h0M290.2 1594.7h0" stroke="#3a3a3a" stroke-width="1.7" stroke-linecap="round" fill="none"/>
<circle cx="688" cy="1581.2" r="1.2" fill="#fbd2c4"/><circle cx="675.2" cy="1581.7" r="1.2" fill="#fbd2c4"/><circle cx="749.2" cy="1574.4" r="1.2" fill="#fbd2c4"/><circle cx="713.7" cy="1593.5" r="1.2" fill="#fbd2c4"/><circle cx="754.6" cy="1575.8" r="2" fill="#f9b5a0"/><circle cx="726.4" cy="1537.6" r="1.5" fill="#f9b5a0"/><circle cx="726.7" cy="1641.7" r="1.5" fill="#f9b5a0"/><circle cx="733.3" cy="1585.4" r="1.5" fill="#f9b5a0"/><circle cx="768.8" cy="1591" r="1.5" fill="#f9b5a0"/><circle cx="754.1" cy="1584.2" r="1.5" fill="#f9b5a0"/><circle cx="765.1" cy="1582.5" r="1.2" fill="#f9b5a0"/><circle cx="681.8" cy="1602" r="1.2" fill="#f9b5a0"/><circle cx="670.8" cy="1613.8" r="1.5" fill="#f9b5a0"/><circle cx="657.3" cy="1627.8" r="1.5" fill="#f9b5a0"/><circle cx="702.2" cy="1583.7" r="1.5" fill="#f9b5a0"/><circle cx="717.3" cy="1608.2" r="1.5" fill="#f9b5a0"/><circle cx="657.6" cy="1621.6" r="2.2" fill="#f4866d"/><circle cx="678.2" cy="1626.5" r="2.4" fill="#f4866d"/><circle cx="686.2" cy="1614.8" r="2.2" fill="#f4866d"/><circle cx="693.6" cy="1613.8" r="2.2" fill="#f4866d"/><circle cx="698.2" cy="1602" r="2.4" fill="#f4866d"/><circle cx="715.6" cy="1597.9" r="2.9" fill="#f4866d"/><circle cx="722.2" cy="1603.3" r="2.2" fill="#f4866d"/><circle cx="729.1" cy="1592.7" r="2.2" fill="#f4866d"/><circle cx="739.4" cy="1583.7" r="2.2" fill="#f4866d"/><circle cx="743.6" cy="1578" r="2.4" fill="#f4866d"/><circle cx="754.8" cy="1592.7" r="2.2" fill="#f4866d"/><circle cx="761.9" cy="1577.8" r="2.2" fill="#f4866d"/><circle cx="679.4" cy="1586.9" r="3.4" fill="#e8503f"/><circle cx="696" cy="1586.1" r="3.4" fill="#e8503f"/><circle cx="697.3" cy="1608.9" r="3.7" fill="#e8503f"/><circle cx="713.4" cy="1610.1" r="3.4" fill="#e8503f"/><circle cx="735.5" cy="1597.1" r="3.4" fill="#e8503f"/><circle cx="743.6" cy="1587.3" r="3.4" fill="#e8503f"/><circle cx="671.1" cy="1625.3" r="4.2" fill="#cf2028"/>
<path d="M736.2 1534.7h0M782.2 1546.9h0M784 1546.2h0M711.2 1545.2h0M717.3 1554.3h0M714.9 1566.5h0M694.1 1569h0M705.1 1572.7h0M706.3 1577.6h0M719.8 1572.7h0M760.7 1566.5h0M771.2 1568.2h0M774.9 1570.2h0M788.9 1567.5h0M740.6 1576.3h0M766.3 1581.7h0M772.9 1582.9h0M808 1581.7h0M677.7 1632.2h0M699 1624.8h0M728.9 1649.8h0M741.3 1649.8h0M738.2 1660.1h0M733.8 1609.4h0M748 1599.6h0M712.9 1603.3h0M723.5 1591h0M683.1 1610.6h0M729.6 1588.6h0M749.2 1571.4h0M765.1 1576.3h0M697.8 1620.4h0M669.6 1588.1h0M714.9 1556.7h0M751.6 1588.6h0M760.2 1594.7h0M683.1 1591h0M685.5 1608.2h0M690.4 1604.5h0M703.9 1600.8h0M708.8 1595.9h0M705.1 1608.2h0M700.2 1615.5h0M695.3 1621.6h0M697.8 1625.3h0M719.8 1593.5h0M725.9 1589.8h0M739.4 1593.5h0M746.7 1586.1h0M749.2 1595.9h0M733.3 1603.3h0M724.7 1613.1h0M714.9 1615.5h0M680.6 1622.9h0M664.7 1621.6h0M654.9 1629h0M712.5 1559.2h0M716.1 1549.4h0M750.4 1580h0M759 1582.5h0M767.6 1575.1h0M773.7 1561.6h0M710.3 1602.5h0M753.8 1582.5h0M756.7 1584.7h0M728.7 1594.8h0M730.9 1592.4h0M681.4 1616.6h0M718.5 1594.2h0M738.6 1593.3h0M674.9 1625.1h0M736 1589.7h0M692.6 1613.7h0M746.9 1597.3h0M754.4 1583.7h0M716.7 1599.7h0M757.3 1586h0M673 1608.6h0M686.9 1611.6h0M719.9 1596.9h0M716.9 1595.3h0M704.2 1600.7h0M724.3 1602.6h0M762.9 1580.9h0M726.5 1597.7h0M764.7 1576.5h0M736.8 1587.9h0M728.1 1595.1h0M728.2 1584.8h0M671.5 1627h0M720.7 1596.6h0M762.1 1576.4h0" stroke="#3a3a3a" stroke-width="1.7" stroke-linecap="round" fill="none"/>
<circle cx="243.7" cy="1904.2" r="1.5" fill="#c5dcef"/><circle cx="268.2" cy="1982.5" r="1.2" fill="#c5dcef"/><circle cx="232.7" cy="1947.8" r="1.2" fill="#c5dcef"/><circle cx="248.6" cy="1904.2" r="1" fill="#c5dcef"/><circle cx="259.6" cy="1908.6" r="1" fill="#c5dcef"/><circle cx="208.2" cy="1901.2" r="1" fill="#c5dcef"/><circle cx="235.6" cy="1957.1" r="1.2" fill="#c5dcef"/><circle cx="244.9" cy="1958.8" r="1" fill="#c5dcef"/><circle cx="269.4" cy="1963.2" r="1.2" fill="#c5dcef"/><circle cx="274.3" cy="1966.1" r="1.2" fill="#c5dcef"/><circle cx="257.1" cy="1974.2" r="1" fill="#c5dcef"/><circle cx="295.1" cy="2046.9" r="1" fill="#c5dcef"/><circle cx="322" cy="2043.8" r="1" fill="#c5dcef"/><circle cx="274.3" cy="1930.6" r="1" fill="#c5dcef"/><circle cx="201.3" cy="1938" r="1" fill="#c5dcef"/><circle cx="188.1" cy="1930.6" r="1.2" fill="#c5dcef"/><circle cx="231.4" cy="1956.3" r="1" fill="#c5dcef"/><circle cx="193.5" cy="1928.9" r="2.4" fill="#9fc8e4"/><circle cx="220.4" cy="1900" r="2.4" fill="#9fc8e4"/><circle cx="290.2" cy="1827" r="2" fill="#9fc8e4"/><circle cx="290.7" cy="1849.8" r="2" fill="#9fc8e4"/><circle cx="256.4" cy="1945.3" r="2.2" fill="#9fc8e4"/><circle cx="252.2" cy="1951.4" r="2" fill="#9fc8e4"/><circle cx="251.5" cy="1958.8" r="2.2" fill="#9fc8e4"/><circle cx="274.8" cy="1953.4" r="2" fill="#9fc8e4"/><circle cx="285.3" cy="1953.4" r="2" fill="#9fc8e4"/><circle cx="281.1" cy="1959.3" r="2.2" fill="#9fc8e4"/><circle cx="286.5" cy="1965.6" r="2" fill="#9fc8e4"/><circle cx="282.9" cy="1967.3" r="1.7" fill="#9fc8e4"/><circle cx="218.2" cy="1982" r="2" fill="#9fc8e4"/><circle cx="277.5" cy="1984.7" r="1.7" fill="#9fc8e4"/><circle cx="263.3" cy="1954.4" r="3.4" fill="#6aaad6"/><circle cx="171.4" cy="1950.2" r="2.9" fill="#6aaad6"/><circle cx="185.6" cy="1923.3" r="4.2" fill="#3f87c6"/><circle cx="265.2" cy="1946.5" r="4.2" fill="#3f87c6"/>
<path d="M186.1 1911h0M189.3 1916.7h0M195.2 1906.1h0M204 1917.9h0M213.1 1900h0M210.6 1900h0M224.1 1878h0M222.9 1880.4h0M243.7 1908.6h0M271.1 1925.2h0M269.4 1930.6h0M274.3 1930.1h0M193.5 1935.5h0M198.4 1930.6h0M200.8 1928.2h0M208.2 1933.1h0M213.1 1939.2h0M218 1929.4h0M222.9 1941.6h0M227.8 1934.3h0M231.4 1926.5h0M229 1941.6h0M235.1 1936.7h0M240 1933.1h0M244.9 1938h0M241.2 1942.9h0M247.3 1945.3h0M237.6 1946.5h0M225.3 1949h0M246.1 1933.1h0M254.7 1949h0M274.3 1961.2h0M275.5 1964.9h0M281.1 1970.3h0M265 1982h0M216.7 1989.4h0M214.3 1991.1h0M226.5 1999.2h0M223.3 1975.9h0M295.1 1843.7h0M298.8 1848.6h0M273.1 1958.8h0M213.5 1940.4h0M192.5 1923.4h0M193.7 1924.6h0M218.8 1935.3h0M217.8 1930.1h0M199.4 1915.1h0M219.5 1950.4h0M195.5 1919.4h0M201.8 1931.3h0M242.7 1952.6h0M227.4 1946h0M196.8 1926.8h0M230.2 1942.9h0M224.3 1939.5h0M238.9 1937.2h0M219.9 1934.8h0M233.6 1962.5h0M193.7 1932.6h0M199.4 1927.1h0M232.3 1929.5h0M242.7 1955.8h0M224.4 1933.7h0M245.8 1940.8h0M236.2 1944.1h0M236.5 1938.5h0M204.9 1937.9h0M190.6 1925h0M203.2 1931h0" stroke="#3a3a3a" stroke-width="1.7" stroke-linecap="round" fill="none"/>
<circle cx="690.4" cy="1900.5" r="1.5" fill="#f9b5a0"/><circle cx="658.1" cy="1916.4" r="1.5" fill="#f9b5a0"/><circle cx="662.7" cy="1928.7" r="1.5" fill="#f9b5a0"/><circle cx="655.6" cy="1929.9" r="1.2" fill="#f9b5a0"/><circle cx="673.3" cy="1917.6" r="1.2" fill="#f9b5a0"/><circle cx="692.1" cy="1880.4" r="1.2" fill="#f9b5a0"/><circle cx="759.5" cy="1826.5" r="1.2" fill="#f9b5a0"/><circle cx="759.5" cy="1849.1" r="1.2" fill="#f9b5a0"/><circle cx="767.6" cy="1848.1" r="1.2" fill="#f9b5a0"/><circle cx="710.7" cy="1904.2" r="1.5" fill="#f9b5a0"/><circle cx="713.2" cy="1908.6" r="1.2" fill="#f9b5a0"/><circle cx="790.8" cy="2043.8" r="1.2" fill="#f9b5a0"/><circle cx="765.1" cy="2046.9" r="1.2" fill="#f9b5a0"/><circle cx="691.9" cy="1975.4" r="1.5" fill="#f9b5a0"/><circle cx="686.7" cy="1989.4" r="1.2" fill="#f9b5a0"/><circle cx="726.4" cy="1974.2" r="1.2" fill="#f9b5a0"/><circle cx="736.9" cy="1982.5" r="1.2" fill="#f9b5a0"/><circle cx="707.1" cy="1947.3" r="1.7" fill="#f9b5a0"/><circle cx="701.4" cy="1947.3" r="1.5" fill="#f9b5a0"/><circle cx="696" cy="1940.9" r="1.2" fill="#f9b5a0"/><circle cx="684.8" cy="1938.7" r="1.2" fill="#f9b5a0"/><circle cx="705.1" cy="1956.3" r="1.5" fill="#f9b5a0"/><circle cx="719.8" cy="1951.4" r="1.5" fill="#f9b5a0"/><circle cx="729.6" cy="1957.1" r="1.5" fill="#f9b5a0"/><circle cx="749.9" cy="1953.4" r="1.5" fill="#f9b5a0"/><circle cx="713.2" cy="1931.8" r="1.2" fill="#f9b5a0"/><circle cx="740.1" cy="1929.4" r="2.4" fill="#f4866d"/><circle cx="654.4" cy="1922.5" r="2.2" fill="#f4866d"/><circle cx="678.7" cy="1899.3" r="2.2" fill="#f4866d"/><circle cx="684.8" cy="1899.3" r="2.2" fill="#f4866d"/><circle cx="714.2" cy="1944.1" r="2.2" fill="#f4866d"/><circle cx="713.7" cy="1958.3" r="2.4" fill="#f4866d"/><circle cx="734" cy="1954.4" r="2.4" fill="#f4866d"/><circle cx="743.6" cy="1953.4" r="2.2" fill="#f4866d"/><circle cx="738.7" cy="1963.2" r="2.4" fill="#f4866d"/><circle cx="742.3" cy="1958.3" r="2" fill="#f4866d"/><circle cx="748" cy="1962.5" r="2" fill="#f4866d"/><circle cx="743.6" cy="1965.6" r="2" fill="#f4866d"/><circle cx="752.4" cy="1967.3" r="1.7" fill="#f4866d"/><circle cx="687" cy="1982" r="3.2" fill="#e8503f"/><circle cx="725.4" cy="1945.8" r="3.2" fill="#e8503f"/><circle cx="720.5" cy="1958.8" r="3.2" fill="#e8503f"/>
<path d="M656.1 1911h0M659.3 1916.7h0M665.2 1906.1h0M674 1917.9h0M683.1 1900h0M680.6 1900h0M694.1 1878h0M692.9 1880.4h0M713.7 1908.6h0M741.1 1925.2h0M739.4 1930.6h0M744.3 1930.1h0M663.5 1935.5h0M668.4 1930.6h0M670.8 1928.2h0M678.2 1933.1h0M683.1 1939.2h0M688 1929.4h0M692.9 1941.6h0M697.8 1934.3h0M701.4 1926.5h0M699 1941.6h0M705.1 1936.7h0M710 1933.1h0M714.9 1938h0M711.2 1942.9h0M717.3 1945.3h0M707.6 1946.5h0M695.3 1949h0M716.1 1933.1h0M724.7 1949h0M744.3 1961.2h0M745.5 1964.9h0M751.1 1970.3h0M735 1982h0M686.7 1989.4h0M684.3 1991.1h0M696.5 1999.2h0M693.3 1975.9h0M765.1 1843.7h0M768.8 1848.6h0M743.1 1958.8h0M665.9 1915.9h0M673.3 1930.6h0M676.9 1938h0M681.1 1935.5h0M691.6 1935.5h0M702.7 1930.6h0M708.8 1936.7h0M714.9 1950.2h0M754.1 1953.9h0M755.3 1960h0M746.7 1984.5h0M751.6 1985.7h0M733.3 1981.6h0M676.5 1927.9h0M706.2 1943.5h0M723.3 1958.6h0M685.6 1937.2h0M673.4 1925h0M677.8 1929.8h0M688.5 1928.8h0M667.5 1950.2h0M662.7 1919.6h0M698.9 1949.7h0M687.5 1921.8h0M697.3 1939.7h0M716.9 1946.8h0M714.5 1940.4h0M714.3 1952h0M718.3 1954.8h0M665.2 1914.3h0M721.2 1938.8h0M675.4 1935.9h0M698.3 1943.1h0M691.4 1930.4h0M678.8 1929.8h0" stroke="#3a3a3a" stroke-width="1.7" stroke-linecap="round" fill="none"/>
<text x="365.25" y="1699.3" textLength="107.37" lengthAdjust="spacingAndGlyphs">LH <tspan font-style="italic">n</tspan> = 11</text>
<text x="365.25" y="2059.2" textLength="98.75" lengthAdjust="spacingAndGlyphs">RH <tspan font-style="italic">n</tspan> = 6</text>
</g>
<g id="panel-efg">
<text x="998.5" y="1288" font-size="35" font-weight="bold" stroke="#231f20" stroke-width="0.9" stroke-linejoin="round">e</text>
<text x="1239.95" y="1301" textLength="98.09" lengthAdjust="spacingAndGlyphs">LH + RH</text>
<rect x="1161.1" y="1361.2" width="10.1" height="20.1" fill="#7077b8"/>
<rect x="1161.1" y="1381.3" width="1.9" height="20.1" fill="#f26f52"/>
<rect x="1161.1" y="1418.8" width="6.7" height="20.1" fill="#7077b8"/>
<rect x="1161.1" y="1438.9" width="3.5" height="20.1" fill="#f26f52"/>
<rect x="1161.1" y="1476.3" width="16.7" height="20.1" fill="#7077b8"/>
<rect x="1161.1" y="1496.4" width="11.7" height="20.1" fill="#f26f52"/>
<rect x="1161.1" y="1534.2" width="19.9" height="20.1" fill="#7077b8"/>
<rect x="1161.1" y="1554.3" width="8.5" height="20.1" fill="#f26f52"/>
<rect x="1161.1" y="1591.7" width="242.3" height="20.1" fill="#7077b8"/>
<rect x="1161.1" y="1611.8" width="173" height="20.1" fill="#f26f52"/>
<line x1="1161.1" y1="1314.2" x2="1161.1" y2="1647.7" stroke="#4d4d4f" stroke-width="1.5"/>
<line x1="1160.4" y1="1647" x2="1417" y2="1647" stroke="#4d4d4f" stroke-width="1.5"/>
<line x1="1325.9" y1="1639.5" x2="1325.9" y2="1647" stroke="#4d4d4f" stroke-width="1.5"/>
<line x1="1159.5" y1="1381.3" x2="1166" y2="1381.3" stroke="#4d4d4f" stroke-width="1.2"/>
<line x1="1159.5" y1="1438.9" x2="1166" y2="1438.9" stroke="#4d4d4f" stroke-width="1.2"/>
<line x1="1159.5" y1="1496.4" x2="1166" y2="1496.4" stroke="#4d4d4f" stroke-width="1.2"/>
<line x1="1159.5" y1="1554.3" x2="1166" y2="1554.3" stroke="#4d4d4f" stroke-width="1.2"/>
<line x1="1159.5" y1="1611.8" x2="1166" y2="1611.8" stroke="#4d4d4f" stroke-width="1.2"/>
<text x="1063.25" y="1388.2" textLength="86.33" lengthAdjust="spacingAndGlyphs">Precent</text>
<text x="1026.56" y="1446.2" textLength="124.45" lengthAdjust="spacingAndGlyphs">Supramarg</text>
<text x="1015.75" y="1503.7" textLength="134.7" lengthAdjust="spacingAndGlyphs">Middletemp</text>
<text x="1048.95" y="1560.4" textLength="100.63" lengthAdjust="spacingAndGlyphs">Postcent</text>
<text x="997.86" y="1617.2" textLength="152.59" lengthAdjust="spacingAndGlyphs">Superiortemp</text>
<rect x="1261.1" y="1320.3" width="49.9" height="21.8" fill="#7077b8"/>
<rect x="1261.1" y="1350.3" width="49.9" height="21.5" fill="#f26f52"/>
<text x="1320.15" y="1339.7" textLength="72.16" lengthAdjust="spacingAndGlyphs">Native</text>
<text x="1320.15" y="1369.7" textLength="85.87" lengthAdjust="spacingAndGlyphs">Foreign</text>
<text x="1160.8" y="1677.7" text-anchor="middle">0</text>
<text x="1208.13" y="1677.7" textLength="69.05" lengthAdjust="spacingAndGlyphs">Count</text>
<text x="1304.3" y="1677.7" textLength="42.68" lengthAdjust="spacingAndGlyphs">100</text>
<text x="998" y="1780" font-size="35" font-weight="bold" stroke="#231f20" stroke-width="0.9" stroke-linejoin="round">f</text>
<path d="M1132.7 1913.7L1132.7 1817.9A95.8 95.8 0 1 1 1051.81 1965.03Z" fill="#d1d2d4"/>
<path d="M1124.8 1909L1043.91 1960.33A95.8 95.8 0 0 1 1124.8 1813.2Z" fill="#9793c9"/>
<path d="M1356.2 1917.8L1356.2 1822A95.8 95.8 0 1 1 1290.62 1847.96Z" fill="#d1d2d4"/>
<path d="M1352.9 1909.5L1287.32 1839.66A95.8 95.8 0 0 1 1352.9 1813.7Z" fill="#f5989b"/>
<text x="1051.35" y="1877" textLength="52.84" lengthAdjust="spacingAndGlyphs">34%</text>
<text x="1131.73" y="1965.2" textLength="52.36" lengthAdjust="spacingAndGlyphs">66%</text>
<text x="1299.7" y="1852.8" textLength="52.4" lengthAdjust="spacingAndGlyphs">12%</text>
<text x="1343.21" y="1959.7" textLength="52.98" lengthAdjust="spacingAndGlyphs">88%</text>
<rect x="1017" y="2044" width="21" height="18.2" fill="#f5989b"/>
<rect x="1038" y="2044" width="21.2" height="18.2" fill="#9793c9"/>
<rect x="1017" y="2076.5" width="42.2" height="18.2" fill="#d1d2d4"/>
<text x="1069.59" y="2061.6" textLength="117.18" lengthAdjust="spacingAndGlyphs">Word level</text>
<text x="1068.56" y="2093.6" textLength="214.35" lengthAdjust="spacingAndGlyphs">Speech responsive</text>
<text x="1490.5" y="1286.6" font-size="35" font-weight="bold" stroke="#231f20" stroke-width="0.9" stroke-linejoin="round">g</text>
<rect x="1588.2" y="1296" width="60.4" height="496.4" fill="#c5d9f0"/>
<rect x="1648.6" y="1296" width="482.9" height="496.4" fill="#c8c5d9"/>
<rect x="1648.6" y="1792.4" width="482.9" height="62.5" fill="#fcddd8"/>
<line x1="1588.2" y1="1296" x2="1883" y2="1296" stroke="#a9b9e0" stroke-width="1.5"/>
<line x1="2131.5" y1="1296" x2="2131.5" y2="1792.4" stroke="#a9b9e0" stroke-width="1.2"/>
<line x1="1648.6" y1="1296" x2="1648.6" y2="1854.9" stroke="#6d6e71" stroke-width="4.4" opacity="0.9"/>
<line x1="1588.2" y1="1792.7" x2="2131.5" y2="1792.7" stroke="#63646a" stroke-width="4" opacity="0.9"/>
<line x1="1588.2" y1="1854.9" x2="1968.6" y2="1464.6" stroke="#231f20" stroke-width="5"/>
<g fill="#2f2f31" fill-opacity="0.82" stroke="#232325" stroke-opacity="0.5" stroke-width="0.5"><circle cx="1825.14" cy="1305.49" r="3.6"/><circle cx="1695.32" cy="1342.13" r="3.6"/><circle cx="1717.65" cy="1358.53" r="3.6"/><circle cx="1670.19" cy="1507.2" r="3.6"/><circle cx="1673.33" cy="1510.34" r="3.6"/><circle cx="1608.08" cy="1531.28" r="3.6"/><circle cx="1663.21" cy="1534.42" r="3.6"/><circle cx="1736.85" cy="1526.74" r="3.6"/><circle cx="1603.19" cy="1552.22" r="3.6"/><circle cx="1667.4" cy="1547.68" r="3.6"/><circle cx="1717.31" cy="1549.77" r="3.6"/><circle cx="1696.02" cy="1560.59" r="3.6"/><circle cx="1705.44" cy="1563.03" r="3.6"/><circle cx="1774.19" cy="1563.03" r="3.6"/><circle cx="1698.81" cy="1578.74" r="3.6"/><circle cx="1700.21" cy="1584.32" r="3.6"/><circle cx="1630.76" cy="1590.95" r="3.6"/><circle cx="1758.14" cy="1589.91" r="3.6"/><circle cx="1638.09" cy="1609.1" r="3.6"/><circle cx="1693.58" cy="1612.24" r="3.6"/><circle cx="1754.3" cy="1619.22" r="3.6"/><circle cx="1660.77" cy="1623.41" r="3.6"/><circle cx="1636.69" cy="1631.78" r="3.6"/><circle cx="1684.85" cy="1632.83" r="3.6"/><circle cx="1688.69" cy="1635.27" r="3.6"/><circle cx="1640.18" cy="1642.25" r="3.6"/><circle cx="1653.44" cy="1645.39" r="3.6"/><circle cx="1673.33" cy="1647.14" r="3.6"/><circle cx="1696.37" cy="1649.23" r="3.6"/><circle cx="1615.75" cy="1650.63" r="3.6"/><circle cx="1651" cy="1652.37" r="3.6"/><circle cx="1663.56" cy="1650.63" r="3.6"/><circle cx="1667.75" cy="1655.51" r="3.6"/><circle cx="1712.07" cy="1657.26" r="3.6"/><circle cx="1777.33" cy="1654.82" r="3.6"/><circle cx="1761.28" cy="1660.4" r="3.6"/><circle cx="1698.81" cy="1668.78" r="3.6"/><circle cx="1720.1" cy="1667.38" r="3.6"/><circle cx="1721.84" cy="1670.17" r="3.6"/><circle cx="1603.19" cy="1679.94" r="3.6"/><circle cx="1633.55" cy="1678.2" r="3.6"/><circle cx="1642.97" cy="1682.39" r="3.6"/><circle cx="1623.43" cy="1686.22" r="3.6"/><circle cx="1636.34" cy="1687.62" r="3.6"/><circle cx="1638.79" cy="1689.36" r="3.6"/><circle cx="1682.06" cy="1684.83" r="3.6"/><circle cx="1691.13" cy="1686.57" r="3.6"/><circle cx="1734.41" cy="1690.41" r="3.6"/><circle cx="1764.77" cy="1685.18" r="3.6"/><circle cx="1801.06" cy="1686.92" r="3.6"/><circle cx="1660.77" cy="1693.9" r="3.6"/><circle cx="1693.92" cy="1696.34" r="3.6"/><circle cx="1660.07" cy="1697.39" r="3.6"/><circle cx="1673.68" cy="1703.39" r="3.6"/><circle cx="1698.11" cy="1705.14" r="3.6"/><circle cx="1745.57" cy="1704.09" r="3.6"/><circle cx="1638.09" cy="1708.28" r="3.6"/><circle cx="1645.42" cy="1708.28" r="3.6"/><circle cx="1649.25" cy="1710.37" r="3.6"/><circle cx="1676.48" cy="1710.37" r="3.6"/><circle cx="1609.82" cy="1712.12" r="3.6"/><circle cx="1750.46" cy="1713.51" r="3.6"/><circle cx="1769.65" cy="1709.68" r="3.6"/><circle cx="1633.55" cy="1717" r="3.6"/><circle cx="1608.77" cy="1718.4" r="3.6"/><circle cx="1689.39" cy="1717.35" r="3.6"/><circle cx="1798.27" cy="1717.35" r="3.6"/><circle cx="1607.03" cy="1723.98" r="3.6"/><circle cx="1621.34" cy="1724.68" r="3.6"/><circle cx="1636.34" cy="1722.94" r="3.6"/><circle cx="1703" cy="1722.94" r="3.6"/><circle cx="1702.65" cy="1725.03" r="3.6"/><circle cx="1600.4" cy="1727.47" r="3.6"/><circle cx="1667.4" cy="1727.12" r="3.6"/><circle cx="1814.32" cy="1729.22" r="3.6"/><circle cx="1664.96" cy="1731.66" r="3.6"/><circle cx="1672.99" cy="1731.31" r="3.6"/><circle cx="1679.27" cy="1733.41" r="3.6"/><circle cx="1685.55" cy="1734.1" r="3.6"/><circle cx="1628.32" cy="1734.1" r="3.6"/><circle cx="1666.35" cy="1736.2" r="3.6"/><circle cx="1675.08" cy="1736.9" r="3.6"/><circle cx="1728.12" cy="1735.85" r="3.6"/><circle cx="1670.54" cy="1739.69" r="3.6"/><circle cx="1756.39" cy="1739.34" r="3.6"/><circle cx="1649.25" cy="1743.18" r="3.6"/><circle cx="1662.52" cy="1742.48" r="3.6"/><circle cx="1603.54" cy="1744.92" r="3.6"/><circle cx="1653.79" cy="1747.02" r="3.6"/><circle cx="1675.08" cy="1747.02" r="3.6"/><circle cx="1718" cy="1747.71" r="3.6"/><circle cx="1767.21" cy="1748.76" r="3.6"/><circle cx="1700.21" cy="1750.16" r="3.6"/><circle cx="1626.22" cy="1753.3" r="3.6"/><circle cx="1635.64" cy="1752.6" r="3.6"/><circle cx="1642.62" cy="1753.65" r="3.6"/><circle cx="1611.57" cy="1754.34" r="3.6"/><circle cx="1603.89" cy="1756.44" r="3.6"/><circle cx="1663.56" cy="1754.34" r="3.6"/><circle cx="1700.9" cy="1755.74" r="3.6"/><circle cx="1712.07" cy="1756.44" r="3.6"/><circle cx="1627.27" cy="1756.79" r="3.6"/><circle cx="1640.53" cy="1757.49" r="3.6"/><circle cx="1613.31" cy="1759.23" r="3.6"/><circle cx="1677.17" cy="1757.83" r="3.6"/><circle cx="1644.37" cy="1758.18" r="3.6"/><circle cx="1600.05" cy="1763.07" r="3.6"/><circle cx="1661.12" cy="1763.42" r="3.6"/><circle cx="1689.39" cy="1763.77" r="3.6"/><circle cx="1711.72" cy="1764.12" r="3.6"/><circle cx="1772.79" cy="1762.37" r="3.6"/><circle cx="1622.73" cy="1765.16" r="3.6"/><circle cx="1706.84" cy="1765.51" r="3.6"/><circle cx="1664.61" cy="1767.26" r="3.6"/><circle cx="1705.09" cy="1766.56" r="3.6"/><circle cx="1639.48" cy="1767.95" r="3.6"/><circle cx="1748.71" cy="1768.65" r="3.6"/><circle cx="1619.94" cy="1770.4" r="3.6"/><circle cx="1627.62" cy="1771.1" r="3.6"/><circle cx="1609.82" cy="1771.44" r="3.6"/><circle cx="1689.04" cy="1771.79" r="3.6"/><circle cx="1682.76" cy="1774.93" r="3.6"/><circle cx="1632.5" cy="1776.68" r="3.6"/><circle cx="1663.21" cy="1776.33" r="3.6"/><circle cx="1644.37" cy="1776.68" r="3.6"/><circle cx="1838.75" cy="1777.03" r="3.6"/><circle cx="1645.77" cy="1779.82" r="3.6"/><circle cx="1662.52" cy="1780.17" r="3.6"/><circle cx="1671.94" cy="1781.91" r="3.6"/><circle cx="1680.31" cy="1783.66" r="3.6"/><circle cx="1633.9" cy="1785.05" r="3.6"/><circle cx="1613.31" cy="1787.15" r="3.6"/><circle cx="1624.48" cy="1787.85" r="3.6"/><circle cx="1640.53" cy="1787.15" r="3.6"/><circle cx="1697.07" cy="1786.45" r="3.6"/><circle cx="1692.53" cy="1788.89" r="3.6"/><circle cx="1638.09" cy="1790.29" r="3.6"/><circle cx="1591.67" cy="1790.99" r="3.6"/><circle cx="1659.03" cy="1790.99" r="3.6"/><circle cx="1716.96" cy="1790.99" r="3.6"/><circle cx="1660.42" cy="1793.08" r="3.6"/><circle cx="1764.42" cy="1793.08" r="3.6"/><circle cx="1670.54" cy="1794.83" r="3.6"/><circle cx="1674.73" cy="1795.52" r="3.6"/><circle cx="1682.06" cy="1795.52" r="3.6"/><circle cx="1685.2" cy="1796.92" r="3.6"/><circle cx="1657.98" cy="1797.62" r="3.6"/><circle cx="1673.68" cy="1797.97" r="3.6"/><circle cx="1734.75" cy="1796.22" r="3.6"/><circle cx="1718" cy="1801.11" r="3.6"/><circle cx="1719.05" cy="1804.25" r="3.6"/><circle cx="1698.11" cy="1805.3" r="3.6"/><circle cx="1695.32" cy="1806.69" r="3.6"/><circle cx="1665.66" cy="1812.62" r="3.6"/><circle cx="1657.28" cy="1814.72" r="3.6"/><circle cx="1663.21" cy="1818.91" r="3.6"/><circle cx="1668.45" cy="1820.3" r="3.6"/><circle cx="1727.43" cy="1837.75" r="3.6"/><circle cx="1685.55" cy="1839.5" r="3.6"/><circle cx="1684.5" cy="1845.43" r="3.6"/><circle cx="1650.65" cy="1847.87" r="3.6"/></g>
<line x1="1588.2" y1="1296" x2="1588.2" y2="1855.6" stroke="#4d4d4f" stroke-width="1.5"/>
<line x1="1587.5" y1="1854.9" x2="2131.5" y2="1854.9" stroke="#4d4d4f" stroke-width="1.5"/>
<line x1="1588.2" y1="1296" x2="1594.2" y2="1296" stroke="#4d4d4f" stroke-width="1.3"/>
<line x1="2131.5" y1="1848.9" x2="2131.5" y2="1854.9" stroke="#4d4d4f" stroke-width="1.3"/>
<rect x="1883" y="1295" width="249.5" height="226.5" fill="#ffffff" opacity="0.7"/>
<rect x="1955.3" y="1266.8" width="104" height="101.9" fill="#b7c7e6"/>
<rect x="2059.3" y="1265.7" width="100.5" height="103" fill="#c7afba"/>
<rect x="2059.3" y="1368.7" width="100.5" height="95.9" fill="#fcd5c5"/>
<rect x="1955.3" y="1368.7" width="104" height="95.9" fill="#ffffff"/>
<line x1="1955.3" y1="1265.7" x2="1955.3" y2="1465.3" stroke="#4d4d4f" stroke-width="1.5"/>
<line x1="1954.6" y1="1464.6" x2="2160" y2="1464.6" stroke="#4d4d4f" stroke-width="1.5"/>
<line x1="1955.3" y1="1315.3" x2="1962" y2="1315.3" stroke="#4d4d4f" stroke-width="1.3"/>
<line x1="1955.3" y1="1414.4" x2="1962" y2="1414.4" stroke="#4d4d4f" stroke-width="1.3"/>
<line x1="2006.3" y1="1458" x2="2006.3" y2="1464.6" stroke="#4d4d4f" stroke-width="1.3"/>
<line x1="2108.9" y1="1458" x2="2108.9" y2="1464.6" stroke="#4d4d4f" stroke-width="1.3"/>
<text x="1895.58" y="1322.2" textLength="48.33" lengthAdjust="spacingAndGlyphs">+UV</text>
<text x="1897.7" y="1421" textLength="46.21" lengthAdjust="spacingAndGlyphs">–UV</text>
<text x="2006.3" y="1326" text-anchor="middle" textLength="28.14" lengthAdjust="spacingAndGlyphs">77</text>
<text x="2110" y="1326" text-anchor="middle" textLength="28.14" lengthAdjust="spacingAndGlyphs">98</text>
<text x="2110" y="1426.2" text-anchor="middle" textLength="28.14" lengthAdjust="spacingAndGlyphs">24</text>
<text x="1978.7" y="1496.6" textLength="45.01" lengthAdjust="spacingAndGlyphs">–UV</text>
<text x="2079.08" y="1496.6" textLength="47.83" lengthAdjust="spacingAndGlyphs">+UV</text>
<text x="1526.12" y="1305.8" textLength="49.86" lengthAdjust="spacingAndGlyphs">0.08</text>
<text x="1574.9" y="1801.8" text-anchor="end">0</text>
<text x="1648.9" y="1888.3" text-anchor="middle">0</text>
<text x="2106.12" y="1888.3" textLength="49.16" lengthAdjust="spacingAndGlyphs">0.08</text>
<text x="1718.05" y="1899.5" textLength="276.21" lengthAdjust="spacingAndGlyphs">Foreign word + surp Δ<tspan font-style="italic">R</tspan><tspan font-size="18" dy="-11.5">2</tspan></text>
<text transform="translate(1549 1581) rotate(-90)" text-anchor="middle">Native word + surp Δ<tspan font-style="italic">R</tspan><tspan font-size="18" dy="-11.5">2</tspan></text>
</g>
</svg>
</body></html>
